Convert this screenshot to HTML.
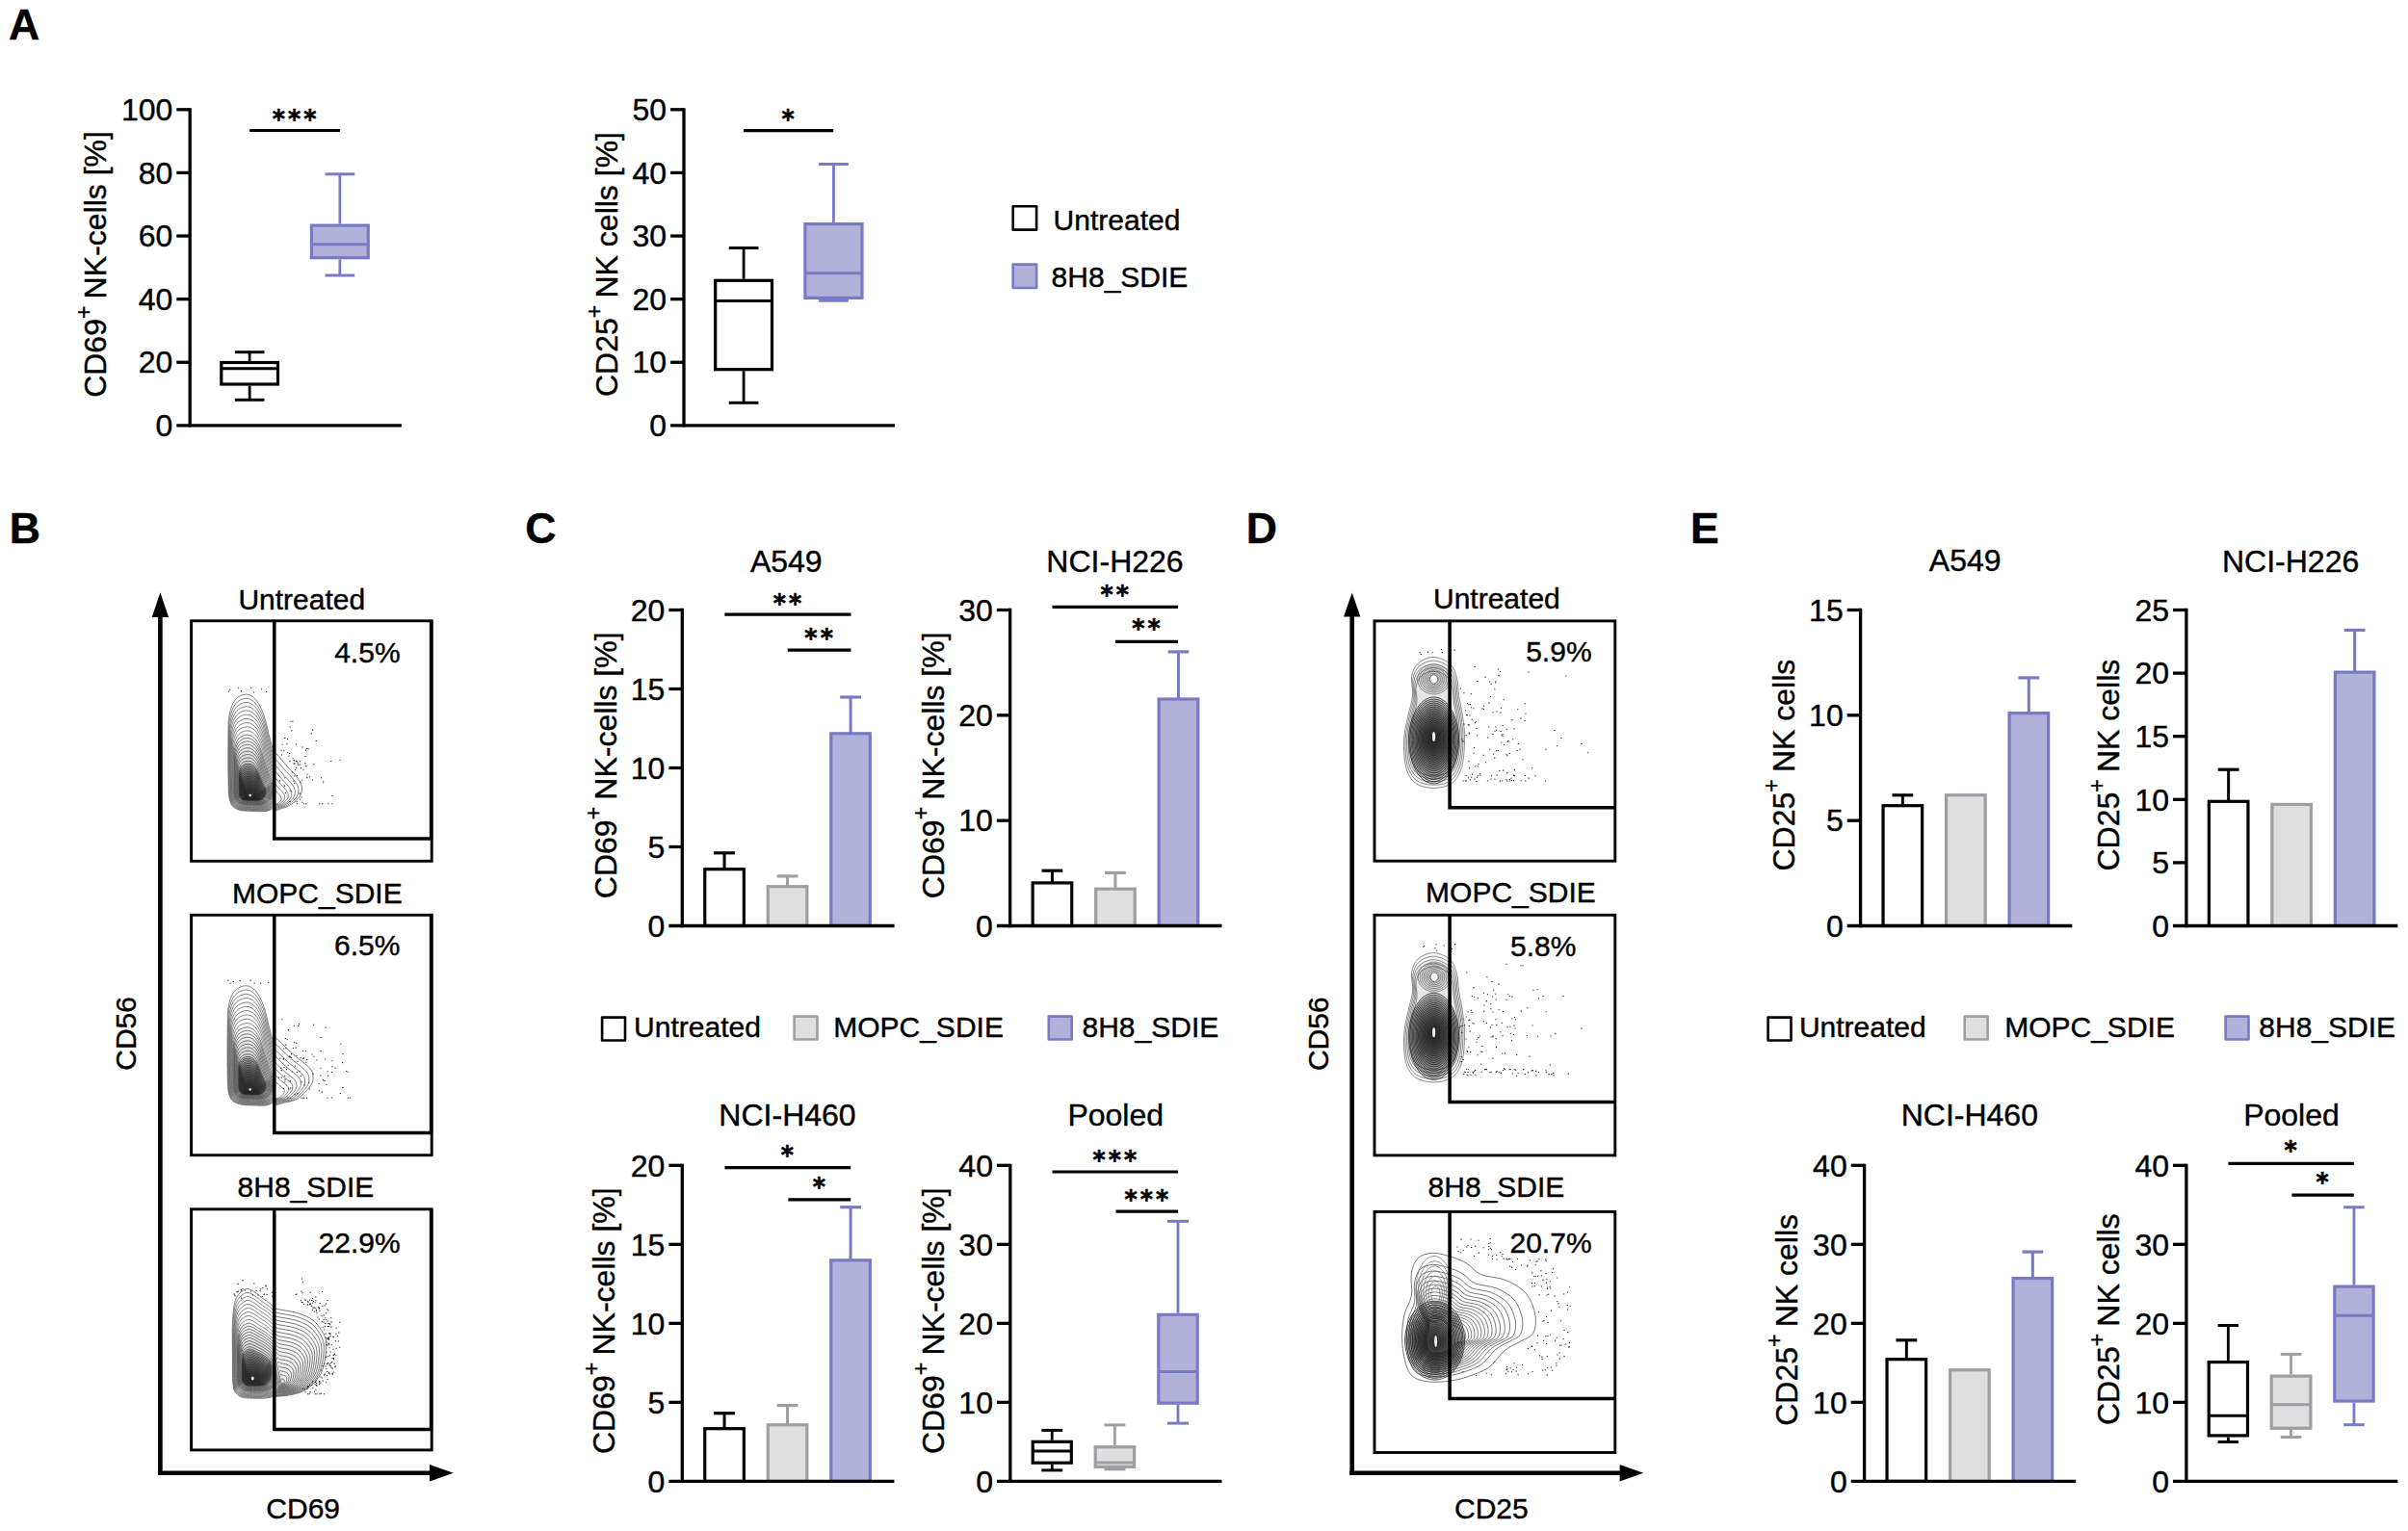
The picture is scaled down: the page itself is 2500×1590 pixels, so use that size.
<!DOCTYPE html>
<html lang="en"><head><meta charset="utf-8"><title>Figure</title>
<style>html,body{margin:0;padding:0;background:#fff}svg{display:block}text{stroke:#000;stroke-width:.4px}text.st{stroke-width:.65px}</style>
</head><body>
<svg width="2500" height="1590" viewBox="0 0 2500 1590" font-family='"Liberation Sans", Arial, Helvetica, sans-serif' font-size="30" fill="#000">
<text x="9" y="41.4" font-weight="bold" font-size="44.6">A</text>
<line x1="259.15" y1="365.7" x2="259.15" y2="374.9" stroke="#000" stroke-width="2.8"/>
<line x1="259.15" y1="400.6" x2="259.15" y2="415.3" stroke="#000" stroke-width="2.8"/>
<line x1="243.85" y1="365.7" x2="274.45" y2="365.7" stroke="#000" stroke-width="3"/>
<line x1="243.85" y1="415.3" x2="274.45" y2="415.3" stroke="#000" stroke-width="3"/>
<rect x="229.8" y="376.5" width="58.7" height="22.5" stroke="#000" fill="#fff" stroke-width="3.2"/>
<line x1="229.8" y1="382.8" x2="288.5" y2="382.8" stroke="#000" stroke-width="3"/>
<line x1="352.85" y1="180.8" x2="352.85" y2="232.5" stroke="#7a79c3" stroke-width="2.8"/>
<line x1="352.85" y1="269.3" x2="352.85" y2="286" stroke="#7a79c3" stroke-width="2.8"/>
<line x1="337.5" y1="180.8" x2="368.2" y2="180.8" stroke="#7a79c3" stroke-width="3"/>
<line x1="337.5" y1="286" x2="368.2" y2="286" stroke="#7a79c3" stroke-width="3"/>
<rect x="323.4" y="234.1" width="58.9" height="33.6" stroke="#7a79c3" fill="#b2b1d9" stroke-width="3.2"/>
<line x1="323.4" y1="253.7" x2="382.3" y2="253.7" stroke="#7a79c3" stroke-width="3"/>
<line x1="259.2" y1="135.5" x2="352.9" y2="135.5" stroke="#000" stroke-width="3.2"/>
<text transform="translate(305.55 132.67) scale(0.94 1)" x="1.65" text-anchor="middle" font-family='"DejaVu Sans", "Liberation Sans", sans-serif' font-weight="bold" font-size="26.8" letter-spacing="3.3" class="st">***</text>
<text transform="translate(110.4 274.5) rotate(-90)" text-anchor="middle" font-size="32">CD69<tspan dy="-15.5" font-size="23">+</tspan><tspan dy="15.5" font-size="26"> </tspan>NK-cells [%]</text>
<line x1="772.1" y1="257.5" x2="772.1" y2="289.7" stroke="#000" stroke-width="2.8"/>
<line x1="772.1" y1="385.3" x2="772.1" y2="418.3" stroke="#000" stroke-width="2.8"/>
<line x1="756.75" y1="257.5" x2="787.45" y2="257.5" stroke="#000" stroke-width="3"/>
<line x1="756.75" y1="418.3" x2="787.45" y2="418.3" stroke="#000" stroke-width="3"/>
<rect x="742.7" y="291.3" width="58.8" height="92.4" stroke="#000" fill="#fff" stroke-width="3.2"/>
<line x1="742.7" y1="312.6" x2="801.5" y2="312.6" stroke="#000" stroke-width="3"/>
<line x1="865.45" y1="170.5" x2="865.45" y2="231" stroke="#7a79c3" stroke-width="2.8"/>
<line x1="865.45" y1="311" x2="865.45" y2="312.2" stroke="#7a79c3" stroke-width="2.8"/>
<line x1="850.1" y1="170.5" x2="880.8" y2="170.5" stroke="#7a79c3" stroke-width="3"/>
<line x1="850.1" y1="312.2" x2="880.8" y2="312.2" stroke="#7a79c3" stroke-width="3"/>
<rect x="835.9" y="232.6" width="59.1" height="76.8" stroke="#7a79c3" fill="#b2b1d9" stroke-width="3.2"/>
<line x1="835.9" y1="283.7" x2="895" y2="283.7" stroke="#7a79c3" stroke-width="3"/>
<line x1="772" y1="135.7" x2="865.2" y2="135.7" stroke="#000" stroke-width="3.2"/>
<text transform="translate(818.1 133.37) scale(0.94 1)" x="1.65" text-anchor="middle" font-family='"DejaVu Sans", "Liberation Sans", sans-serif' font-weight="bold" font-size="26.8" letter-spacing="3.3" class="st">*</text>
<text transform="translate(640.6 274.5) rotate(-90)" text-anchor="middle" font-size="32">CD25<tspan dy="-15.5" font-size="23">+</tspan><tspan dy="15.5" font-size="26"> </tspan>NK cells [%]</text>
<rect x="1051.7" y="214.2" width="24.4" height="24.4" stroke="#000" fill="#fff" stroke-width="2.6" stroke-linejoin="round"/>
<text x="1093.6" y="238.8">Untreated</text>
<rect x="1051.7" y="274.6" width="24.4" height="24.4" stroke="#7a79c3" fill="#b2b1d9" stroke-width="2.6" stroke-linejoin="round"/>
<text x="1091.6" y="298">8H8_SDIE</text>
<text x="9.8" y="563.9" font-weight="bold" font-size="44.6">B</text>
<line x1="166.4" y1="1532" x2="166.4" y2="639.6" stroke="#000" stroke-width="4.6"/>
<polygon points="166.4,615.2 157.7,641 175.1,641" fill="#000"/>
<line x1="164.3" y1="1529.7" x2="447" y2="1529.7" stroke="#000" stroke-width="4.6"/>
<polygon points="470.7,1529.7 446,1521 446,1538.4" fill="#000"/>
<clipPath id="cl0"><rect x="190" y="644.8" width="94.7" height="260"/></clipPath>
<clipPath id="cr0"><rect x="284.7" y="644.8" width="200" height="260"/></clipPath>
<g fill="#000" fill-opacity="0.0" stroke="#5a5a5a" stroke-width="0.75" clip-path="url(#cl0)">
<path d="M255.5 721.1C259.2 721.1 262.9 723.4 266 727.1C269.1 730.8 271.7 736.6 274 743.1C276.3 749.6 277.8 758.1 280 766.1C282.2 774.1 285 784.6 287 791.1C289 797.5 291.5 798.3 292 804.8C292.5 811.2 292 823.7 290 829.8C288 835.9 284.7 839.3 280 841.4C275.3 843.5 267.7 842.6 262 842.4C256.3 842.2 249.9 842.3 246 840.4C242.1 838.5 240 836.7 238.5 830.8C237 824.9 237.2 815.8 237 804.8C236.8 793.8 236.8 775.1 237 764.8C237.2 754.5 236.8 749.4 238 743.1C239.2 736.8 241.1 730.8 244 727.1C246.9 723.4 251.8 721.1 255.5 721.1Z"/>
<path d="M255.6 725.3C259.2 725.3 262.8 727.5 265.8 731.1C268.9 734.6 271.4 740.2 273.7 746.4C275.9 752.7 277.4 760.8 279.5 768.5C281.6 776.2 284.4 786.3 286.3 792.5C288.3 798.7 290.7 799.5 291.2 805.6C291.7 811.8 291.2 823.8 289.3 829.6C287.3 835.5 284.1 838.8 279.5 840.8C275 842.8 267.5 841.9 261.9 841.7C256.4 841.6 250.2 841.7 246.3 839.8C242.5 838 240.5 836.3 239 830.6C237.5 824.9 237.8 816.2 237.5 805.6C237.3 795.1 237.4 777.1 237.5 767.2C237.7 757.4 237.4 752.4 238.5 746.4C239.7 740.4 241.5 734.6 244.4 731.1C247.2 727.5 252 725.3 255.6 725.3Z"/>
<path d="M255.7 729.5C259.2 729.5 262.8 731.6 265.7 735C268.6 738.4 271.1 743.8 273.3 749.7C275.5 755.7 276.9 763.5 279 770.9C281.1 778.3 283.8 788 285.7 793.9C287.6 799.8 289.9 800.6 290.4 806.5C290.9 812.4 290.4 823.9 288.5 829.5C286.6 835.1 283.4 838.2 279 840.2C274.6 842.1 267.3 841.2 261.9 841.1C256.5 840.9 250.4 841 246.7 839.2C242.9 837.5 241 835.9 239.5 830.4C238.1 825 238.3 816.6 238.1 806.5C237.9 796.4 237.9 779.2 238.1 769.7C238.3 760.2 237.9 755.5 239.1 749.7C240.2 744 242 738.4 244.8 735C247.5 731.6 252.2 729.5 255.7 729.5Z"/>
<path d="M255.8 733.7C259.2 733.7 262.7 735.7 265.5 739C268.4 742.2 270.8 747.3 272.9 753C275.1 758.8 276.5 766.2 278.5 773.3C280.5 780.3 283.1 789.6 285 795.3C286.8 801 289.2 801.7 289.6 807.3C290.1 813 289.6 824 287.8 829.3C285.9 834.7 282.8 837.7 278.5 839.6C274.2 841.4 267.1 840.6 261.8 840.4C256.6 840.3 250.6 840.4 247 838.7C243.4 837 241.5 835.4 240.1 830.2C238.7 825 238.9 817 238.7 807.3C238.4 797.7 238.5 781.2 238.7 772.1C238.8 763.1 238.5 758.6 239.6 753C240.7 747.5 242.5 742.2 245.2 739C247.9 735.7 252.4 733.7 255.8 733.7Z"/>
<path d="M255.9 737.9C259.2 737.9 262.6 739.8 265.4 742.9C268.2 746 270.5 750.9 272.6 756.4C274.7 761.8 276 769 278 775.7C279.9 782.4 282.5 791.3 284.3 796.7C286.1 802.1 288.3 802.8 288.8 808.2C289.2 813.6 288.8 824.1 287 829.2C285.2 834.3 282.2 837.2 278 838.9C273.8 840.7 266.9 839.9 261.8 839.8C256.7 839.6 250.9 839.7 247.4 838.1C243.8 836.5 242 835 240.6 830C239.3 825 239.5 817.4 239.3 808.2C239 799 239.1 783.2 239.3 774.6C239.4 766 239.1 761.6 240.2 756.4C241.2 751.1 242.9 746 245.6 742.9C248.2 739.8 252.6 737.9 255.9 737.9Z"/>
<path d="M256 742.1C259.2 742.1 262.5 743.9 265.2 746.9C267.9 749.8 270.2 754.5 272.2 759.7C274.2 764.9 275.6 771.7 277.5 778.1C279.4 784.5 281.8 792.9 283.6 798.1C285.3 803.2 287.5 803.9 288 809C288.4 814.2 288 824.2 286.2 829C284.5 833.9 281.5 836.6 277.5 838.3C273.4 840 266.7 839.3 261.7 839.1C256.8 839 251.1 839.1 247.7 837.5C244.3 836 242.5 834.6 241.2 829.8C239.8 825.1 240.1 817.8 239.8 809C239.6 800.2 239.7 785.3 239.8 777C240 768.8 239.7 764.7 240.7 759.7C241.7 754.7 243.4 749.8 246 746.9C248.5 743.9 252.8 742.1 256 742.1Z"/>
<path d="M256.1 746.3C259.2 746.3 262.4 748 265 750.8C267.7 753.6 269.8 758.1 271.8 763C273.8 767.9 275.1 774.4 276.9 780.5C278.8 786.6 281.2 794.6 282.9 799.5C284.6 804.4 286.7 805 287.1 809.9C287.5 814.8 287.1 824.3 285.4 828.9C283.7 833.5 280.9 836.1 276.9 837.7C273 839.3 266.5 838.6 261.7 838.5C256.8 838.3 251.4 838.4 248.1 836.9C244.8 835.5 243 834.2 241.7 829.6C240.4 825.1 240.7 818.2 240.4 809.9C240.2 801.5 240.3 787.3 240.4 779.5C240.6 771.7 240.3 767.8 241.3 763C242.3 758.2 243.9 753.6 246.4 750.8C248.9 748 253 746.3 256.1 746.3Z"/>
<path d="M256.3 750.5C259.3 750.5 262.3 752.2 264.9 754.8C267.4 757.4 269.5 761.6 271.4 766.3C273.4 771 274.6 777.1 276.4 782.9C278.1 788.6 280.5 796.2 282.1 800.9C283.8 805.5 285.8 806.1 286.2 810.7C286.6 815.4 286.2 824.3 284.6 828.7C282.9 833.1 280.2 835.6 276.4 837.1C272.5 838.6 266.2 837.9 261.6 837.8C256.9 837.7 251.7 837.8 248.5 836.4C245.2 835 243.5 833.7 242.3 829.5C241.1 825.2 241.3 818.7 241.1 810.7C240.9 802.8 240.9 789.3 241.1 781.9C241.2 774.5 240.9 770.8 241.9 766.3C242.8 761.8 244.4 757.4 246.8 754.8C249.2 752.2 253.2 750.5 256.3 750.5Z"/>
<path d="M256.4 754.7C259.3 754.7 262.3 756.3 264.7 758.7C267.1 761.2 269.2 765.2 271 769.6C272.9 774 274.1 779.8 275.8 785.3C277.5 790.7 279.8 797.9 281.4 802.3C282.9 806.7 284.9 807.2 285.3 811.6C285.7 816 285.3 824.4 283.7 828.6C282.2 832.7 279.5 835 275.8 836.5C272.1 837.9 266 837.3 261.5 837.2C257 837 251.9 837.1 248.8 835.8C245.7 834.5 244.1 833.3 242.9 829.3C241.7 825.2 241.9 819.1 241.7 811.6C241.5 804.1 241.6 791.4 241.7 784.4C241.8 777.4 241.6 773.9 242.5 769.6C243.4 765.4 244.9 761.2 247.2 758.7C249.6 756.3 253.5 754.7 256.4 754.7Z"/>
<path d="M256.5 758.9C259.3 758.9 262.2 760.4 264.5 762.7C266.9 765.1 268.9 768.8 270.6 772.9C272.4 777.1 273.6 782.5 275.2 787.7C276.9 792.8 279.1 799.5 280.6 803.7C282.1 807.8 284 808.3 284.4 812.4C284.8 816.6 284.4 824.5 282.9 828.4C281.4 832.3 278.8 834.5 275.2 835.9C271.7 837.2 265.8 836.6 261.5 836.5C257.1 836.4 252.2 836.5 249.2 835.2C246.2 834 244.6 832.9 243.5 829.1C242.3 825.3 242.5 819.5 242.3 812.4C242.1 805.4 242.2 793.4 242.3 786.8C242.5 780.3 242.2 777 243.1 772.9C244 768.9 245.5 765.1 247.7 762.7C249.9 760.4 253.7 758.9 256.5 758.9Z"/>
</g>
<g fill="#000" fill-opacity="0.018" stroke="#484848" stroke-width="0.75" clip-path="url(#cl0)">
<path d="M256.6 763.1C259.3 763.1 262.1 764.5 264.3 766.7C266.6 768.9 268.5 772.4 270.2 776.3C271.9 780.2 273 785.3 274.6 790.1C276.2 794.9 278.3 801.2 279.8 805.1C281.3 808.9 283.1 809.4 283.5 813.3C283.8 817.1 283.5 824.6 282 828.3C280.5 831.9 278.1 834 274.6 835.2C271.2 836.5 265.6 835.9 261.4 835.8C257.2 835.7 252.5 835.8 249.6 834.6C246.7 833.5 245.2 832.4 244.1 828.9C243 825.3 243.2 819.9 243 813.3C242.8 806.7 242.9 795.4 243 789.3C243.1 783.1 242.9 780 243.7 776.3C244.6 772.5 246 768.9 248.1 766.7C250.3 764.5 253.9 763.1 256.6 763.1Z"/>
<path d="M256.7 766.5C259.3 766.5 262 767.8 264.2 769.9C266.4 772 268.2 775.3 269.9 779C271.5 782.6 272.6 787.5 274.2 792C275.7 796.5 277.7 802.5 279.1 806.2C280.6 809.9 282.3 810.3 282.7 814C283 817.6 282.7 824.7 281.3 828.2C279.8 831.6 277.5 833.5 274.2 834.7C270.8 835.9 265.4 835.4 261.3 835.3C257.3 835.2 252.7 835.3 249.9 834.2C247.2 833.1 245.7 832.1 244.6 828.7C243.5 825.4 243.7 820.2 243.5 814C243.4 807.7 243.4 797.1 243.5 791.3C243.7 785.4 243.4 782.5 244.3 779C245.1 775.4 246.4 772 248.5 769.9C250.6 767.8 254.1 766.5 256.7 766.5Z"/>
<path d="M256.8 769.9C259.3 769.9 261.9 771.1 264 773.1C266.1 775.1 267.9 778.2 269.5 781.6C271.1 785.1 272.2 789.7 273.6 794C275.1 798.2 277.1 803.9 278.5 807.3C279.8 810.8 281.5 811.2 281.9 814.7C282.2 818.1 281.9 824.8 280.5 828C279.1 831.3 276.9 833.1 273.6 834.2C270.4 835.4 265.2 834.9 261.3 834.8C257.4 834.7 253 834.7 250.3 833.7C247.6 832.7 246.2 831.7 245.1 828.6C244.1 825.4 244.3 820.5 244.1 814.7C243.9 808.8 244 798.8 244.1 793.3C244.2 787.8 244 785 244.8 781.6C245.6 778.3 246.9 775.1 248.9 773.1C250.9 771.1 254.3 769.9 256.8 769.9Z"/>
<path d="M256.9 773.3C259.3 773.3 261.8 774.5 263.9 776.3C265.9 778.1 267.6 781.1 269.2 784.3C270.7 787.6 271.7 791.9 273.1 795.9C274.6 799.9 276.4 805.2 277.8 808.5C279.1 811.7 280.7 812.1 281.1 815.3C281.4 818.6 281.1 824.8 279.8 827.9C278.4 831 276.2 832.7 273.1 833.7C270 834.8 265 834.3 261.2 834.2C257.5 834.2 253.2 834.2 250.6 833.2C248 832.3 246.7 831.4 245.7 828.4C244.7 825.4 244.8 820.9 244.7 815.3C244.5 809.8 244.6 800.4 244.7 795.2C244.8 790.1 244.6 787.5 245.3 784.3C246.1 781.2 247.4 778.1 249.3 776.3C251.2 774.5 254.5 773.3 256.9 773.3Z"/>
<path d="M257 776.7C259.4 776.7 261.7 777.8 263.7 779.5C265.7 781.2 267.3 784 268.8 787C270.3 790.1 271.2 794.1 272.6 797.8C274 801.6 275.8 806.6 277.1 809.6C278.3 812.6 279.9 813 280.2 816C280.6 819.1 280.2 824.9 279 827.8C277.7 830.7 275.6 832.3 272.6 833.2C269.6 834.2 264.8 833.8 261.2 833.7C257.6 833.6 253.5 833.7 251 832.8C248.5 831.9 247.2 831 246.2 828.3C245.3 825.5 245.4 821.2 245.3 816C245.1 810.9 245.2 802.1 245.3 797.2C245.4 792.4 245.2 790 245.9 787C246.6 784.1 247.9 781.2 249.7 779.5C251.6 777.8 254.7 776.7 257 776.7Z"/>
<path d="M257.1 780.1C259.4 780.1 261.7 781.1 263.5 782.7C265.4 784.3 267 786.9 268.4 789.7C269.8 792.6 270.7 796.3 272.1 799.8C273.4 803.3 275.1 807.9 276.3 810.7C277.5 813.6 279.1 813.9 279.4 816.7C279.7 819.5 279.4 825 278.2 827.7C276.9 830.3 274.9 831.8 272.1 832.7C269.2 833.7 264.6 833.2 261.1 833.2C257.6 833.1 253.7 833.1 251.4 832.3C249 831.5 247.7 830.7 246.8 828.1C245.9 825.5 246 821.5 245.9 816.7C245.7 811.9 245.8 803.7 245.9 799.2C246 794.7 245.8 792.5 246.5 789.7C247.2 787 248.4 784.3 250.1 782.7C251.9 781.1 254.9 780.1 257.1 780.1Z"/>
<path d="M257.3 783.5C259.4 783.5 261.6 784.5 263.4 785.9C265.2 787.4 266.7 789.8 268 792.4C269.4 795.1 270.2 798.5 271.5 801.7C272.8 805 274.4 809.3 275.6 811.9C276.7 814.5 278.2 814.8 278.5 817.4C278.8 820 278.5 825.1 277.3 827.5C276.2 830 274.2 831.4 271.5 832.2C268.8 833.1 264.3 832.7 261 832.6C257.7 832.6 254 832.6 251.7 831.8C249.5 831 248.2 830.3 247.4 827.9C246.5 825.5 246.6 821.9 246.5 817.4C246.4 813 246.4 805.4 246.5 801.2C246.6 797 246.4 795 247.1 792.4C247.8 789.9 248.9 787.4 250.6 785.9C252.3 784.5 255.1 783.5 257.3 783.5Z"/>
<path d="M257.4 786.9C259.4 786.9 261.5 787.8 263.2 789.2C264.9 790.5 266.3 792.7 267.6 795.1C268.9 797.5 269.7 800.7 270.9 803.7C272.1 806.7 273.7 810.6 274.8 813C275.9 815.4 277.3 815.7 277.6 818.1C277.8 820.5 277.6 825.1 276.5 827.4C275.3 829.7 273.5 831 270.9 831.7C268.3 832.5 264.1 832.2 261 832.1C257.8 832 254.3 832.1 252.1 831.4C250 830.6 248.8 830 248 827.8C247.1 825.6 247.3 822.2 247.1 818.1C247 814 247.1 807 247.1 803.2C247.2 799.4 247.1 797.5 247.7 795.1C248.3 792.8 249.4 790.5 251 789.2C252.6 787.8 255.4 786.9 257.4 786.9Z"/>
<path d="M257.5 790.3C259.4 790.3 261.4 791.1 263 792.4C264.6 793.6 266 795.6 267.2 797.8C268.4 800 269.2 802.9 270.3 805.6C271.5 808.4 272.9 811.9 274 814.1C275 816.3 276.3 816.6 276.6 818.8C276.9 821 276.6 825.2 275.6 827.3C274.5 829.4 272.8 830.5 270.3 831.2C267.9 832 263.9 831.6 260.9 831.6C257.9 831.5 254.6 831.6 252.5 830.9C250.5 830.2 249.4 829.6 248.6 827.6C247.8 825.6 247.9 822.5 247.8 818.8C247.7 815.1 247.7 808.7 247.8 805.2C247.9 801.7 247.7 800 248.3 797.8C249 795.7 250 793.6 251.5 792.4C253 791.1 255.6 790.3 257.5 790.3Z"/>
</g>
<g fill="#000" fill-opacity="0.075" stroke="#262626" stroke-width="0.7" clip-path="url(#cl0)">
<path d="M257.6 793C259.4 793 261.3 793.7 262.9 794.8C264.4 796 265.7 797.8 266.9 799.9C268 801.9 268.8 804.6 269.9 807.1C270.9 809.7 272.4 813 273.4 815C274.4 817 275.6 817.3 275.9 819.3C276.1 821.4 275.9 825.3 274.9 827.2C273.9 829.1 272.2 830.2 269.9 830.9C267.5 831.5 263.7 831.2 260.9 831.2C258 831.1 254.8 831.1 252.8 830.5C250.9 829.9 249.8 829.4 249.1 827.5C248.3 825.6 248.5 822.8 248.3 819.3C248.2 815.9 248.3 810 248.3 806.7C248.4 803.5 248.3 801.9 248.8 799.9C249.4 797.9 250.4 796 251.8 794.8C253.3 793.7 255.8 793 257.6 793Z"/>
<path d="M257.7 794.7C259.4 794.7 261.3 795.4 262.8 796.4C264.2 797.5 265.5 799.3 266.6 801.2C267.8 803.2 268.5 805.7 269.5 808.1C270.6 810.5 272 813.6 272.9 815.6C273.9 817.5 275.1 817.7 275.3 819.7C275.6 821.6 275.3 825.3 274.4 827.1C273.4 829 271.8 830 269.5 830.6C267.3 831.2 263.6 831 260.8 830.9C258.1 830.9 255 830.9 253.1 830.3C251.2 829.7 250.2 829.2 249.4 827.4C248.7 825.7 248.8 823 248.7 819.7C248.6 816.4 248.6 810.8 248.7 807.7C248.8 804.6 248.6 803.1 249.2 801.2C249.8 799.3 250.7 797.5 252.1 796.4C253.5 795.4 255.9 794.7 257.7 794.7Z"/>
<path d="M257.7 796.4C259.5 796.4 261.2 797 262.7 798C264.1 799.1 265.3 800.7 266.4 802.6C267.5 804.4 268.2 806.8 269.2 809.1C270.2 811.3 271.6 814.3 272.5 816.1C273.4 818 274.6 818.2 274.8 820C275.1 821.8 274.8 825.3 273.9 827.1C273 828.8 271.4 829.8 269.2 830.4C267 830.9 263.4 830.7 260.8 830.6C258.1 830.6 255.1 830.6 253.3 830.1C251.4 829.5 250.5 829 249.8 827.4C249.1 825.7 249.2 823.1 249.1 820C248.9 816.9 249 811.6 249.1 808.7C249.1 805.8 249 804.3 249.5 802.6C250.1 800.8 251 799.1 252.3 798C253.7 797 256 796.4 257.7 796.4Z"/>
<path d="M257.8 798C259.5 798 261.2 798.7 262.5 799.6C263.9 800.6 265.1 802.2 266.2 803.9C267.2 805.6 267.9 807.9 268.9 810C269.9 812.2 271.1 815 272 816.7C273 818.4 274.1 818.6 274.3 820.4C274.5 822.1 274.3 825.4 273.4 827C272.5 828.6 271 829.5 268.9 830.1C266.8 830.7 263.3 830.4 260.7 830.4C258.2 830.3 255.3 830.4 253.5 829.8C251.7 829.3 250.8 828.9 250.1 827.3C249.4 825.7 249.5 823.3 249.4 820.4C249.3 817.4 249.4 812.4 249.4 809.7C249.5 807 249.4 805.6 249.9 803.9C250.4 802.2 251.3 800.6 252.6 799.6C253.9 798.7 256.1 798 257.8 798Z"/>
<path d="M257.9 799.7C259.5 799.7 261.1 800.3 262.4 801.2C263.8 802.2 264.9 803.6 265.9 805.3C266.9 806.9 267.6 809 268.5 811C269.5 813 270.7 815.7 271.6 817.3C272.5 818.9 273.6 819.1 273.8 820.7C274 822.3 273.8 825.4 272.9 827C272 828.5 270.6 829.3 268.5 829.9C266.5 830.4 263.2 830.1 260.7 830.1C258.2 830.1 255.4 830.1 253.7 829.6C252 829.1 251.1 828.7 250.5 827.2C249.8 825.7 249.9 823.4 249.8 820.7C249.7 817.9 249.7 813.3 249.8 810.7C249.9 808.1 249.7 806.8 250.2 805.3C250.8 803.7 251.6 802.2 252.9 801.2C254.1 800.3 256.3 799.7 257.9 799.7Z"/>
<path d="M257.9 801.4C259.5 801.4 261 802 262.3 802.8C263.6 803.7 264.7 805.1 265.7 806.6C266.7 808.1 267.3 810.1 268.2 812C269.1 813.8 270.3 816.3 271.1 817.8C272 819.3 273 819.5 273.2 821C273.4 822.5 273.2 825.5 272.4 826.9C271.5 828.3 270.1 829.1 268.2 829.6C266.2 830.1 263 829.9 260.7 829.8C258.3 829.8 255.6 829.8 254 829.4C252.3 828.9 251.5 828.5 250.8 827.1C250.2 825.7 250.3 823.6 250.2 821C250.1 818.5 250.1 814.1 250.2 811.7C250.3 809.3 250.1 808.1 250.6 806.6C251.1 805.1 251.9 803.7 253.1 802.8C254.4 802 256.4 801.4 257.9 801.4Z"/>
<path d="M258 803.1C259.5 803.1 261 803.6 262.2 804.4C263.5 805.2 264.5 806.5 265.4 807.9C266.4 809.3 267 811.2 267.8 812.9C268.7 814.7 269.8 817 270.6 818.4C271.4 819.8 272.4 820 272.6 821.4C272.8 822.8 272.6 825.5 271.8 826.8C271 828.2 269.7 828.9 267.8 829.4C266 829.8 262.9 829.6 260.6 829.6C258.4 829.5 255.8 829.6 254.2 829.1C252.6 828.7 251.8 828.3 251.2 827C250.6 825.8 250.7 823.8 250.6 821.4C250.5 819 250.5 814.9 250.6 812.7C250.7 810.4 250.5 809.3 251 807.9C251.5 806.6 252.2 805.2 253.4 804.4C254.6 803.6 256.5 803.1 258 803.1Z"/>
<path d="M258.1 804.8C259.5 804.8 260.9 805.3 262.1 806C263.3 806.8 264.3 808 265.2 809.3C266.1 810.6 266.6 812.3 267.5 813.9C268.3 815.5 269.4 817.7 270.1 819C270.9 820.3 271.9 820.4 272.1 821.7C272.3 823 272.1 825.5 271.3 826.8C270.5 828 269.3 828.7 267.5 829.1C265.7 829.5 262.7 829.3 260.6 829.3C258.4 829.3 256 829.3 254.5 828.9C253 828.5 252.2 828.2 251.6 827C251 825.8 251.1 823.9 251 821.7C250.9 819.5 250.9 815.7 251 813.7C251.1 811.6 250.9 810.5 251.4 809.3C251.8 808 252.6 806.8 253.7 806C254.8 805.3 256.7 804.8 258.1 804.8Z"/>
<path d="M258.2 806.5C259.5 806.5 260.9 807 262 807.6C263.1 808.3 264.1 809.4 264.9 810.6C265.8 811.8 266.3 813.4 267.1 814.9C267.9 816.4 268.9 818.3 269.6 819.5C270.4 820.7 271.3 820.9 271.5 822.1C271.6 823.3 271.5 825.6 270.7 826.7C270 827.8 268.8 828.5 267.1 828.9C265.4 829.2 262.6 829.1 260.5 829C258.5 829 256.1 829 254.7 828.7C253.3 828.3 252.5 828 252 826.9C251.4 825.8 251.5 824.1 251.4 822.1C251.3 820 251.4 816.6 251.4 814.6C251.5 812.7 251.4 811.8 251.8 810.6C252.2 809.4 252.9 808.3 254 807.6C255 807 256.8 806.5 258.2 806.5Z"/>
<path d="M258.3 808.2C259.5 808.2 260.8 808.6 261.9 809.2C262.9 809.9 263.8 810.9 264.6 812C265.4 813.1 265.9 814.5 266.7 815.9C267.4 817.2 268.4 819 269.1 820.1C269.8 821.2 270.7 821.3 270.8 822.4C271 823.5 270.8 825.6 270.1 826.6C269.5 827.7 268.3 828.3 266.7 828.6C265.1 829 262.4 828.8 260.5 828.8C258.5 828.8 256.3 828.8 255 828.4C253.6 828.1 252.9 827.8 252.4 826.8C251.9 825.8 252 824.3 251.9 822.4C251.8 820.5 251.8 817.4 251.9 815.6C251.9 813.9 251.8 813 252.2 812C252.6 810.9 253.3 809.9 254.3 809.2C255.3 808.6 257 808.2 258.3 808.2Z"/>
<path d="M258.3 809.9C259.5 809.9 260.7 810.3 261.7 810.8C262.7 811.4 263.6 812.3 264.3 813.3C265.1 814.3 265.6 815.6 266.3 816.8C267 818 267.9 819.7 268.6 820.7C269.2 821.6 270 821.8 270.2 822.8C270.3 823.7 270.2 825.6 269.5 826.6C268.9 827.5 267.8 828 266.3 828.4C264.8 828.7 262.3 828.5 260.4 828.5C258.6 828.5 256.5 828.5 255.3 828.2C254 827.9 253.3 827.6 252.8 826.7C252.3 825.8 252.4 824.4 252.3 822.8C252.3 821.1 252.3 818.2 252.3 816.6C252.4 815 252.3 814.3 252.7 813.3C253 812.3 253.7 811.4 254.6 810.8C255.6 810.3 257.1 809.9 258.3 809.9Z"/>
<path d="M258.4 811.6C259.5 811.6 260.7 811.9 261.6 812.4C262.5 812.9 263.3 813.7 264 814.6C264.7 815.5 265.2 816.7 265.9 817.8C266.5 818.9 267.4 820.3 268 821.2C268.6 822.1 269.4 822.2 269.5 823.1C269.7 824 269.5 825.7 268.9 826.5C268.3 827.4 267.3 827.8 265.9 828.1C264.4 828.4 262.1 828.3 260.4 828.2C258.7 828.2 256.7 828.2 255.5 828C254.4 827.7 253.7 827.5 253.3 826.7C252.8 825.8 252.9 824.6 252.8 823.1C252.7 821.6 252.8 819 252.8 817.6C252.9 816.2 252.8 815.5 253.1 814.6C253.5 813.8 254.1 812.9 254.9 812.4C255.8 811.9 257.3 811.6 258.4 811.6Z"/>
<path d="M258.5 813.3C259.5 813.3 260.6 813.6 261.5 814C262.3 814.5 263.1 815.2 263.7 816C264.4 816.8 264.8 817.8 265.4 818.8C266 819.7 266.8 821 267.4 821.8C267.9 822.6 268.7 822.7 268.8 823.4C268.9 824.2 268.8 825.7 268.2 826.5C267.7 827.2 266.7 827.6 265.4 827.9C264.1 828.1 261.9 828 260.3 828C258.8 828 256.9 828 255.8 827.7C254.7 827.5 254.2 827.3 253.7 826.6C253.3 825.9 253.4 824.8 253.3 823.4C253.2 822.1 253.3 819.8 253.3 818.6C253.4 817.4 253.3 816.7 253.6 816C253.9 815.2 254.5 814.5 255.3 814C256.1 813.6 257.5 813.3 258.5 813.3Z"/>
<path d="M258.6 815C259.6 815 260.5 815.3 261.3 815.6C262.1 816 262.8 816.6 263.4 817.3C264 818 264.4 818.9 264.9 819.7C265.5 820.6 266.2 821.7 266.7 822.3C267.3 823 267.9 823.1 268 823.8C268.2 824.5 268 825.8 267.5 826.4C267 827 266.1 827.4 264.9 827.6C263.7 827.8 261.8 827.7 260.3 827.7C258.8 827.7 257.2 827.7 256.2 827.5C255.2 827.3 254.6 827.1 254.2 826.5C253.8 825.9 253.9 824.9 253.8 823.8C253.8 822.6 253.8 820.7 253.8 819.6C253.9 818.5 253.8 818 254.1 817.3C254.4 816.7 254.9 816 255.6 815.6C256.4 815.3 257.7 815 258.6 815Z"/>
<path d="M258.7 816.7C259.6 816.7 260.5 816.9 261.2 817.2C261.9 817.6 262.5 818.1 263 818.7C263.6 819.2 263.9 820 264.4 820.7C264.9 821.4 265.6 822.3 266.1 822.9C266.5 823.5 267.1 823.6 267.2 824.1C267.4 824.7 267.2 825.8 266.8 826.3C266.3 826.9 265.5 827.2 264.4 827.4C263.4 827.5 261.6 827.5 260.2 827.5C258.9 827.4 257.4 827.4 256.5 827.3C255.6 827.1 255.1 827 254.8 826.4C254.4 825.9 254.5 825.1 254.4 824.1C254.3 823.1 254.4 821.5 254.4 820.6C254.4 819.7 254.4 819.2 254.6 818.7C254.9 818.1 255.4 817.6 256 817.2C256.7 816.9 257.9 816.7 258.7 816.7Z"/>
<path d="M258.8 818.4C259.6 818.4 260.4 818.6 261 818.8C261.6 819.1 262.2 819.5 262.7 820C263.1 820.5 263.5 821.1 263.9 821.7C264.3 822.2 264.9 823 265.3 823.5C265.8 823.9 266.3 824 266.4 824.5C266.5 824.9 266.4 825.8 266 826.3C265.6 826.7 264.9 827 263.9 827.1C262.9 827.3 261.3 827.2 260.2 827.2C259 827.2 257.7 827.2 256.9 827C256.1 826.9 255.6 826.8 255.3 826.3C255 825.9 255.1 825.3 255 824.5C255 823.7 255 822.3 255 821.6C255 820.8 255 820.5 255.2 820C255.5 819.5 255.8 819.1 256.5 818.8C257.1 818.6 258.1 818.4 258.8 818.4Z"/>
<path d="M259 820.1C259.6 820.1 260.3 820.2 260.8 820.4C261.4 820.7 261.8 821 262.2 821.3C262.7 821.7 262.9 822.2 263.3 822.6C263.7 823.1 264.2 823.7 264.6 824C264.9 824.4 265.4 824.4 265.4 824.8C265.5 825.2 265.4 825.9 265.1 826.2C264.7 826.6 264.1 826.7 263.3 826.9C262.5 827 261.1 826.9 260.1 826.9C259.1 826.9 258 826.9 257.3 826.8C256.6 826.7 256.2 826.6 255.9 826.3C255.7 825.9 255.7 825.4 255.7 824.8C255.6 824.2 255.6 823.1 255.7 822.6C255.7 822 255.6 821.7 255.8 821.3C256.1 821 256.4 820.7 256.9 820.4C257.4 820.2 258.3 820.1 259 820.1Z"/>
<path d="M259.1 821.8C259.6 821.8 260.2 821.9 260.6 822C261.1 822.2 261.4 822.4 261.8 822.7C262.1 822.9 262.3 823.3 262.6 823.6C263 823.9 263.4 824.3 263.7 824.6C263.9 824.9 264.3 824.9 264.4 825.2C264.5 825.4 264.4 825.9 264.1 826.2C263.8 826.4 263.3 826.5 262.6 826.6C262 826.7 260.9 826.7 260 826.7C259.2 826.6 258.3 826.7 257.7 826.6C257.1 826.5 256.8 826.4 256.6 826.2C256.4 826 256.4 825.6 256.4 825.2C256.4 824.7 256.4 824 256.4 823.6C256.4 823.1 256.4 822.9 256.6 822.7C256.7 822.4 257 822.2 257.4 822C257.8 821.9 258.6 821.8 259.1 821.8Z"/>
</g>
<circle cx="259.7" cy="826" r="1.3" fill="#fff"/>
<g fill="#000" fill-opacity="0.0" stroke="#5a5a5a" stroke-width="0.8" clip-path="url(#cr0)">
<path d="M279.7 777.8C284.4 777.7 294.1 791.8 299.1 797C304.2 802.3 307.6 805.8 310 809.3C312.4 812.8 313.3 815.3 313.5 818.3C313.7 821.3 312.8 824.5 311 827.3C309.2 830.1 305.5 833.1 302.6 835.1C299.6 837.1 297.1 838.4 293.3 839.4C289.5 840.4 283.8 844 279.7 841.2C275.6 838.4 270.2 829.8 268.7 822.6C267.2 815.4 268.9 805.3 270.7 797.8C272.5 790.3 275 777.9 279.7 777.8Z"/>
<path d="M280.2 784.5C284.3 784.4 292.8 796.8 297.3 801.4C301.7 806.1 304.7 809.1 306.8 812.2C309 815.3 309.8 817.5 309.9 820.1C310.1 822.8 309.3 825.6 307.7 828.1C306.1 830.5 302.9 833.1 300.3 834.9C297.7 836.7 295.5 837.8 292.2 838.7C288.8 839.6 283.8 842.8 280.2 840.3C276.6 837.8 271.8 830.3 270.5 823.9C269.2 817.6 270.6 808.7 272.3 802.1C273.9 795.5 276 784.6 280.2 784.5Z"/>
<path d="M280.7 791.2C284.3 791.1 291.6 801.8 295.4 805.8C299.2 809.8 301.9 812.4 303.7 815.1C305.5 817.8 306.2 819.7 306.3 822C306.5 824.3 305.8 826.7 304.4 828.8C303.1 830.9 300.3 833.2 298 834.7C295.8 836.3 293.9 837.2 291 838C288.1 838.8 283.8 841.5 280.7 839.4C277.5 837.2 273.4 830.7 272.3 825.2C271.2 819.7 272.4 812.1 273.8 806.4C275.2 800.7 277.1 791.3 280.7 791.2Z"/>
<path d="M281.1 797.9C284.2 797.8 290.3 806.8 293.6 810.2C296.8 813.6 299 815.8 300.5 818C302.1 820.3 302.7 821.9 302.8 823.8C302.9 825.7 302.3 827.8 301.2 829.6C300 831.4 297.7 833.3 295.8 834.6C293.9 835.9 292.3 836.7 289.9 837.3C287.4 838 283.8 840.3 281.1 838.5C278.5 836.7 275.1 831.2 274.1 826.6C273.1 821.9 274.2 815.5 275.4 810.7C276.6 805.9 278.1 798 281.1 797.9Z"/>
<path d="M281.6 804.6C284.1 804.5 289.1 811.9 291.7 814.6C294.3 817.3 296.1 819.1 297.4 821C298.6 822.8 299.1 824.1 299.2 825.6C299.3 827.2 298.8 828.9 297.9 830.3C296.9 831.8 295 833.3 293.5 834.4C292 835.4 290.7 836.1 288.7 836.6C286.7 837.1 283.8 839 281.6 837.6C279.5 836.1 276.7 831.6 275.9 827.9C275.1 824.1 276 818.9 276.9 815C277.9 811.1 279.2 804.6 281.6 804.6Z"/>
<path d="M282.1 811.3C284 811.2 287.8 816.9 289.9 819C291.9 821.1 293.3 822.5 294.2 823.9C295.2 825.3 295.6 826.3 295.6 827.5C295.7 828.7 295.3 830 294.6 831.1C293.9 832.2 292.4 833.4 291.2 834.2C290.1 835 289.1 835.5 287.6 835.9C286 836.3 283.7 837.8 282.1 836.6C280.5 835.5 278.3 832.1 277.7 829.2C277.1 826.3 277.8 822.3 278.5 819.3C279.2 816.3 280.2 811.3 282.1 811.3Z"/>
<path d="M282.6 818C283.9 817.9 286.6 821.9 288 823.4C289.4 824.8 290.4 825.8 291.1 826.8C291.7 827.8 292 828.5 292 829.3C292.1 830.2 291.9 831.1 291.3 831.8C290.8 832.6 289.8 833.5 289 834C288.2 834.6 287.5 834.9 286.4 835.2C285.3 835.5 283.7 836.5 282.6 835.7C281.4 834.9 279.9 832.5 279.5 830.5C279.1 828.5 279.5 825.7 280.1 823.6C280.6 821.5 281.3 818 282.6 818Z"/>
</g>
<path d="M311 824.1h.1M302.9 758.8h.1M298.5 767.7h.1M303.4 801.7h.1M311.7 793.9h.1M292 779.2h.1M302 821.4h.1M312.4 797.6h.1M343.8 790.5h.1M308.2 832.5h.1M319 804.3h.1M309.8 794.2h.1M307.4 790.6h.1M323.3 761.7h.1M353.1 789.2h.1M301.2 755h.1M300.9 832.5h.1M317.7 834.8h.1M335.6 812.1h.1M317.6 779.1h.1M324.6 758.1h.1M295.7 766.5h.1M305.9 792.8h.1M304 787.7h.1M292.4 784h.1M305.1 789.6h.1M319.9 777.6h.1M308.5 791h.1M304.7 811h.1M294.9 779.8h.1M316.8 792.6h.1M318.4 777.4h.1M325.8 793.8h.1M303.8 749.2h.1M295.3 816.1h.1M311.6 830.2h.1M344.8 834.8h.1M317.8 795.6h.1M308.5 805.6h.1M290.5 810.8h.1M340.8 834.8h.1M314.9 799.2h.1M300.5 782.4h.1M305.6 813.2h.1M315.6 834.8h.1M305.1 793.1h.1M311.5 812h.1M328.2 769.4h.1M313.8 833.2h.1M298.6 781.8h.1M324.5 809.9h.1M300 784.9h.1M333.4 807.8h.1M306.6 799.5h.1M305.7 806h.1M307.5 773h.1M313.8 776h.1M317 785.4h.1M308.4 834.8h.1M296.4 823.4h.1M301.8 749.2h.1M313.7 810.2h.1M295.8 807.7h.1M300.8 790.6h.1M307.7 797.5h.1M309 792.8h.1M297.8 772.8h.1M331.5 834.8h.1M334.8 834.8h.1M311.4 790.7h.1M293.1 773.3h.1M321.5 806.8h.1M313.1 827.9h.1M318.7 807.6h.1M345.1 826.4h.1" stroke="#222" stroke-width="1.05" stroke-linecap="square" fill="none"/>
<path d="M263.5 719h.1M260.6 714.3h.1M271.5 715.7h.1M238.8 716.2h.1M247.5 714.2h.1M237.5 718h.1M276.6 718.5h.1M250.5 717.6h.1" stroke="#222" stroke-width="1.05" stroke-linecap="square" fill="none"/>
<clipPath id="cl1"><rect x="190" y="950.3" width="94.7" height="260"/></clipPath>
<clipPath id="cr1"><rect x="284.7" y="950.3" width="200" height="260"/></clipPath>
<g fill="#000" fill-opacity="0.0" stroke="#5a5a5a" stroke-width="0.75" clip-path="url(#cl1)">
<path d="M255.5 1023.7C259.3 1023.7 262.9 1026 266 1029.7C269.1 1033.4 271.7 1039.2 274 1045.7C276.3 1052.2 277.8 1060.7 280 1068.7C282.2 1076.7 285 1086.8 287 1093.7C289 1100.6 291.5 1103.4 292 1110.3C292.5 1117.2 292 1129.2 290 1135.3C288 1141.4 284.7 1144.8 280 1146.9C275.3 1149 267.7 1148.1 262 1147.9C256.3 1147.7 250.1 1147.8 246 1145.9C241.9 1144 239.3 1142.2 237.7 1136.3C236.1 1130.4 236.4 1121.3 236.2 1110.3C235.9 1099.3 236 1081.1 236.2 1070.3C236.4 1059.5 236 1052.5 237.2 1045.7C238.4 1038.9 240.1 1033.4 243.2 1029.7C246.2 1026 251.7 1023.7 255.5 1023.7Z"/>
<path d="M255.6 1028C259.3 1028 262.8 1030.3 265.8 1033.8C268.9 1037.3 271.4 1042.9 273.7 1049.1C275.9 1055.4 277.4 1063.5 279.5 1071.2C281.6 1078.9 284.4 1088.6 286.3 1095.2C288.3 1101.9 290.7 1104.5 291.2 1111.1C291.7 1117.8 291.2 1129.3 289.3 1135.1C287.3 1141 284.1 1144.3 279.5 1146.3C275 1148.3 267.5 1147.4 261.9 1147.2C256.4 1147.1 250.3 1147.2 246.3 1145.3C242.4 1143.5 239.8 1141.8 238.2 1136.1C236.6 1130.4 237 1121.7 236.8 1111.1C236.5 1100.6 236.6 1083.1 236.8 1072.7C236.9 1062.4 236.6 1055.6 237.7 1049.1C238.9 1042.6 240.6 1037.3 243.6 1033.8C246.6 1030.3 251.9 1028 255.6 1028Z"/>
<path d="M255.7 1032.3C259.3 1032.3 262.8 1034.5 265.7 1037.8C268.6 1041.2 271.1 1046.6 273.3 1052.6C275.5 1058.5 276.9 1066.4 279 1073.7C281.1 1081.1 283.8 1090.3 285.7 1096.7C287.6 1103.1 289.9 1105.6 290.4 1112C290.9 1118.4 290.4 1129.4 288.5 1135C286.6 1140.6 283.4 1143.7 279 1145.7C274.6 1147.6 267.3 1146.7 261.9 1146.6C256.5 1146.4 250.5 1146.5 246.7 1144.7C242.8 1143 240.3 1141.4 238.8 1135.9C237.2 1130.5 237.6 1122.1 237.3 1112C237.1 1101.9 237.2 1085.1 237.3 1075.2C237.5 1065.3 237.2 1058.8 238.3 1052.6C239.4 1046.3 241.1 1041.2 244 1037.8C246.9 1034.5 252.1 1032.3 255.7 1032.3Z"/>
<path d="M255.8 1036.6C259.3 1036.6 262.7 1038.7 265.5 1041.9C268.4 1045.1 270.8 1050.3 272.9 1056C275.1 1061.7 276.5 1069.2 278.5 1076.2C280.5 1083.3 283.1 1092.1 285 1098.2C286.8 1104.3 289.2 1106.7 289.6 1112.8C290.1 1118.9 289.6 1129.5 287.8 1134.8C285.9 1140.2 282.8 1143.2 278.5 1145.1C274.2 1146.9 267.1 1146.1 261.8 1145.9C256.6 1145.8 250.8 1145.9 247 1144.2C243.3 1142.5 240.8 1140.9 239.3 1135.7C237.8 1130.5 238.2 1122.5 237.9 1112.8C237.7 1103.2 237.8 1087.1 237.9 1077.6C238.1 1068.2 237.8 1062 238.9 1056C239.9 1050 241.6 1045.1 244.4 1041.9C247.2 1038.7 252.3 1036.6 255.8 1036.6Z"/>
<path d="M255.9 1040.9C259.3 1040.9 262.6 1042.9 265.4 1046C268.2 1049.1 270.5 1054 272.6 1059.4C274.7 1064.9 276 1072 278 1078.7C279.9 1085.5 282.5 1093.9 284.3 1099.7C286.1 1105.6 288.3 1107.9 288.8 1113.7C289.2 1119.5 288.8 1129.6 287 1134.7C285.2 1139.8 282.2 1142.7 278 1144.4C273.8 1146.2 266.9 1145.4 261.8 1145.3C256.7 1145.1 251 1145.2 247.4 1143.6C243.7 1142 241.4 1140.5 239.9 1135.5C238.4 1130.5 238.8 1122.9 238.5 1113.7C238.3 1104.5 238.4 1089.1 238.5 1080.1C238.7 1071 238.4 1065.1 239.4 1059.4C240.5 1053.7 242.1 1049.1 244.8 1046C247.6 1042.9 252.5 1040.9 255.9 1040.9Z"/>
<path d="M256 1045.3C259.4 1045.3 262.5 1047.1 265.2 1050.1C267.9 1053 270.2 1057.7 272.2 1062.9C274.2 1068.1 275.6 1074.9 277.5 1081.3C279.4 1087.7 281.8 1095.7 283.6 1101.3C285.3 1106.8 287.5 1109 288 1114.5C288.4 1120.1 288 1129.7 286.2 1134.5C284.5 1139.4 281.5 1142.1 277.5 1143.8C273.4 1145.5 266.7 1144.8 261.7 1144.6C256.8 1144.5 251.3 1144.6 247.7 1143C244.2 1141.5 241.9 1140.1 240.5 1135.3C239 1130.6 239.4 1123.3 239.1 1114.5C238.9 1105.7 239 1091.2 239.1 1082.5C239.3 1073.9 239 1068.3 240 1062.9C241 1057.4 242.6 1053 245.3 1050.1C247.9 1047.1 252.7 1045.3 256 1045.3Z"/>
<path d="M256.1 1049.6C259.4 1049.6 262.4 1051.3 265 1054.1C267.7 1056.9 269.8 1061.4 271.8 1066.3C273.8 1071.2 275.1 1077.7 276.9 1083.8C278.8 1089.9 281.2 1097.5 282.9 1102.8C284.6 1108 286.7 1110.1 287.1 1115.4C287.5 1120.7 287.1 1129.8 285.4 1134.4C283.7 1139 280.9 1141.6 276.9 1143.2C273 1144.8 266.5 1144.1 261.7 1144C256.8 1143.8 251.5 1143.9 248.1 1142.4C244.6 1141 242.4 1139.7 241 1135.1C239.7 1130.6 240 1123.7 239.8 1115.4C239.6 1107 239.6 1093.2 239.8 1085C239.9 1076.8 239.6 1071.4 240.6 1066.3C241.6 1061.1 243.1 1056.9 245.7 1054.1C248.3 1051.3 252.9 1049.6 256.1 1049.6Z"/>
<path d="M256.3 1053.9C259.4 1053.9 262.3 1055.6 264.9 1058.2C267.4 1060.8 269.5 1065 271.4 1069.7C273.4 1074.4 274.6 1080.5 276.4 1086.3C278.1 1092 280.5 1099.3 282.1 1104.3C283.8 1109.3 285.8 1111.2 286.2 1116.2C286.6 1121.2 286.2 1129.8 284.6 1134.2C282.9 1138.6 280.2 1141.1 276.4 1142.6C272.5 1144.1 266.2 1143.4 261.6 1143.3C256.9 1143.2 251.8 1143.3 248.5 1141.9C245.1 1140.5 243 1139.2 241.6 1135C240.3 1130.7 240.6 1124.2 240.4 1116.2C240.2 1108.3 240.3 1095.2 240.4 1087.4C240.5 1079.7 240.3 1074.6 241.2 1069.7C242.2 1064.9 243.6 1060.8 246.2 1058.2C248.7 1055.6 253.1 1053.9 256.3 1053.9Z"/>
<path d="M256.4 1058.2C259.4 1058.2 262.3 1059.8 264.7 1062.3C267.1 1064.8 269.2 1068.7 271 1073.2C272.9 1077.6 274.1 1083.4 275.8 1088.8C277.5 1094.2 279.8 1101.1 281.4 1105.8C282.9 1110.5 284.9 1112.4 285.3 1117.1C285.7 1121.8 285.3 1129.9 283.7 1134.1C282.2 1138.2 279.5 1140.5 275.8 1142C272.1 1143.4 266 1142.8 261.5 1142.7C257 1142.5 252 1142.6 248.8 1141.3C245.6 1140 243.5 1138.8 242.2 1134.8C240.9 1130.7 241.3 1124.6 241.1 1117.1C240.9 1109.6 240.9 1097.2 241.1 1089.9C241.2 1082.6 240.9 1077.8 241.8 1073.2C242.8 1068.6 244.2 1064.8 246.6 1062.3C249 1059.8 253.4 1058.2 256.4 1058.2Z"/>
<path d="M256.5 1062.5C259.4 1062.5 262.2 1064 264.5 1066.3C266.9 1068.7 268.9 1072.4 270.6 1076.6C272.4 1080.7 273.6 1086.2 275.2 1091.3C276.9 1096.4 279.1 1102.9 280.6 1107.3C282.1 1111.7 284 1113.5 284.4 1117.9C284.8 1122.4 284.4 1130 282.9 1133.9C281.4 1137.8 278.8 1140 275.2 1141.4C271.7 1142.7 265.8 1142.1 261.5 1142C257.1 1141.9 252.3 1142 249.2 1140.7C246.1 1139.5 244.1 1138.4 242.9 1134.6C241.6 1130.8 241.9 1125 241.7 1117.9C241.5 1110.9 241.6 1099.2 241.7 1092.3C241.8 1085.4 241.6 1080.9 242.5 1076.6C243.4 1072.3 244.7 1068.7 247.1 1066.3C249.4 1064 253.6 1062.5 256.5 1062.5Z"/>
</g>
<g fill="#000" fill-opacity="0.018" stroke="#484848" stroke-width="0.75" clip-path="url(#cl1)">
<path d="M256.6 1066.8C259.4 1066.8 262.1 1068.2 264.3 1070.4C266.6 1072.6 268.5 1076.1 270.2 1080C271.9 1083.9 273 1089 274.6 1093.8C276.2 1098.6 278.3 1104.7 279.8 1108.8C281.3 1113 283.1 1114.6 283.5 1118.8C283.8 1122.9 283.5 1130.1 282 1133.8C280.5 1137.4 278.1 1139.5 274.6 1140.7C271.2 1142 265.6 1141.4 261.4 1141.3C257.2 1141.2 252.6 1141.3 249.6 1140.1C246.6 1139 244.7 1137.9 243.5 1134.4C242.3 1130.8 242.6 1125.4 242.4 1118.8C242.2 1112.2 242.3 1101.2 242.4 1094.8C242.5 1088.3 242.3 1084.1 243.1 1080C244 1076 245.3 1072.6 247.6 1070.4C249.8 1068.2 253.8 1066.8 256.6 1066.8Z"/>
<path d="M256.7 1070.3C259.4 1070.3 262 1071.6 264.2 1073.7C266.4 1075.8 268.2 1079.1 269.9 1082.8C271.5 1086.5 272.6 1091.3 274.2 1095.9C275.7 1100.4 277.7 1106.1 279.1 1110C280.6 1114 282.3 1115.5 282.7 1119.5C283 1123.4 282.7 1130.2 281.3 1133.7C279.8 1137.1 277.5 1139 274.2 1140.2C270.8 1141.4 265.4 1140.9 261.3 1140.8C257.3 1140.7 252.8 1140.8 249.9 1139.7C247.1 1138.6 245.2 1137.6 244 1134.2C242.9 1130.9 243.1 1125.7 243 1119.5C242.8 1113.2 242.9 1102.9 243 1096.8C243.1 1090.7 242.9 1086.6 243.7 1082.8C244.5 1079 245.8 1075.8 248 1073.7C250.1 1071.6 254 1070.3 256.7 1070.3Z"/>
<path d="M256.8 1073.8C259.4 1073.8 261.9 1075.1 264 1077C266.1 1079 267.9 1082.1 269.5 1085.6C271.1 1089.1 272.2 1093.6 273.6 1097.9C275.1 1102.2 277.1 1107.6 278.5 1111.3C279.8 1115 281.5 1116.4 281.9 1120.2C282.2 1123.9 281.9 1130.3 280.5 1133.5C279.1 1136.8 276.9 1138.6 273.6 1139.7C270.4 1140.9 265.2 1140.4 261.3 1140.3C257.4 1140.2 253.1 1140.2 250.3 1139.2C247.5 1138.2 245.7 1137.2 244.6 1134.1C243.5 1130.9 243.7 1126 243.6 1120.2C243.4 1114.3 243.4 1104.5 243.6 1098.8C243.7 1093 243.4 1089.2 244.2 1085.6C245 1082 246.3 1079 248.4 1077C250.5 1075.1 254.2 1073.8 256.8 1073.8Z"/>
<path d="M256.9 1077.3C259.4 1077.3 261.8 1078.5 263.9 1080.3C265.9 1082.2 267.6 1085.1 269.2 1088.4C270.7 1091.7 271.7 1095.9 273.1 1099.9C274.6 1104 276.4 1109 277.8 1112.5C279.1 1116 280.7 1117.4 281.1 1120.8C281.4 1124.3 281.1 1130.3 279.8 1133.4C278.4 1136.5 276.2 1138.2 273.1 1139.2C270 1140.3 265 1139.8 261.2 1139.7C257.5 1139.7 253.3 1139.7 250.6 1138.7C248 1137.8 246.2 1136.9 245.1 1133.9C244.1 1130.9 244.3 1126.4 244.1 1120.8C244 1115.3 244 1106.2 244.1 1100.7C244.3 1095.3 244 1091.8 244.8 1088.4C245.6 1085 246.8 1082.2 248.8 1080.3C250.8 1078.5 254.4 1077.3 256.9 1077.3Z"/>
<path d="M257 1080.8C259.4 1080.8 261.7 1081.9 263.7 1083.7C265.7 1085.4 267.3 1088.1 268.8 1091.2C270.3 1094.2 271.2 1098.2 272.6 1102C274 1105.7 275.8 1110.5 277.1 1113.7C278.3 1117 279.9 1118.3 280.2 1121.5C280.6 1124.8 280.2 1130.4 279 1133.3C277.7 1136.2 275.6 1137.8 272.6 1138.7C269.6 1139.7 264.8 1139.3 261.2 1139.2C257.6 1139.1 253.6 1139.2 251 1138.3C248.4 1137.4 246.8 1136.5 245.7 1133.8C244.7 1131 244.9 1126.7 244.8 1121.5C244.6 1116.4 244.7 1107.8 244.8 1102.7C244.9 1097.7 244.7 1094.4 245.4 1091.2C246.1 1088 247.3 1085.4 249.2 1083.7C251.1 1081.9 254.6 1080.8 257 1080.8Z"/>
<path d="M257.1 1084.3C259.5 1084.3 261.7 1085.4 263.5 1087C265.4 1088.6 267 1091.1 268.4 1094C269.8 1096.8 270.7 1100.5 272.1 1104C273.4 1107.5 275.1 1111.9 276.3 1115C277.5 1118 279.1 1119.2 279.4 1122.2C279.7 1125.3 279.4 1130.5 278.2 1133.2C276.9 1135.8 274.9 1137.3 272.1 1138.2C269.2 1139.2 264.6 1138.7 261.1 1138.7C257.6 1138.6 253.8 1138.6 251.4 1137.8C248.9 1137 247.3 1136.2 246.3 1133.6C245.3 1131 245.5 1127 245.4 1122.2C245.2 1117.4 245.3 1109.4 245.4 1104.7C245.5 1100 245.3 1096.9 246 1094C246.7 1091 247.8 1088.6 249.7 1087C251.5 1085.4 254.8 1084.3 257.1 1084.3Z"/>
<path d="M257.3 1087.8C259.5 1087.8 261.6 1088.8 263.4 1090.3C265.2 1091.8 266.7 1094.1 268 1096.8C269.4 1099.4 270.2 1102.8 271.5 1106.1C272.8 1109.3 274.4 1113.4 275.6 1116.2C276.7 1119 278.2 1120.1 278.5 1122.9C278.8 1125.7 278.5 1130.6 277.3 1133C276.2 1135.5 274.2 1136.9 271.5 1137.7C268.8 1138.6 264.3 1138.2 261 1138.1C257.7 1138.1 254.1 1138.1 251.7 1137.3C249.4 1136.5 247.9 1135.8 246.9 1133.4C246 1131 246.2 1127.4 246 1122.9C245.9 1118.5 245.9 1111.1 246 1106.7C246.1 1102.4 245.9 1099.5 246.6 1096.8C247.3 1094 248.3 1091.8 250.1 1090.3C251.9 1088.8 255 1087.8 257.3 1087.8Z"/>
<path d="M257.4 1091.3C259.5 1091.3 261.5 1092.2 263.2 1093.6C264.9 1094.9 266.3 1097.1 267.6 1099.5C268.9 1102 269.7 1105.1 270.9 1108.1C272.1 1111.1 273.7 1114.8 274.8 1117.4C275.9 1120 277.3 1121 277.6 1123.6C277.8 1126.2 277.6 1130.6 276.5 1132.9C275.3 1135.2 273.5 1136.5 270.9 1137.2C268.3 1138 264.1 1137.7 261 1137.6C257.8 1137.5 254.4 1137.6 252.1 1136.9C249.9 1136.1 248.4 1135.5 247.5 1133.3C246.6 1131.1 246.8 1127.7 246.7 1123.6C246.6 1119.5 246.6 1112.7 246.7 1108.7C246.8 1104.7 246.6 1102.1 247.3 1099.5C247.9 1097 248.9 1094.9 250.6 1093.6C252.3 1092.2 255.3 1091.3 257.4 1091.3Z"/>
<path d="M257.5 1094.8C259.5 1094.8 261.4 1095.6 263 1096.9C264.6 1098.1 266 1100.1 267.2 1102.3C268.4 1104.5 269.2 1107.4 270.3 1110.1C271.5 1112.9 272.9 1116.3 274 1118.6C275 1121 276.3 1121.9 276.6 1124.3C276.9 1126.6 276.6 1130.7 275.6 1132.8C274.5 1134.9 272.8 1136 270.3 1136.7C267.9 1137.4 263.9 1137.1 260.9 1137.1C257.9 1137 254.6 1137.1 252.5 1136.4C250.4 1135.7 249 1135.1 248.2 1133.1C247.3 1131.1 247.5 1128 247.4 1124.3C247.3 1120.6 247.3 1114.4 247.4 1110.7C247.5 1107 247.3 1104.6 247.9 1102.3C248.5 1100 249.5 1098.1 251.1 1096.9C252.7 1095.6 255.5 1094.8 257.5 1094.8Z"/>
</g>
<g fill="#000" fill-opacity="0.075" stroke="#262626" stroke-width="0.7" clip-path="url(#cl1)">
<path d="M257.6 1097.5C259.5 1097.5 261.3 1098.3 262.9 1099.4C264.4 1100.6 265.7 1102.4 266.9 1104.5C268 1106.5 268.8 1109.2 269.9 1111.7C270.9 1114.2 272.4 1117.4 273.4 1119.6C274.4 1121.8 275.6 1122.6 275.9 1124.8C276.1 1127 275.9 1130.8 274.9 1132.7C273.9 1134.6 272.2 1135.7 269.9 1136.4C267.5 1137 263.7 1136.7 260.9 1136.7C258 1136.6 254.9 1136.6 252.8 1136C250.8 1135.4 249.5 1134.9 248.7 1133C247.9 1131.1 248.1 1128.3 247.9 1124.8C247.8 1121.4 247.9 1115.6 247.9 1112.2C248 1108.8 247.9 1106.6 248.4 1104.5C249 1102.3 249.9 1100.6 251.4 1099.4C253 1098.3 255.7 1097.5 257.6 1097.5Z"/>
<path d="M257.7 1099.3C259.5 1099.3 261.3 1100 262.8 1101.1C264.2 1102.2 265.5 1103.9 266.6 1105.9C267.8 1107.8 268.5 1110.3 269.5 1112.7C270.6 1115.1 272 1118.1 272.9 1120.2C273.9 1122.3 275.1 1123.1 275.3 1125.2C275.6 1127.2 275.3 1130.8 274.4 1132.6C273.4 1134.5 271.8 1135.5 269.5 1136.1C267.3 1136.7 263.6 1136.5 260.8 1136.4C258.1 1136.4 255 1136.4 253.1 1135.8C251.1 1135.2 249.8 1134.7 249 1132.9C248.3 1131.2 248.4 1128.5 248.3 1125.2C248.2 1121.9 248.2 1116.4 248.3 1113.2C248.4 1110 248.2 1107.9 248.8 1105.9C249.4 1103.8 250.2 1102.2 251.7 1101.1C253.2 1100 255.8 1099.3 257.7 1099.3Z"/>
<path d="M257.7 1101C259.5 1101 261.2 1101.7 262.7 1102.7C264.1 1103.8 265.3 1105.4 266.4 1107.2C267.5 1109.1 268.2 1111.5 269.2 1113.7C270.2 1116 271.6 1118.9 272.5 1120.8C273.4 1122.8 274.6 1123.5 274.8 1125.5C275.1 1127.5 274.8 1130.8 273.9 1132.6C273 1134.3 271.4 1135.3 269.2 1135.9C267 1136.4 263.4 1136.2 260.8 1136.1C258.1 1136.1 255.2 1136.1 253.3 1135.6C251.4 1135 250.2 1134.5 249.4 1132.9C248.6 1131.2 248.8 1128.6 248.7 1125.5C248.6 1122.4 248.6 1117.2 248.7 1114.2C248.8 1111.2 248.6 1109.2 249.2 1107.2C249.7 1105.3 250.5 1103.8 252 1102.7C253.4 1101.7 256 1101 257.7 1101Z"/>
<path d="M257.8 1102.8C259.5 1102.8 261.2 1103.4 262.5 1104.4C263.9 1105.4 265.1 1106.9 266.2 1108.6C267.2 1110.4 267.9 1112.6 268.9 1114.8C269.9 1116.9 271.1 1119.6 272 1121.4C273 1123.3 274.1 1124 274.3 1125.9C274.5 1127.7 274.3 1130.9 273.4 1132.5C272.5 1134.1 271 1135 268.9 1135.6C266.8 1136.2 263.3 1135.9 260.7 1135.9C258.2 1135.8 255.3 1135.9 253.5 1135.3C251.7 1134.8 250.5 1134.4 249.8 1132.8C249 1131.2 249.2 1128.8 249.1 1125.9C249 1122.9 249 1118.1 249.1 1115.2C249.1 1112.3 249 1110.4 249.5 1108.6C250.1 1106.8 250.9 1105.4 252.2 1104.4C253.6 1103.4 256.1 1102.8 257.8 1102.8Z"/>
<path d="M257.9 1104.5C259.5 1104.5 261.1 1105.1 262.4 1106C263.8 1106.9 264.9 1108.4 265.9 1110C266.9 1111.7 267.6 1113.8 268.5 1115.8C269.5 1117.8 270.7 1120.3 271.6 1122C272.5 1123.8 273.6 1124.5 273.8 1126.2C274 1127.9 273.8 1130.9 272.9 1132.5C272 1134 270.6 1134.8 268.5 1135.4C266.5 1135.9 263.2 1135.6 260.7 1135.6C258.2 1135.6 255.5 1135.6 253.7 1135.1C252 1134.6 250.8 1134.2 250.1 1132.7C249.4 1131.2 249.6 1128.9 249.5 1126.2C249.4 1123.4 249.4 1118.9 249.5 1116.2C249.5 1113.5 249.4 1111.7 249.9 1110C250.4 1108.3 251.2 1106.9 252.5 1106C253.8 1105.1 256.2 1104.5 257.9 1104.5Z"/>
<path d="M257.9 1106.3C259.5 1106.3 261 1106.8 262.3 1107.7C263.6 1108.5 264.7 1109.9 265.7 1111.4C266.7 1112.9 267.3 1114.9 268.2 1116.8C269.1 1118.7 270.3 1121 271.1 1122.7C272 1124.3 273 1124.9 273.2 1126.5C273.4 1128.2 273.2 1131 272.4 1132.4C271.5 1133.8 270.1 1134.6 268.2 1135.1C266.2 1135.6 263 1135.4 260.7 1135.3C258.3 1135.3 255.7 1135.3 254 1134.9C252.3 1134.4 251.2 1134 250.5 1132.6C249.8 1131.2 250 1129.1 249.9 1126.5C249.8 1124 249.8 1119.7 249.9 1117.2C249.9 1114.7 249.8 1113 250.3 1111.4C250.8 1109.8 251.5 1108.5 252.8 1107.7C254.1 1106.8 256.4 1106.3 257.9 1106.3Z"/>
<path d="M258 1108C259.5 1108 261 1108.5 262.2 1109.3C263.5 1110.1 264.5 1111.4 265.4 1112.8C266.4 1114.2 267 1116.1 267.8 1117.8C268.7 1119.6 269.8 1121.8 270.6 1123.3C271.4 1124.8 272.4 1125.4 272.6 1126.9C272.8 1128.4 272.6 1131 271.8 1132.3C271 1133.7 269.7 1134.4 267.8 1134.9C266 1135.3 262.9 1135.1 260.6 1135.1C258.4 1135 255.8 1135.1 254.2 1134.6C252.6 1134.2 251.5 1133.8 250.9 1132.5C250.2 1131.3 250.4 1129.3 250.3 1126.9C250.2 1124.5 250.2 1120.5 250.3 1118.2C250.3 1115.8 250.2 1114.3 250.7 1112.8C251.1 1111.3 251.9 1110.1 253.1 1109.3C254.3 1108.5 256.5 1108 258 1108Z"/>
<path d="M258.1 1109.7C259.5 1109.7 260.9 1110.2 262.1 1111C263.3 1111.7 264.3 1112.9 265.2 1114.2C266.1 1115.5 266.6 1117.2 267.5 1118.8C268.3 1120.4 269.4 1122.5 270.1 1123.9C270.9 1125.3 271.9 1125.8 272.1 1127.2C272.3 1128.6 272.1 1131 271.3 1132.3C270.5 1133.5 269.3 1134.2 267.5 1134.6C265.7 1135 262.7 1134.8 260.6 1134.8C258.4 1134.8 256 1134.8 254.5 1134.4C252.9 1134 251.9 1133.7 251.3 1132.5C250.7 1131.3 250.8 1129.4 250.7 1127.2C250.6 1125 250.6 1121.3 250.7 1119.2C250.8 1117 250.6 1115.6 251.1 1114.2C251.5 1112.8 252.2 1111.7 253.4 1111C254.6 1110.2 256.6 1109.7 258.1 1109.7Z"/>
<path d="M258.2 1111.5C259.6 1111.5 260.9 1111.9 262 1112.6C263.1 1113.3 264.1 1114.4 264.9 1115.6C265.8 1116.8 266.3 1118.4 267.1 1119.8C267.9 1121.3 268.9 1123.2 269.6 1124.5C270.4 1125.8 271.3 1126.3 271.5 1127.6C271.6 1128.9 271.5 1131.1 270.7 1132.2C270 1133.3 268.8 1134 267.1 1134.4C265.4 1134.7 262.6 1134.6 260.5 1134.5C258.5 1134.5 256.2 1134.5 254.7 1134.2C253.2 1133.8 252.3 1133.5 251.7 1132.4C251.1 1131.3 251.2 1129.6 251.1 1127.6C251.1 1125.5 251.1 1122.1 251.1 1120.1C251.2 1118.1 251.1 1116.8 251.5 1115.6C251.9 1114.3 252.6 1113.3 253.7 1112.6C254.8 1111.9 256.8 1111.5 258.2 1111.5Z"/>
<path d="M258.3 1113.2C259.6 1113.2 260.8 1113.6 261.9 1114.3C262.9 1114.9 263.8 1115.9 264.6 1117C265.4 1118.1 265.9 1119.5 266.7 1120.9C267.4 1122.2 268.4 1123.9 269.1 1125.1C269.8 1126.3 270.7 1126.7 270.8 1127.9C271 1129.1 270.8 1131.1 270.1 1132.1C269.5 1133.2 268.3 1133.8 266.7 1134.1C265.1 1134.5 262.4 1134.3 260.5 1134.3C258.5 1134.3 256.4 1134.3 255 1133.9C253.6 1133.6 252.7 1133.3 252.1 1132.3C251.6 1131.3 251.7 1129.8 251.6 1127.9C251.5 1126 251.5 1123 251.6 1121.1C251.7 1119.3 251.5 1118.1 251.9 1117C252.3 1115.8 253 1114.9 254 1114.3C255.1 1113.6 256.9 1113.2 258.3 1113.2Z"/>
<path d="M258.3 1115C259.6 1115 260.7 1115.3 261.7 1115.9C262.7 1116.5 263.6 1117.4 264.3 1118.4C265.1 1119.3 265.6 1120.7 266.3 1121.9C267 1123.1 267.9 1124.6 268.6 1125.7C269.2 1126.8 270 1127.2 270.2 1128.3C270.3 1129.3 270.2 1131.1 269.5 1132.1C268.9 1133 267.8 1133.5 266.3 1133.9C264.8 1134.2 262.3 1134 260.4 1134C258.6 1134 256.6 1134 255.3 1133.7C253.9 1133.4 253.1 1133.1 252.6 1132.2C252 1131.3 252.2 1129.9 252.1 1128.3C252 1126.6 252 1123.8 252.1 1122.1C252.1 1120.5 252 1119.4 252.4 1118.4C252.8 1117.3 253.4 1116.5 254.3 1115.9C255.3 1115.3 257.1 1115 258.3 1115Z"/>
<path d="M258.4 1116.7C259.6 1116.7 260.7 1117 261.6 1117.5C262.5 1118 263.3 1118.8 264 1119.7C264.7 1120.6 265.2 1121.8 265.9 1122.9C266.5 1124 267.4 1125.4 268 1126.3C268.6 1127.3 269.4 1127.6 269.5 1128.6C269.7 1129.5 269.5 1131.2 268.9 1132C268.3 1132.9 267.3 1133.3 265.9 1133.6C264.4 1133.9 262.1 1133.8 260.4 1133.7C258.7 1133.7 256.8 1133.7 255.5 1133.5C254.3 1133.2 253.5 1133 253 1132.2C252.5 1131.3 252.6 1130.1 252.6 1128.6C252.5 1127.1 252.5 1124.6 252.6 1123.1C252.6 1121.6 252.5 1120.7 252.9 1119.7C253.2 1118.8 253.8 1118 254.7 1117.5C255.6 1117 257.3 1116.7 258.4 1116.7Z"/>
<path d="M258.5 1118.5C259.6 1118.5 260.6 1118.8 261.5 1119.2C262.3 1119.6 263.1 1120.3 263.7 1121.1C264.4 1121.9 264.8 1122.9 265.4 1123.9C266 1124.9 266.8 1126.1 267.4 1126.9C267.9 1127.8 268.7 1128.1 268.8 1128.9C268.9 1129.8 268.8 1131.2 268.2 1132C267.7 1132.7 266.7 1133.1 265.4 1133.4C264.1 1133.6 261.9 1133.5 260.3 1133.5C258.8 1133.5 257 1133.5 255.8 1133.2C254.7 1133 254 1132.8 253.5 1132.1C253 1131.4 253.2 1130.3 253.1 1128.9C253 1127.6 253 1125.4 253.1 1124.1C253.1 1122.8 253 1121.9 253.4 1121.1C253.7 1120.3 254.2 1119.6 255.1 1119.2C255.9 1118.8 257.4 1118.5 258.5 1118.5Z"/>
<path d="M258.6 1120.2C259.6 1120.2 260.5 1120.5 261.3 1120.8C262.1 1121.2 262.8 1121.8 263.4 1122.5C264 1123.2 264.4 1124.1 264.9 1124.9C265.5 1125.8 266.2 1126.8 266.7 1127.5C267.3 1128.3 267.9 1128.6 268 1129.3C268.2 1130 268 1131.3 267.5 1131.9C267 1132.5 266.1 1132.9 264.9 1133.1C263.7 1133.3 261.8 1133.2 260.3 1133.2C258.8 1133.2 257.2 1133.2 256.2 1133C255.1 1132.8 254.4 1132.6 254 1132C253.6 1131.4 253.7 1130.4 253.6 1129.3C253.6 1128.1 253.6 1126.2 253.6 1125.1C253.7 1124 253.6 1123.2 253.9 1122.5C254.2 1121.8 254.7 1121.2 255.4 1120.8C256.2 1120.5 257.6 1120.2 258.6 1120.2Z"/>
<path d="M258.7 1122C259.6 1122 260.5 1122.2 261.2 1122.5C261.9 1122.8 262.5 1123.3 263 1123.9C263.6 1124.5 263.9 1125.2 264.4 1125.9C264.9 1126.6 265.6 1127.5 266.1 1128.2C266.5 1128.8 267.1 1129 267.2 1129.6C267.4 1130.2 267.2 1131.3 266.8 1131.8C266.3 1132.4 265.5 1132.7 264.4 1132.9C263.4 1133 261.6 1133 260.2 1133C258.9 1132.9 257.4 1132.9 256.5 1132.8C255.6 1132.6 254.9 1132.5 254.6 1131.9C254.2 1131.4 254.3 1130.6 254.2 1129.6C254.2 1128.6 254.2 1127 254.2 1126.1C254.3 1125.1 254.2 1124.5 254.4 1123.9C254.7 1123.3 255.1 1122.8 255.8 1122.5C256.6 1122.2 257.8 1122 258.7 1122Z"/>
<path d="M258.8 1123.7C259.6 1123.7 260.4 1123.9 261 1124.1C261.6 1124.4 262.2 1124.8 262.7 1125.3C263.1 1125.8 263.5 1126.4 263.9 1127C264.3 1127.5 264.9 1128.3 265.3 1128.8C265.8 1129.3 266.3 1129.5 266.4 1130C266.5 1130.5 266.4 1131.3 266 1131.8C265.6 1132.2 264.9 1132.5 263.9 1132.6C262.9 1132.8 261.3 1132.7 260.2 1132.7C259 1132.7 257.7 1132.7 256.9 1132.5C256 1132.4 255.5 1132.3 255.1 1131.8C254.8 1131.4 254.9 1130.8 254.8 1130C254.8 1129.2 254.8 1127.9 254.8 1127.1C254.9 1126.3 254.8 1125.8 255 1125.3C255.3 1124.8 255.7 1124.4 256.3 1124.1C256.9 1123.9 258 1123.7 258.8 1123.7Z"/>
<path d="M259 1125.4C259.6 1125.4 260.3 1125.6 260.8 1125.8C261.4 1126 261.8 1126.3 262.2 1126.7C262.7 1127 262.9 1127.5 263.3 1128C263.7 1128.4 264.2 1129 264.6 1129.4C264.9 1129.8 265.4 1129.9 265.4 1130.3C265.5 1130.7 265.4 1131.4 265.1 1131.7C264.7 1132.1 264.1 1132.2 263.3 1132.4C262.5 1132.5 261.1 1132.4 260.1 1132.4C259.1 1132.4 258 1132.4 257.3 1132.3C256.5 1132.2 256.1 1132.1 255.8 1131.8C255.5 1131.4 255.6 1130.9 255.5 1130.3C255.5 1129.7 255.5 1128.7 255.5 1128.1C255.6 1127.5 255.5 1127.1 255.7 1126.7C255.9 1126.3 256.2 1126 256.8 1125.8C257.3 1125.6 258.3 1125.4 259 1125.4Z"/>
<path d="M259.1 1127.2C259.6 1127.2 260.2 1127.3 260.6 1127.4C261.1 1127.6 261.4 1127.8 261.8 1128.1C262.1 1128.3 262.3 1128.7 262.6 1129C263 1129.3 263.4 1129.7 263.7 1130C263.9 1130.3 264.3 1130.4 264.4 1130.7C264.5 1130.9 264.4 1131.4 264.1 1131.7C263.8 1131.9 263.3 1132 262.6 1132.1C262 1132.2 260.9 1132.2 260 1132.2C259.2 1132.1 258.3 1132.2 257.7 1132.1C257.1 1132 256.7 1131.9 256.5 1131.7C256.3 1131.5 256.3 1131.1 256.3 1130.7C256.3 1130.2 256.3 1129.5 256.3 1129.1C256.3 1128.6 256.3 1128.3 256.4 1128.1C256.6 1127.8 256.9 1127.6 257.3 1127.4C257.8 1127.3 258.5 1127.2 259.1 1127.2Z"/>
</g>
<circle cx="259.7" cy="1131.5" r="1.3" fill="#fff"/>
<g fill="#000" fill-opacity="0.0" stroke="#5a5a5a" stroke-width="0.8" clip-path="url(#cr1)">
<path d="M279.7 1074.6C285.4 1074.7 297.9 1089.7 304.9 1095.4C311.8 1101.2 318.1 1105.5 321.5 1109.3C324.9 1113.1 324.8 1115.3 325 1118.3C325.2 1121.3 325.1 1123.6 322.5 1127.3C319.9 1131 314 1137.6 309.7 1140.5C305.4 1143.4 301.8 1143.8 296.8 1144.8C291.8 1145.8 284.4 1149.4 279.7 1146.6C275 1143.8 270.2 1136.7 268.7 1128C267.2 1119.3 268.9 1103.5 270.7 1094.6C272.5 1085.7 274 1074.5 279.7 1074.6Z"/>
<path d="M280.1 1081.2C285.2 1081.4 296.4 1094.7 302.7 1099.9C308.9 1105.1 314.6 1108.9 317.6 1112.4C320.6 1115.8 320.6 1117.7 320.8 1120.4C320.9 1123.1 320.8 1125.2 318.5 1128.5C316.2 1131.8 310.9 1137.7 307 1140.3C303.2 1143 299.9 1143.3 295.4 1144.2C291 1145.1 284.3 1148.3 280.1 1145.8C275.9 1143.3 271.6 1136.9 270.2 1129.1C268.9 1121.4 270.4 1107.2 272 1099.2C273.7 1091.2 275 1081.1 280.1 1081.2Z"/>
<path d="M280.5 1087.8C285 1088 295 1099.8 300.5 1104.4C306 1109 311.1 1112.4 313.7 1115.4C316.4 1118.4 316.4 1120.2 316.5 1122.6C316.6 1124.9 316.5 1126.8 314.5 1129.7C312.5 1132.6 307.7 1137.9 304.3 1140.2C300.9 1142.5 298.1 1142.8 294.1 1143.6C290.1 1144.4 284.2 1147.3 280.5 1145C276.8 1142.8 273 1137.1 271.8 1130.3C270.6 1123.4 271.9 1110.8 273.4 1103.7C274.8 1096.7 276 1087.7 280.5 1087.8Z"/>
<path d="M280.9 1094.5C284.9 1094.6 293.5 1104.9 298.3 1108.9C303.1 1112.9 307.5 1115.8 309.8 1118.5C312.2 1121.1 312.1 1122.6 312.3 1124.7C312.4 1126.8 312.3 1128.4 310.5 1130.9C308.8 1133.5 304.6 1138 301.7 1140C298.7 1142.1 296.2 1142.3 292.8 1143C289.3 1143.7 284.2 1146.2 280.9 1144.3C277.7 1142.3 274.4 1137.4 273.3 1131.4C272.3 1125.4 273.4 1114.5 274.7 1108.3C276 1102.1 277 1094.4 280.9 1094.5Z"/>
<path d="M281.3 1101.1C284.7 1101.2 292 1110 296.1 1113.4C300.2 1116.8 304 1119.3 305.9 1121.5C307.9 1123.8 307.9 1125.1 308 1126.8C308.1 1128.6 308 1129.9 306.5 1132.1C305 1134.3 301.5 1138.2 299 1139.9C296.5 1141.6 294.3 1141.8 291.4 1142.4C288.5 1143 284.1 1145.1 281.3 1143.5C278.6 1141.8 275.8 1137.6 274.9 1132.5C274 1127.4 275 1118.1 276 1112.9C277.1 1107.6 278 1101 281.3 1101.1Z"/>
<path d="M281.8 1107.7C284.5 1107.8 290.6 1115 294 1117.8C297.4 1120.7 300.4 1122.7 302.1 1124.6C303.7 1126.4 303.7 1127.5 303.8 1128.9C303.8 1130.4 303.8 1131.5 302.5 1133.3C301.3 1135.1 298.4 1138.3 296.3 1139.7C294.2 1141.1 292.5 1141.3 290.1 1141.8C287.6 1142.3 284 1144.1 281.8 1142.7C279.5 1141.3 277.1 1137.9 276.4 1133.7C275.7 1129.4 276.5 1121.8 277.4 1117.4C278.3 1113.1 279 1107.7 281.8 1107.7Z"/>
<path d="M282.2 1114.3C284.3 1114.4 289.1 1120.1 291.8 1122.3C294.5 1124.5 296.9 1126.2 298.2 1127.6C299.5 1129.1 299.4 1129.9 299.5 1131.1C299.6 1132.2 299.5 1133.1 298.6 1134.5C297.6 1135.9 295.3 1138.5 293.6 1139.6C292 1140.7 290.6 1140.8 288.7 1141.2C286.8 1141.6 284 1143 282.2 1141.9C280.4 1140.8 278.5 1138.1 278 1134.8C277.4 1131.5 278 1125.4 278.7 1122C279.4 1118.6 280 1114.3 282.2 1114.3Z"/>
<path d="M282.6 1121C284.2 1121 287.7 1125.2 289.6 1126.8C291.6 1128.4 293.3 1129.6 294.3 1130.7C295.2 1131.8 295.2 1132.4 295.3 1133.2C295.3 1134 295.3 1134.7 294.6 1135.7C293.8 1136.8 292.2 1138.6 291 1139.4C289.8 1140.2 288.8 1140.3 287.4 1140.6C286 1140.9 283.9 1141.9 282.6 1141.1C281.3 1140.3 279.9 1138.3 279.5 1135.9C279.1 1133.5 279.5 1129.1 280.1 1126.6C280.6 1124.1 281 1120.9 282.6 1121Z"/>
</g>
<path d="M314.8 1099.5h.1M325.9 1097.2h.1M296 1121.1h.1M304.3 1088.4h.1M308.4 1113.5h.1M296.3 1078.5h.1M312.9 1140.2h.1M299.9 1130.7h.1M339.9 1140.3h.1M325.6 1064.3h.1M316.3 1127h.1M294.2 1100.1h.1M317.6 1103.3h.1M294.5 1099.3h.1M295 1108.5h.1M310.9 1112.8h.1M298.1 1079.2h.1M332.8 1117.1h.1M318.5 1140.3h.1M290.8 1099.2h.1M325.2 1115.2h.1M333.1 1077.4h.1M310.3 1063.6h.1M294.7 1089h.1M309.7 1065.5h.1M353.2 1135.4h.1M355.5 1103.6h.1M331 1125.4h.1M297.4 1110.7h.1M302.5 1094.6h.1M289.6 1119.1h.1M359.6 1112.4h.1M334.2 1134.1h.1M340.7 1117.1h.1M335.3 1121.6h.1M295.8 1123.8h.1M328.9 1100.9h.1M318.5 1100.5h.1M314.6 1091.5h.1M292.1 1111.6h.1M313 1123.7h.1M338.9 1126.3h.1M305.7 1082.7h.1M309 1102.2h.1M314.6 1140.3h.1M294.3 1130.4h.1M291.8 1109.2h.1M344.7 1113.4h.1M307 1088.1h.1M344.9 1101.7h.1M361.1 1113.3h.1M320.7 1124.3h.1M307.9 1096.4h.1M301.4 1097.2h.1M298.8 1140.3h.1M348 1109.3h.1M296.7 1088.8h.1M312.4 1117.4h.1M301.3 1140.3h.1M292.3 1119.1h.1M299.4 1069.6h.1M317.3 1091.8h.1M308.8 1135.4h.1M323.9 1094.9h.1M353.8 1084.2h.1M356.2 1094.5h.1M306.3 1107.3h.1M337 1122.5h.1M340.1 1112.7h.1M303.2 1112.9h.1M306 1136.7h.1M301.3 1122.7h.1M321.2 1130.9h.1M338.1 1067.2h.1M315.4 1098.8h.1M315.6 1140.3h.1M295.6 1117.2h.1M363.5 1140.3h.1M292.8 1058.7h.1M296.8 1085.1h.1M355.8 1129.5h.1M333.2 1091.4h.1M307.7 1083.3h.1M337.6 1099.9h.1M300.4 1097.1h.1M331.2 1132.7h.1M302.2 1098.4h.1M299.2 1106.3h.1M361.4 1140.3h.1M312 1098.8h.1M305.3 1065.2h.1M345 1107.7h.1M301.7 1130.1h.1M332.9 1109.3h.1M344.7 1139.9h.1" stroke="#222" stroke-width="1.05" stroke-linecap="square" fill="none"/>
<path d="M260.1 1018.1h.1M236.7 1018.2h.1M249.1 1018.6h.1M264.2 1021h.1M278.7 1020.5h.1M242.3 1019.5h.1M239.1 1021.2h.1M270.5 1021.2h.1" stroke="#222" stroke-width="1.05" stroke-linecap="square" fill="none"/>
<clipPath id="cl2"><rect x="190" y="1255.8" width="94.7" height="260"/></clipPath>
<clipPath id="cr2"><rect x="284.7" y="1255.8" width="200" height="260"/></clipPath>
<g fill="#000" fill-opacity="0.0" stroke="#5a5a5a" stroke-width="0.75" clip-path="url(#cl2)">
<path d="M254.5 1339C257.3 1337.6 259.1 1338.8 262 1340.3C264.9 1341.8 268.5 1345.1 272 1347.8C275.5 1350.5 279 1352 283 1356.3C287 1360.6 293.2 1365.5 296 1373.8C298.8 1382 300 1395.5 300 1405.8C300 1416.1 298.7 1428.4 296 1435.8C293.3 1443.2 290.6 1447.6 284 1450.3C277.4 1453 262.9 1452.3 256.6 1451.9C250.3 1451.5 248.4 1450.1 246 1447.8C243.6 1445.5 242.8 1444.8 242 1437.8C241.2 1430.8 241.5 1417 241.4 1405.8C241.3 1394.6 241 1380.3 241.6 1370.8C242.2 1361.3 242.8 1354.1 245 1348.8C247.2 1343.5 251.7 1340.4 254.5 1339Z"/>
<path d="M254.7 1343C257.5 1341.6 259.2 1342.8 262 1344.2C264.8 1345.6 268.3 1348.9 271.8 1351.4C275.2 1354 278.6 1355.4 282.5 1359.5C286.4 1363.7 292.4 1368.4 295.1 1376.3C297.9 1384.2 299 1397 299 1406.9C299 1416.8 297.7 1428.6 295.1 1435.7C292.5 1442.8 289.8 1447 283.4 1449.5C277 1452.1 262.9 1451.5 256.7 1451.1C250.6 1450.7 248.8 1449.4 246.4 1447.2C244 1444.9 243.3 1444.3 242.5 1437.6C241.8 1430.9 242 1417.6 241.9 1406.9C241.9 1396.2 241.5 1382.5 242.1 1373.4C242.7 1364.3 243.4 1357.4 245.4 1352.4C247.5 1347.3 251.9 1344.3 254.7 1343Z"/>
<path d="M254.9 1347C257.6 1345.7 259.3 1346.8 262 1348.1C264.8 1349.5 268.2 1352.6 271.5 1355C274.8 1357.4 278.1 1358.8 281.9 1362.8C285.7 1366.8 291.6 1371.2 294.3 1378.8C296.9 1386.3 298 1398.6 298 1408.1C298 1417.5 296.8 1428.7 294.3 1435.5C291.7 1442.3 289.1 1446.3 282.9 1448.8C276.6 1451.3 262.9 1450.6 256.9 1450.3C250.9 1449.9 249.2 1448.7 246.8 1446.5C244.5 1444.4 243.8 1443.8 243.1 1437.4C242.3 1431 242.5 1418.3 242.5 1408.1C242.4 1397.9 242.1 1384.7 242.7 1376.1C243.2 1367.4 243.9 1360.8 245.9 1355.9C247.9 1351.1 252.2 1348.3 254.9 1347Z"/>
<path d="M255.1 1350.9C257.7 1349.7 259.3 1350.8 262 1352.1C264.7 1353.3 268 1356.3 271.2 1358.6C274.5 1360.9 277.7 1362.2 281.4 1366C285.1 1369.8 290.7 1374.1 293.4 1381.3C296 1388.5 297 1400.2 297 1409.2C297 1418.2 295.8 1428.9 293.4 1435.4C290.9 1441.9 288.3 1445.7 282.3 1448C276.2 1450.4 262.9 1449.8 257 1449.4C251.2 1449.1 249.5 1447.9 247.3 1445.9C245 1443.8 244.3 1443.2 243.6 1437.1C242.9 1431 243.1 1419 243 1409.2C243 1399.5 242.7 1387 243.2 1378.7C243.8 1370.4 244.4 1364.1 246.4 1359.5C248.3 1354.9 252.5 1352.2 255.1 1350.9Z"/>
<path d="M255.3 1354.9C257.9 1353.7 259.4 1354.8 262 1356C264.6 1357.2 267.8 1360 271 1362.2C274.1 1364.4 277.2 1365.7 280.8 1369.3C284.4 1372.9 289.9 1376.9 292.4 1383.8C295 1390.6 296 1401.8 296 1410.4C296 1418.9 294.8 1429.1 292.4 1435.3C290.1 1441.4 287.6 1445.1 281.7 1447.3C275.8 1449.5 262.9 1449 257.2 1448.6C251.5 1448.3 249.9 1447.2 247.7 1445.2C245.5 1443.3 244.8 1442.7 244.1 1436.9C243.5 1431.1 243.7 1419.6 243.6 1410.4C243.6 1401.1 243.3 1389.2 243.8 1381.3C244.3 1373.4 244.9 1367.4 246.8 1363C248.8 1358.6 252.8 1356.1 255.3 1354.9Z"/>
<path d="M255.5 1358.9C258 1357.8 259.5 1358.8 262 1359.9C264.6 1361.1 267.7 1363.7 270.7 1365.8C273.7 1367.9 276.8 1369.1 280.2 1372.5C283.7 1375.9 289 1379.8 291.5 1386.3C294 1392.8 295 1403.4 295 1411.5C295 1419.6 293.8 1429.3 291.5 1435.1C289.2 1441 286.8 1444.4 281.1 1446.5C275.4 1448.7 262.8 1448.1 257.4 1447.8C251.9 1447.5 250.3 1446.4 248.2 1444.6C246.1 1442.7 245.4 1442.2 244.7 1436.7C244 1431.2 244.2 1420.3 244.2 1411.5C244.1 1402.7 243.8 1391.4 244.4 1383.9C244.9 1376.5 245.4 1370.8 247.3 1366.6C249.2 1362.4 253.1 1360 255.5 1358.9Z"/>
<path d="M255.8 1362.9C258.1 1361.8 259.6 1362.7 262 1363.8C264.5 1364.9 267.5 1367.4 270.4 1369.4C273.4 1371.4 276.3 1372.5 279.6 1375.8C283 1379 288.2 1382.6 290.5 1388.8C292.9 1394.9 293.9 1404.9 293.9 1412.6C293.9 1420.3 292.8 1429.5 290.5 1435C288.3 1440.5 286 1443.8 280.5 1445.8C275 1447.8 262.8 1447.3 257.5 1447C252.2 1446.7 250.7 1445.7 248.6 1443.9C246.6 1442.2 245.9 1441.7 245.3 1436.5C244.6 1431.3 244.8 1421 244.8 1412.6C244.7 1404.3 244.4 1393.6 245 1386.6C245.5 1379.5 246 1374.1 247.8 1370.2C249.6 1366.2 253.4 1363.9 255.8 1362.9Z"/>
<path d="M256 1366.8C258.3 1365.9 259.7 1366.7 262.1 1367.8C264.4 1368.8 267.3 1371.2 270.1 1373C273 1374.9 275.8 1376 279 1379C282.3 1382 287.3 1385.5 289.6 1391.3C291.9 1397.1 292.8 1406.5 292.8 1413.8C292.8 1421 291.7 1429.6 289.6 1434.8C287.4 1440.1 285.2 1443.1 279.9 1445C274.5 1446.9 262.8 1446.5 257.7 1446.2C252.6 1445.9 251.1 1444.9 249.1 1443.3C247.1 1441.6 246.5 1441.2 245.9 1436.3C245.3 1431.3 245.4 1421.6 245.4 1413.8C245.3 1405.9 245.1 1395.9 245.6 1389.2C246 1382.5 246.6 1377.5 248.3 1373.7C250 1370 253.7 1367.8 256 1366.8Z"/>
<path d="M256.2 1370.8C258.4 1369.9 259.8 1370.7 262.1 1371.7C264.3 1372.7 267.1 1374.9 269.9 1376.6C272.6 1378.4 275.3 1379.4 278.4 1382.2C281.5 1385.1 286.4 1388.3 288.6 1393.8C290.8 1399.2 291.7 1408.1 291.7 1414.9C291.7 1421.7 290.6 1429.8 288.6 1434.7C286.5 1439.6 284.3 1442.5 279.2 1444.3C274.1 1446.1 262.8 1445.6 257.9 1445.3C252.9 1445.1 251.5 1444.2 249.6 1442.6C247.7 1441.1 247.1 1440.7 246.5 1436C245.9 1431.4 246.1 1422.3 246 1414.9C246 1407.5 245.7 1398.1 246.2 1391.8C246.6 1385.5 247.1 1380.8 248.8 1377.3C250.5 1373.8 254 1371.8 256.2 1370.8Z"/>
</g>
<g fill="#000" fill-opacity="0.02" stroke="#484848" stroke-width="0.75" clip-path="url(#cl2)">
<path d="M256.4 1374.6C258.6 1373.7 259.9 1374.5 262.1 1375.4C264.3 1376.3 267 1378.4 269.6 1380C272.2 1381.7 274.8 1382.6 277.8 1385.3C280.8 1388 285.5 1391 287.6 1396.1C289.7 1401.3 290.6 1409.6 290.6 1416C290.6 1422.4 289.6 1430 287.6 1434.6C285.6 1439.2 283.5 1441.9 278.6 1443.6C273.7 1445.2 262.8 1444.8 258 1444.6C253.3 1444.3 251.9 1443.5 250.1 1442C248.2 1440.6 247.6 1440.2 247.1 1435.8C246.5 1431.5 246.7 1422.9 246.6 1416C246.6 1409.1 246.3 1400.2 246.8 1394.3C247.2 1388.4 247.7 1383.9 249.3 1380.6C250.9 1377.4 254.3 1375.4 256.4 1374.6Z"/>
<path d="M256.6 1377.6C258.7 1376.8 260 1377.5 262.1 1378.4C264.2 1379.2 266.8 1381.2 269.3 1382.8C271.9 1384.3 274.4 1385.2 277.3 1387.8C280.3 1390.3 284.7 1393.2 286.8 1398.1C288.9 1402.9 289.7 1410.8 289.7 1416.9C289.7 1422.9 288.7 1430.1 286.8 1434.5C284.9 1438.8 282.8 1441.4 278.1 1443C273.3 1444.6 262.8 1444.2 258.2 1443.9C253.6 1443.7 252.2 1442.9 250.5 1441.5C248.7 1440.1 248.1 1439.8 247.5 1435.7C247 1431.5 247.2 1423.4 247.1 1416.9C247.1 1410.3 246.8 1401.9 247.3 1396.3C247.7 1390.7 248.2 1386.5 249.7 1383.4C251.3 1380.3 254.6 1378.4 256.6 1377.6Z"/>
<path d="M256.8 1380.7C258.8 1379.9 260 1380.6 262.1 1381.4C264.1 1382.2 266.7 1384.1 269.1 1385.5C271.6 1387 274 1387.8 276.8 1390.3C279.6 1392.7 284 1395.4 286 1400C288 1404.5 288.8 1412 288.8 1417.7C288.8 1423.5 287.8 1430.3 286 1434.4C284.1 1438.5 282.2 1440.9 277.5 1442.4C272.9 1443.9 262.7 1443.5 258.3 1443.3C253.8 1443.1 252.6 1442.3 250.9 1441C249.1 1439.7 248.6 1439.4 248 1435.5C247.5 1431.6 247.7 1423.9 247.6 1417.7C247.6 1411.5 247.3 1403.6 247.8 1398.3C248.2 1393 248.6 1389 250.1 1386.1C251.7 1383.1 254.8 1381.4 256.8 1380.7Z"/>
<path d="M257 1383.7C258.9 1383 260.1 1383.6 262.1 1384.4C264.1 1385.1 266.5 1386.9 268.9 1388.3C271.2 1389.7 273.6 1390.5 276.3 1392.7C279 1395 283.2 1397.6 285.1 1401.9C287 1406.2 287.8 1413.2 287.8 1418.6C287.8 1424 286.9 1430.4 285.1 1434.3C283.3 1438.1 281.4 1440.4 277 1441.8C272.6 1443.3 262.7 1442.9 258.4 1442.7C254.1 1442.5 252.9 1441.8 251.3 1440.5C249.6 1439.3 249.1 1439 248.5 1435.3C248 1431.7 248.2 1424.4 248.1 1418.6C248.1 1412.8 247.9 1405.3 248.3 1400.3C248.7 1395.3 249.1 1391.6 250.6 1388.8C252 1386 255.1 1384.4 257 1383.7Z"/>
<path d="M257.2 1386.7C259.1 1386 260.2 1386.7 262.1 1387.4C264 1388.1 266.3 1389.7 268.6 1391C270.9 1392.4 273.2 1393.1 275.8 1395.2C278.4 1397.3 282.4 1399.7 284.3 1403.8C286.1 1407.8 286.9 1414.4 286.9 1419.5C286.9 1424.5 286 1430.5 284.3 1434.2C282.5 1437.8 280.7 1440 276.4 1441.3C272.2 1442.6 262.7 1442.3 258.6 1442.1C254.5 1441.9 253.3 1441.2 251.7 1440C250.1 1438.9 249.6 1438.6 249.1 1435.1C248.6 1431.7 248.7 1424.9 248.7 1419.5C248.6 1414 248.4 1407 248.8 1402.3C249.2 1397.7 249.6 1394.1 251 1391.5C252.4 1388.9 255.4 1387.4 257.2 1386.7Z"/>
<path d="M257.4 1389.8C259.2 1389.1 260.3 1389.7 262.1 1390.4C263.9 1391 266.2 1392.6 268.4 1393.8C270.6 1395 272.7 1395.7 275.2 1397.7C277.8 1399.7 281.6 1401.9 283.4 1405.7C285.2 1409.5 285.9 1415.6 285.9 1420.3C285.9 1425.1 285 1430.7 283.4 1434.1C281.7 1437.5 280 1439.5 275.9 1440.7C271.8 1441.9 262.7 1441.6 258.7 1441.4C254.8 1441.2 253.6 1440.6 252.1 1439.6C250.6 1438.5 250.1 1438.2 249.6 1435C249.1 1431.8 249.3 1425.4 249.2 1420.3C249.2 1415.2 249 1408.7 249.4 1404.3C249.7 1400 250.1 1396.7 251.5 1394.3C252.8 1391.8 255.6 1390.4 257.4 1389.8Z"/>
<path d="M257.6 1392.8C259.3 1392.2 260.4 1392.7 262.1 1393.4C263.9 1394 266 1395.4 268.1 1396.6C270.2 1397.7 272.3 1398.3 274.7 1400.2C277.1 1402 280.8 1404.1 282.5 1407.6C284.2 1411.1 284.9 1416.8 284.9 1421.2C284.9 1425.6 284.1 1430.8 282.5 1434C280.9 1437.1 279.2 1439 275.3 1440.1C271.4 1441.3 262.7 1441 258.9 1440.8C255.1 1440.6 254 1440.1 252.5 1439.1C251.1 1438.1 250.6 1437.8 250.2 1434.8C249.7 1431.8 249.8 1426 249.8 1421.2C249.8 1416.5 249.6 1410.4 249.9 1406.3C250.3 1402.3 250.7 1399.2 251.9 1397C253.2 1394.7 255.9 1393.4 257.6 1392.8Z"/>
<path d="M257.8 1395.9C259.5 1395.3 260.5 1395.8 262.1 1396.4C263.8 1396.9 265.8 1398.3 267.8 1399.3C269.8 1400.4 271.8 1401 274.1 1402.7C276.4 1404.4 279.9 1406.3 281.5 1409.5C283.1 1412.8 283.8 1418 283.8 1422.1C283.8 1426.1 283 1430.9 281.5 1433.9C280 1436.8 278.4 1438.5 274.7 1439.5C270.9 1440.6 262.7 1440.3 259 1440.2C255.4 1440 254.4 1439.5 253 1438.6C251.6 1437.6 251.2 1437.4 250.7 1434.6C250.3 1431.9 250.4 1426.5 250.4 1422.1C250.3 1417.7 250.1 1412.1 250.5 1408.3C250.8 1404.6 251.2 1401.8 252.4 1399.7C253.7 1397.6 256.2 1396.4 257.8 1395.9Z"/>
<path d="M258.1 1398.9C259.6 1398.4 260.6 1398.8 262.1 1399.4C263.7 1399.9 265.7 1401.1 267.6 1402.1C269.5 1403 271.3 1403.6 273.5 1405.1C275.7 1406.7 279 1408.5 280.6 1411.4C282.1 1414.4 282.7 1419.2 282.7 1423C282.7 1426.7 282 1431.1 280.6 1433.8C279.1 1436.4 277.6 1438 274.1 1439C270.5 1439.9 262.6 1439.7 259.2 1439.5C255.8 1439.4 254.8 1438.9 253.5 1438.1C252.2 1437.2 251.7 1437 251.3 1434.5C250.9 1432 251 1427 251 1423C250.9 1418.9 250.8 1413.8 251.1 1410.4C251.4 1406.9 251.8 1404.3 252.9 1402.4C254.1 1400.5 256.5 1399.4 258.1 1398.9Z"/>
</g>
<g fill="#000" fill-opacity="0.075" stroke="#262626" stroke-width="0.7" clip-path="url(#cl2)">
<path d="M258.3 1401.2C259.7 1400.8 260.6 1401.2 262.1 1401.7C263.7 1402.2 265.5 1403.3 267.3 1404.2C269.1 1405.1 271 1405.6 273 1407C275.1 1408.5 278.3 1410.1 279.8 1412.9C281.3 1415.7 281.9 1420.2 281.9 1423.6C281.9 1427.1 281.2 1431.2 279.8 1433.7C278.4 1436.2 277 1437.6 273.6 1438.5C270.2 1439.4 262.6 1439.2 259.3 1439.1C256.1 1438.9 255.1 1438.5 253.8 1437.7C252.6 1436.9 252.2 1436.7 251.8 1434.3C251.4 1432 251.5 1427.4 251.5 1423.6C251.4 1419.9 251.2 1415.1 251.6 1411.9C251.9 1408.7 252.2 1406.3 253.3 1404.5C254.4 1402.8 256.8 1401.7 258.3 1401.2Z"/>
<path d="M258.4 1402.9C259.8 1402.4 260.7 1402.8 262.1 1403.3C263.6 1403.7 265.4 1404.8 267.2 1405.7C268.9 1406.5 270.7 1407 272.7 1408.4C274.7 1409.7 277.8 1411.3 279.2 1413.9C280.7 1416.5 281.2 1420.8 281.2 1424.1C281.2 1427.4 280.6 1431.3 279.2 1433.6C277.9 1436 276.5 1437.4 273.2 1438.2C269.9 1439.1 262.6 1438.9 259.4 1438.7C256.3 1438.6 255.3 1438.2 254.1 1437.4C252.9 1436.7 252.5 1436.5 252.1 1434.3C251.7 1432 251.8 1427.6 251.8 1424.1C251.8 1420.5 251.6 1416 251.9 1413C252.2 1410 252.5 1407.7 253.6 1406C254.7 1404.3 257 1403.3 258.4 1402.9Z"/>
<path d="M258.5 1404.5C259.9 1404.1 260.7 1404.4 262.2 1404.9C263.6 1405.3 265.3 1406.3 267 1407.1C268.7 1407.9 270.4 1408.4 272.4 1409.7C274.3 1411 277.3 1412.5 278.7 1414.9C280.1 1417.4 280.6 1421.4 280.6 1424.6C280.6 1427.7 280 1431.3 278.7 1433.6C277.4 1435.8 276 1437.1 272.8 1437.9C269.7 1438.7 262.6 1438.5 259.5 1438.4C256.5 1438.3 255.6 1437.9 254.4 1437.2C253.2 1436.5 252.8 1436.3 252.4 1434.2C252.1 1432.1 252.2 1427.9 252.1 1424.6C252.1 1421.2 252 1416.9 252.2 1414C252.5 1411.2 252.8 1409 253.9 1407.4C254.9 1405.8 257.1 1404.9 258.5 1404.5Z"/>
<path d="M258.6 1406.1C260 1405.7 260.8 1406.1 262.2 1406.5C263.5 1406.9 265.2 1407.9 266.8 1408.6C268.5 1409.4 270.1 1409.8 272 1411C273.9 1412.2 276.8 1413.6 278.1 1416C279.4 1418.3 280 1422.1 280 1425C280 1427.9 279.3 1431.4 278.1 1433.5C276.8 1435.6 275.6 1436.8 272.5 1437.6C269.4 1438.4 262.6 1438.2 259.6 1438.1C256.7 1437.9 255.8 1437.6 254.7 1436.9C253.5 1436.2 253.1 1436.1 252.8 1434.1C252.4 1432.1 252.5 1428.2 252.5 1425C252.5 1421.9 252.3 1417.8 252.6 1415.1C252.9 1412.4 253.2 1410.4 254.2 1408.9C255.2 1407.4 257.3 1406.5 258.6 1406.1Z"/>
<path d="M258.8 1407.7C260.1 1407.4 260.8 1407.7 262.2 1408.1C263.5 1408.5 265.1 1409.4 266.7 1410.1C268.3 1410.8 269.8 1411.2 271.6 1412.3C273.4 1413.5 276.2 1414.8 277.5 1417C278.8 1419.2 279.3 1422.7 279.3 1425.5C279.3 1428.2 278.7 1431.5 277.5 1433.4C276.3 1435.4 275.1 1436.6 272.1 1437.3C269.1 1438 262.6 1437.8 259.7 1437.7C256.9 1437.6 256 1437.3 254.9 1436.6C253.8 1436 253.5 1435.8 253.1 1434C252.8 1432.1 252.9 1428.4 252.9 1425.5C252.8 1422.5 252.7 1418.7 253 1416.2C253.2 1413.7 253.5 1411.8 254.5 1410.3C255.5 1408.9 257.5 1408.1 258.8 1407.7Z"/>
<path d="M258.9 1409.4C260.1 1409 260.9 1409.3 262.2 1409.7C263.4 1410.1 265 1410.9 266.5 1411.5C268 1412.2 269.5 1412.6 271.3 1413.7C273 1414.7 275.7 1416 276.9 1418C278.1 1420.1 278.6 1423.4 278.6 1425.9C278.6 1428.5 278.1 1431.6 276.9 1433.4C275.8 1435.2 274.6 1436.3 271.7 1437C268.9 1437.7 262.6 1437.5 259.8 1437.4C257.1 1437.3 256.3 1437 255.2 1436.4C254.2 1435.8 253.8 1435.6 253.5 1433.9C253.2 1432.2 253.3 1428.7 253.2 1425.9C253.2 1423.2 253.1 1419.6 253.3 1417.3C253.6 1414.9 253.9 1413.1 254.8 1411.8C255.7 1410.5 257.7 1409.7 258.9 1409.4Z"/>
<path d="M259.1 1411C260.2 1410.7 261 1411 262.2 1411.3C263.4 1411.6 264.9 1412.4 266.3 1413C267.8 1413.6 269.2 1414 270.9 1415C272.6 1416 275.1 1417.1 276.3 1419C277.5 1420.9 277.9 1424 277.9 1426.4C277.9 1428.8 277.4 1431.6 276.3 1433.3C275.2 1435.1 274 1436.1 271.3 1436.7C268.6 1437.3 262.6 1437.2 259.9 1437.1C257.3 1437 256.5 1436.7 255.5 1436.1C254.5 1435.6 254.2 1435.4 253.9 1433.8C253.6 1432.2 253.7 1429 253.6 1426.4C253.6 1423.8 253.5 1420.5 253.7 1418.3C254 1416.1 254.2 1414.5 255.1 1413.3C256 1412 257.9 1411.3 259.1 1411Z"/>
<path d="M259.2 1412.6C260.3 1412.3 261 1412.6 262.2 1412.9C263.3 1413.2 264.8 1413.9 266.1 1414.5C267.5 1415.1 268.9 1415.4 270.5 1416.3C272.1 1417.2 274.5 1418.3 275.6 1420C276.8 1421.8 277.2 1424.7 277.2 1426.9C277.2 1429.1 276.7 1431.7 275.6 1433.3C274.6 1434.9 273.5 1435.8 270.9 1436.4C268.3 1437 262.6 1436.8 260 1436.7C257.5 1436.6 256.8 1436.3 255.8 1435.8C254.9 1435.3 254.6 1435.2 254.3 1433.7C254 1432.2 254.1 1429.3 254 1426.9C254 1424.5 253.9 1421.4 254.1 1419.4C254.3 1417.4 254.6 1415.8 255.4 1414.7C256.3 1413.6 258.1 1412.9 259.2 1412.6Z"/>
<path d="M259.4 1414.2C260.4 1414 261.1 1414.2 262.2 1414.5C263.3 1414.8 264.6 1415.4 266 1416C267.3 1416.5 268.6 1416.8 270.1 1417.6C271.6 1418.5 273.9 1419.4 275 1421.1C276 1422.7 276.5 1425.3 276.5 1427.3C276.5 1429.4 276 1431.8 275 1433.2C274 1434.7 272.9 1435.5 270.5 1436.1C268 1436.6 262.5 1436.5 260.2 1436.4C257.8 1436.3 257.1 1436 256.2 1435.6C255.2 1435.1 254.9 1435 254.7 1433.6C254.4 1432.2 254.5 1429.5 254.4 1427.3C254.4 1425.2 254.3 1422.3 254.5 1420.5C254.7 1418.6 255 1417.2 255.8 1416.2C256.6 1415.1 258.3 1414.5 259.4 1414.2Z"/>
<path d="M259.5 1415.9C260.5 1415.6 261.2 1415.8 262.2 1416.1C263.2 1416.4 264.5 1417 265.8 1417.4C267 1417.9 268.2 1418.2 269.7 1419C271.1 1419.7 273.3 1420.6 274.3 1422.1C275.3 1423.6 275.7 1426 275.7 1427.8C275.7 1429.7 275.2 1431.8 274.3 1433.2C273.3 1434.5 272.4 1435.3 270 1435.8C267.7 1436.2 262.5 1436.1 260.3 1436.1C258 1436 257.4 1435.7 256.5 1435.3C255.6 1434.9 255.3 1434.8 255.1 1433.5C254.8 1432.3 254.9 1429.8 254.9 1427.8C254.8 1425.8 254.7 1423.2 254.9 1421.5C255.1 1419.8 255.4 1418.6 256.1 1417.6C256.9 1416.7 258.5 1416.1 259.5 1415.9Z"/>
<path d="M259.7 1417.5C260.6 1417.3 261.2 1417.5 262.2 1417.7C263.2 1417.9 264.4 1418.5 265.5 1418.9C266.7 1419.3 267.9 1419.6 269.2 1420.3C270.6 1421 272.6 1421.8 273.6 1423.1C274.5 1424.4 274.9 1426.6 274.9 1428.3C274.9 1429.9 274.5 1431.9 273.6 1433.1C272.7 1434.3 271.8 1435 269.6 1435.5C267.4 1435.9 262.5 1435.8 260.4 1435.7C258.3 1435.6 257.7 1435.4 256.8 1435.1C256 1434.7 255.8 1434.6 255.5 1433.4C255.2 1432.3 255.3 1430.1 255.3 1428.3C255.3 1426.5 255.2 1424.2 255.4 1422.6C255.6 1421.1 255.8 1419.9 256.5 1419.1C257.2 1418.2 258.7 1417.7 259.7 1417.5Z"/>
<path d="M259.9 1419.1C260.7 1418.9 261.3 1419.1 262.2 1419.3C263.1 1419.5 264.2 1420 265.3 1420.4C266.4 1420.8 267.5 1421 268.8 1421.6C270 1422.2 272 1422.9 272.8 1424.1C273.7 1425.3 274.1 1427.2 274.1 1428.7C274.1 1430.2 273.7 1432 272.8 1433.1C272 1434.1 271.1 1434.8 269.1 1435.2C267 1435.5 262.5 1435.4 260.5 1435.4C258.5 1435.3 258 1435.1 257.2 1434.8C256.4 1434.5 256.2 1434.4 256 1433.3C255.7 1432.3 255.8 1430.3 255.8 1428.7C255.7 1427.1 255.6 1425.1 255.8 1423.7C256 1422.3 256.2 1421.3 256.9 1420.5C257.6 1419.8 259 1419.3 259.9 1419.1Z"/>
<path d="M260 1420.7C260.9 1420.6 261.4 1420.7 262.2 1420.9C263.1 1421.1 264.1 1421.5 265.1 1421.9C266.1 1422.2 267.1 1422.4 268.3 1422.9C269.5 1423.5 271.2 1424.1 272.1 1425.1C272.9 1426.2 273.2 1427.9 273.2 1429.2C273.2 1430.5 272.8 1432.1 272.1 1433C271.3 1433.9 270.5 1434.5 268.6 1434.8C266.7 1435.2 262.5 1435.1 260.6 1435C258.8 1435 258.3 1434.8 257.6 1434.5C256.9 1434.2 256.6 1434.1 256.4 1433.3C256.2 1432.4 256.3 1430.6 256.2 1429.2C256.2 1427.8 256.1 1426 256.3 1424.8C256.5 1423.6 256.7 1422.6 257.3 1422C257.9 1421.3 259.2 1420.9 260 1420.7Z"/>
<path d="M260.2 1422.4C261 1422.2 261.4 1422.3 262.2 1422.5C263 1422.7 263.9 1423 264.9 1423.3C265.8 1423.6 266.7 1423.8 267.8 1424.3C268.8 1424.7 270.5 1425.3 271.2 1426.2C272 1427.1 272.3 1428.5 272.3 1429.7C272.3 1430.8 271.9 1432.1 271.2 1433C270.5 1433.8 269.8 1434.2 268.1 1434.5C266.3 1434.8 262.5 1434.8 260.8 1434.7C259.1 1434.7 258.6 1434.5 258 1434.3C257.3 1434 257.1 1433.9 256.9 1433.2C256.7 1432.4 256.8 1430.9 256.8 1429.7C256.7 1428.4 256.7 1426.9 256.8 1425.8C257 1424.8 257.1 1424 257.7 1423.4C258.3 1422.9 259.5 1422.5 260.2 1422.4Z"/>
<path d="M260.4 1424C261.1 1423.9 261.5 1424 262.2 1424.1C262.9 1424.2 263.8 1424.5 264.6 1424.8C265.5 1425 266.3 1425.2 267.2 1425.6C268.2 1426 269.7 1426.4 270.4 1427.2C271 1427.9 271.3 1429.2 271.3 1430.1C271.3 1431.1 271 1432.2 270.4 1432.9C269.7 1433.6 269.1 1434 267.5 1434.2C265.9 1434.5 262.5 1434.4 260.9 1434.4C259.4 1434.3 259 1434.2 258.4 1434C257.8 1433.8 257.6 1433.7 257.4 1433.1C257.3 1432.4 257.3 1431.2 257.3 1430.1C257.3 1429.1 257.2 1427.8 257.4 1426.9C257.5 1426 257.7 1425.4 258.2 1424.9C258.7 1424.4 259.8 1424.1 260.4 1424Z"/>
<path d="M260.7 1425.6C261.3 1425.5 261.6 1425.6 262.2 1425.7C262.9 1425.8 263.6 1426.1 264.3 1426.3C265.1 1426.5 265.8 1426.6 266.7 1426.9C267.5 1427.2 268.8 1427.6 269.4 1428.2C270 1428.8 270.2 1429.8 270.2 1430.6C270.2 1431.4 270 1432.3 269.4 1432.8C268.8 1433.4 268.3 1433.7 266.9 1433.9C265.5 1434.1 262.4 1434.1 261.1 1434C259.8 1434 259.4 1433.9 258.9 1433.7C258.3 1433.6 258.2 1433.5 258 1433C257.9 1432.5 257.9 1431.4 257.9 1430.6C257.9 1429.8 257.8 1428.7 257.9 1428C258.1 1427.3 258.2 1426.7 258.7 1426.3C259.1 1425.9 260.1 1425.7 260.7 1425.6Z"/>
<path d="M260.9 1427.2C261.4 1427.2 261.7 1427.2 262.2 1427.3C262.8 1427.4 263.4 1427.6 264 1427.7C264.7 1427.9 265.3 1428 266 1428.2C266.7 1428.5 267.9 1428.8 268.4 1429.2C268.9 1429.7 269.1 1430.5 269.1 1431.1C269.1 1431.7 268.8 1432.4 268.4 1432.8C267.9 1433.2 267.4 1433.5 266.2 1433.6C265 1433.8 262.4 1433.7 261.3 1433.7C260.1 1433.7 259.8 1433.6 259.4 1433.5C258.9 1433.3 258.8 1433.3 258.6 1432.9C258.5 1432.5 258.6 1431.7 258.5 1431.1C258.5 1430.4 258.5 1429.6 258.6 1429.1C258.7 1428.5 258.8 1428.1 259.2 1427.8C259.6 1427.5 260.4 1427.3 260.9 1427.2Z"/>
<path d="M261.2 1428.9C261.6 1428.8 261.8 1428.8 262.3 1428.9C262.7 1429 263.2 1429.1 263.7 1429.2C264.2 1429.3 264.7 1429.4 265.3 1429.5C265.9 1429.7 266.8 1429.9 267.2 1430.2C267.6 1430.6 267.8 1431.1 267.8 1431.5C267.8 1431.9 267.6 1432.4 267.2 1432.7C266.8 1433 266.4 1433.2 265.4 1433.3C264.5 1433.4 262.4 1433.4 261.5 1433.4C260.6 1433.4 260.3 1433.3 259.9 1433.2C259.6 1433.1 259.5 1433.1 259.4 1432.8C259.2 1432.5 259.3 1432 259.3 1431.5C259.3 1431.1 259.2 1430.5 259.3 1430.1C259.4 1429.7 259.5 1429.5 259.8 1429.2C260.1 1429 260.8 1428.9 261.2 1428.9Z"/>
</g>
<ellipse cx="262.3" cy="1431.6" rx="1.3" ry="2" fill="#fff"/>
<g fill="#000" fill-opacity="0.004" stroke="#555" stroke-width="0.8" clip-path="url(#cr2)">
<path d="M274.7 1355.8C278.1 1348 281.2 1358 286.9 1359.3C292.6 1360.6 302.5 1361.7 308.8 1363.6C315.1 1365.5 320.3 1367.9 324.5 1370.9C328.7 1373.9 331.6 1378 334 1381.8C336.4 1385.6 338.1 1388.6 338.6 1393.9C339.1 1399.2 338.3 1407.7 337 1413.8C335.7 1419.9 334.6 1425.3 330.8 1430.5C327 1435.7 321.3 1441.8 314 1445.1C306.7 1448.4 293.4 1450.2 286.9 1450.3C280.3 1450.4 278.1 1453.2 274.7 1445.8C271.3 1438.4 266.7 1420.8 266.7 1405.8C266.7 1390.8 271.3 1363.5 274.7 1355.8Z"/>
<path d="M275.7 1360C278.9 1352.7 281.8 1362.1 287.2 1363.3C292.6 1364.6 302 1365.6 308 1367.4C313.9 1369.2 318.9 1371.5 322.8 1374.3C326.8 1377.2 329.6 1381 331.8 1384.6C334.1 1388.3 335.7 1391.1 336.2 1396.1C336.7 1401.2 335.9 1409.2 334.7 1415C333.4 1420.7 332.4 1425.8 328.8 1430.8C325.2 1435.7 319.8 1441.5 312.9 1444.6C306 1447.7 293.4 1449.4 287.2 1449.5C281 1449.6 278.9 1452.3 275.7 1445.3C272.5 1438.2 268.1 1421.6 268.1 1407.4C268.1 1393.2 272.5 1367.4 275.7 1360Z"/>
<path d="M276.6 1364.2C279.6 1357.3 282.5 1366.2 287.5 1367.4C292.6 1368.5 301.5 1369.5 307.1 1371.2C312.7 1373 317.4 1375 321.2 1377.8C324.9 1380.5 327.6 1384.1 329.7 1387.5C331.8 1390.9 333.3 1393.6 333.8 1398.3C334.2 1403.1 333.5 1410.7 332.4 1416.1C331.2 1421.6 330.2 1426.4 326.8 1431.1C323.4 1435.7 318.3 1441.2 311.8 1444.1C305.2 1447.1 293.4 1448.7 287.5 1448.8C281.7 1448.9 279.6 1451.4 276.6 1444.7C273.6 1438.1 269.5 1422.4 269.5 1409C269.5 1395.5 273.6 1371.2 276.6 1364.2Z"/>
<path d="M277.6 1368.5C280.4 1361.9 283.1 1370.3 287.9 1371.4C292.6 1372.5 301 1373.4 306.3 1375C311.6 1376.7 316 1378.6 319.5 1381.2C323 1383.7 325.5 1387.1 327.5 1390.3C329.5 1393.6 331 1396 331.4 1400.5C331.8 1405 331.1 1412.1 330 1417.3C328.9 1422.4 328 1426.9 324.8 1431.3C321.6 1435.7 316.8 1440.8 310.7 1443.6C304.5 1446.4 293.4 1447.9 287.9 1448C282.4 1448.1 280.4 1450.5 277.6 1444.2C274.8 1438 270.9 1423.2 270.9 1410.5C270.9 1397.9 274.8 1375 277.6 1368.5Z"/>
<path d="M278.6 1372.7C281.2 1366.6 283.7 1374.4 288.2 1375.5C292.7 1376.5 300.5 1377.3 305.5 1378.8C310.4 1380.4 314.5 1382.2 317.9 1384.6C321.2 1387 323.5 1390.2 325.3 1393.2C327.2 1396.2 328.6 1398.5 329 1402.7C329.4 1407 328.7 1413.6 327.7 1418.4C326.7 1423.3 325.8 1427.5 322.8 1431.6C319.8 1435.7 315.3 1440.5 309.6 1443.1C303.8 1445.7 293.4 1447.1 288.2 1447.2C283 1447.3 281.2 1449.5 278.6 1443.7C275.9 1437.8 272.3 1424 272.3 1412.1C272.3 1400.3 275.9 1378.8 278.6 1372.7Z"/>
<path d="M279.5 1376.9C282 1371.2 284.3 1378.5 288.5 1379.5C292.7 1380.4 300 1381.2 304.6 1382.7C309.2 1384.1 313.1 1385.8 316.2 1388C319.3 1390.3 321.5 1393.2 323.2 1396C324.9 1398.9 326.2 1401 326.6 1405C326.9 1408.9 326.3 1415.1 325.4 1419.6C324.4 1424.1 323.6 1428.1 320.8 1431.9C318 1435.7 313.8 1440.2 308.5 1442.6C303.1 1445.1 293.3 1446.4 288.5 1446.5C283.7 1446.6 282 1448.6 279.5 1443.2C277.1 1437.7 273.6 1424.8 273.6 1413.7C273.6 1402.7 277.1 1382.6 279.5 1376.9Z"/>
<path d="M280.5 1381.1C282.8 1375.8 284.9 1382.6 288.8 1383.5C292.7 1384.4 299.5 1385.1 303.8 1386.5C308.1 1387.8 311.7 1389.4 314.5 1391.5C317.4 1393.5 319.4 1396.3 321 1398.9C322.6 1401.5 323.8 1403.5 324.2 1407.2C324.5 1410.8 324 1416.6 323.1 1420.8C322.2 1424.9 321.4 1428.6 318.8 1432.2C316.2 1435.7 312.3 1439.9 307.4 1442.2C302.4 1444.4 293.3 1445.6 288.8 1445.7C284.4 1445.8 282.8 1447.7 280.5 1442.6C278.2 1437.6 275 1425.5 275 1415.3C275 1405 278.2 1386.4 280.5 1381.1Z"/>
<path d="M281.5 1385.4C283.6 1380.5 285.6 1386.7 289.2 1387.6C292.7 1388.4 299 1389.1 303 1390.3C306.9 1391.5 310.2 1393 312.9 1394.9C315.5 1396.8 317.4 1399.3 318.9 1401.8C320.3 1404.2 321.4 1406 321.8 1409.4C322.1 1412.7 321.6 1418.1 320.7 1421.9C319.9 1425.8 319.3 1429.2 316.8 1432.5C314.4 1435.7 310.9 1439.6 306.2 1441.7C301.6 1443.7 293.3 1444.9 289.2 1444.9C285 1445 283.6 1446.8 281.5 1442.1C279.3 1437.4 276.4 1426.3 276.4 1416.9C276.4 1407.4 279.3 1390.2 281.5 1385.4Z"/>
<path d="M282.4 1389.6C284.4 1385.1 286.2 1390.8 289.5 1391.6C292.8 1392.4 298.5 1393 302.1 1394.1C305.7 1395.2 308.8 1396.5 311.2 1398.3C313.6 1400.1 315.3 1402.4 316.7 1404.6C318 1406.8 319.1 1408.5 319.3 1411.6C319.6 1414.7 319.2 1419.6 318.4 1423.1C317.7 1426.6 317.1 1429.7 314.8 1432.7C312.6 1435.8 309.4 1439.3 305.1 1441.2C300.9 1443.1 293.3 1444.1 289.5 1444.2C285.7 1444.2 284.4 1445.9 282.4 1441.6C280.5 1437.3 277.8 1427.1 277.8 1418.5C277.8 1409.8 280.5 1394.1 282.4 1389.6Z"/>
<path d="M283.4 1393.8C285.2 1389.7 286.8 1395 289.8 1395.6C292.8 1396.3 298 1396.9 301.3 1397.9C304.6 1398.9 307.3 1400.1 309.5 1401.7C311.7 1403.3 313.3 1405.4 314.5 1407.5C315.8 1409.5 316.7 1411 316.9 1413.8C317.2 1416.6 316.8 1421 316.1 1424.2C315.4 1427.5 314.9 1430.3 312.8 1433C310.8 1435.8 307.9 1438.9 304 1440.7C300.2 1442.4 293.2 1443.4 289.8 1443.4C286.4 1443.5 285.2 1444.9 283.4 1441C281.6 1437.2 279.2 1427.9 279.2 1420C279.2 1412.2 281.6 1397.9 283.4 1393.8Z"/>
<path d="M284.4 1398C285.9 1394.4 287.4 1399.1 290.1 1399.7C292.8 1400.3 297.5 1400.8 300.5 1401.7C303.4 1402.6 305.9 1403.7 307.9 1405.2C309.9 1406.6 311.3 1408.5 312.4 1410.3C313.5 1412.1 314.3 1413.5 314.5 1416C314.8 1418.5 314.4 1422.5 313.8 1425.4C313.2 1428.3 312.7 1430.8 310.9 1433.3C309 1435.8 306.4 1438.6 302.9 1440.2C299.5 1441.8 293.2 1442.6 290.1 1442.6C287 1442.7 285.9 1444 284.4 1440.5C282.8 1437 280.6 1428.7 280.6 1421.6C280.6 1414.5 282.8 1401.7 284.4 1398Z"/>
<path d="M285.3 1402.2C286.7 1399 288.1 1403.2 290.4 1403.7C292.8 1404.3 297 1404.7 299.6 1405.5C302.3 1406.3 304.5 1407.3 306.2 1408.6C308 1409.9 309.2 1411.5 310.2 1413.1C311.2 1414.8 311.9 1416 312.1 1418.2C312.3 1420.5 312 1424 311.5 1426.6C310.9 1429.1 310.5 1431.4 308.9 1433.6C307.2 1435.8 304.9 1438.3 301.8 1439.7C298.7 1441.1 293.2 1441.8 290.4 1441.9C287.7 1441.9 286.7 1443.1 285.3 1440C283.9 1436.9 282 1429.5 282 1423.2C282 1416.9 283.9 1405.5 285.3 1402.2Z"/>
<path d="M286.3 1406.5C287.5 1403.6 288.7 1407.3 290.8 1407.8C292.8 1408.2 296.5 1408.6 298.8 1409.3C301.1 1410 303 1410.9 304.6 1412C306.1 1413.1 307.2 1414.6 308 1416C308.9 1417.4 309.5 1418.5 309.7 1420.4C309.9 1422.4 309.6 1425.5 309.1 1427.7C308.7 1430 308.3 1431.9 306.9 1433.9C305.5 1435.8 303.4 1438 300.7 1439.2C298 1440.4 293.2 1441.1 290.8 1441.1C288.4 1441.2 287.5 1442.2 286.3 1439.5C285.1 1436.7 283.4 1430.3 283.4 1424.8C283.4 1419.3 285.1 1409.3 286.3 1406.5Z"/>
<path d="M287.3 1410.7C288.3 1408.3 289.3 1411.4 291.1 1411.8C292.9 1412.2 296 1412.5 298 1413.1C299.9 1413.7 301.6 1414.5 302.9 1415.4C304.2 1416.4 305.1 1417.6 305.9 1418.8C306.6 1420.1 307.2 1421 307.3 1422.6C307.5 1424.3 307.2 1427 306.8 1428.9C306.4 1430.8 306.1 1432.5 304.9 1434.1C303.7 1435.8 301.9 1437.7 299.6 1438.7C297.3 1439.8 293.1 1440.3 291.1 1440.4C289 1440.4 288.3 1441.3 287.3 1438.9C286.2 1436.6 284.7 1431.1 284.7 1426.4C284.7 1421.7 286.2 1413.1 287.3 1410.7Z"/>
<path d="M288.2 1414.9C289.1 1412.9 289.9 1415.5 291.4 1415.8C292.9 1416.2 295.5 1416.4 297.1 1416.9C298.8 1417.5 300.1 1418.1 301.2 1418.9C302.3 1419.6 303.1 1420.7 303.7 1421.7C304.3 1422.7 304.8 1423.5 304.9 1424.9C305 1426.3 304.8 1428.5 304.5 1430.1C304.1 1431.6 303.9 1433.1 302.9 1434.4C301.9 1435.8 300.4 1437.4 298.5 1438.2C296.6 1439.1 293.1 1439.6 291.4 1439.6C289.7 1439.6 289.1 1440.3 288.2 1438.4C287.3 1436.5 286.1 1431.9 286.1 1428C286.1 1424 287.3 1416.9 288.2 1414.9Z"/>
<path d="M289.2 1419.1C289.9 1417.5 290.5 1419.6 291.7 1419.9C292.9 1420.1 295 1420.4 296.3 1420.8C297.6 1421.2 298.7 1421.6 299.6 1422.3C300.4 1422.9 301.1 1423.8 301.5 1424.5C302 1425.3 302.4 1426 302.5 1427.1C302.6 1428.2 302.4 1429.9 302.2 1431.2C301.9 1432.5 301.7 1433.6 300.9 1434.7C300.1 1435.8 298.9 1437 297.4 1437.7C295.9 1438.4 293.1 1438.8 291.7 1438.8C290.4 1438.8 289.9 1439.4 289.2 1437.9C288.5 1436.3 287.5 1432.7 287.5 1429.5C287.5 1426.4 288.5 1420.7 289.2 1419.1Z"/>
<path d="M290.2 1423.4C290.7 1422.2 291.2 1423.7 292.1 1423.9C292.9 1424.1 294.5 1424.3 295.5 1424.6C296.4 1424.9 297.2 1425.2 297.9 1425.7C298.6 1426.2 299 1426.8 299.4 1427.4C299.7 1428 300 1428.5 300.1 1429.3C300.2 1430.1 300 1431.4 299.8 1432.4C299.6 1433.3 299.5 1434.2 298.9 1435C298.3 1435.8 297.4 1436.7 296.3 1437.2C295.1 1437.8 293.1 1438 292.1 1438.1C291 1438.1 290.7 1438.5 290.2 1437.4C289.6 1436.2 288.9 1433.5 288.9 1431.1C288.9 1428.8 289.6 1424.6 290.2 1423.4Z"/>
<path d="M291.1 1427.6C291.5 1426.8 291.8 1427.8 292.4 1427.9C293 1428.1 294 1428.2 294.6 1428.4C295.3 1428.6 295.8 1428.8 296.2 1429.1C296.7 1429.4 297 1429.9 297.2 1430.2C297.5 1430.6 297.6 1430.9 297.7 1431.5C297.7 1432 297.7 1432.9 297.5 1433.5C297.4 1434.2 297.3 1434.7 296.9 1435.3C296.5 1435.8 295.9 1436.4 295.2 1436.8C294.4 1437.1 293 1437.3 292.4 1437.3C291.7 1437.3 291.5 1437.6 291.1 1436.8C290.8 1436.1 290.3 1434.3 290.3 1432.7C290.3 1431.2 290.8 1428.4 291.1 1427.6Z"/>
<path d="M292.1 1431.8C292.3 1431.4 292.4 1431.9 292.7 1432C293 1432 293.5 1432.1 293.8 1432.2C294.1 1432.3 294.4 1432.4 294.6 1432.6C294.8 1432.7 294.9 1432.9 295.1 1433.1C295.2 1433.3 295.3 1433.4 295.3 1433.7C295.3 1434 295.3 1434.4 295.2 1434.7C295.1 1435 295.1 1435.3 294.9 1435.5C294.7 1435.8 294.4 1436.1 294.1 1436.3C293.7 1436.4 293 1436.5 292.7 1436.5C292.4 1436.5 292.3 1436.7 292.1 1436.3C291.9 1435.9 291.7 1435 291.7 1434.3C291.7 1433.5 291.9 1432.2 292.1 1431.8Z"/>
</g>
<path d="M321.6 1354.3h.1M337.9 1419h.1M346.1 1407h.1M345.8 1401.2h.1M313 1341.1h.1M340.9 1395h.1M324.8 1434.6h.1M331.5 1358.2h.1M320 1352.1h.1M348.9 1407.7h.1M342.8 1384.6h.1M339 1396.4h.1M323.8 1350.4h.1M343.7 1415.4h.1M332 1361.3h.1M339.6 1416.3h.1M339 1394h.1M343.8 1378.1h.1M323.6 1438.4h.1M343.1 1404h.1M346.5 1410.5h.1M341.4 1384.8h.1M347.1 1416.2h.1M346.5 1411.6h.1M345.9 1387.9h.1M340.6 1408.4h.1M327.4 1435.4h.1M339.7 1424.4h.1M347.5 1406.2h.1M344.3 1396.7h.1M319.7 1447.7h.1M320.1 1439.6h.1M319.5 1440.1h.1M328 1434.1h.1M327.1 1437.7h.1M339.9 1416h.1M320.2 1440.3h.1M344.7 1414.5h.1M328.3 1360.3h.1M340.6 1390.1h.1M331.2 1359.1h.1M321.9 1354.3h.1M319.2 1351.2h.1M337.8 1368.8h.1M338.7 1421.7h.1M325 1358h.1M331.3 1370h.1M343.2 1387.7h.1M333 1430h.1M332.8 1436h.1M338.1 1409.9h.1M323.6 1356.2h.1M340 1432.5h.1M321.3 1447.8h.1M321.5 1437.9h.1M329.9 1368h.1M330.5 1357.7h.1M326.5 1445.3h.1M345 1421.1h.1M341.1 1389.4h.1M329.2 1431.7h.1M346 1425.3h.1M328.6 1436.4h.1M319.2 1440.9h.1M324.6 1348.4h.1M341.6 1390.2h.1M329 1439.1h.1M319.3 1354.7h.1M324.8 1441.3h.1M319.6 1355.2h.1M307.1 1344.5h.1M342 1399.7h.1M331.8 1447.8h.1M312.4 1350.6h.1M333.3 1422.9h.1M314.3 1331.7h.1M348.3 1392.8h.1M341.8 1388.7h.1M339.7 1359.7h.1M343.8 1420h.1M318.9 1442.5h.1M336.8 1416.1h.1M315.5 1354.4h.1M332.2 1353.5h.1M322.5 1353.9h.1M316.5 1442.9h.1M328.5 1361.4h.1M335.9 1373h.1M350.4 1387.4h.1M338.5 1354.1h.1M339.5 1390.7h.1M339.3 1416.6h.1M343.7 1368.7h.1M314.3 1352.7h.1M314 1342.8h.1M313.4 1327.9h.1M351.8 1383.9h.1M314.6 1442.2h.1M341.5 1396.2h.1M338.8 1389.4h.1M331.5 1435.8h.1M342.9 1385.6h.1M342.7 1375.7h.1M340.2 1350.4h.1M336.2 1370.5h.1M338.6 1435.8h.1M348.2 1418.7h.1M345.1 1410.5h.1M340.7 1360.9h.1M331.6 1437.8h.1M324.2 1435.9h.1M327.3 1447.8h.1M327.8 1358.3h.1M326.1 1362.3h.1M342.1 1416.2h.1M347.8 1419.7h.1M319.4 1447.8h.1M321.6 1438.5h.1M335.1 1418.6h.1M327.8 1350.7h.1M336.7 1381h.1M340 1397.2h.1M338 1385.1h.1M341.6 1395.5h.1M338.7 1370.7h.1M340.6 1415.5h.1M313.2 1352.4h.1M341.3 1388.8h.1M344 1373.1h.1M345 1426.4h.1M336.2 1366.1h.1M351.4 1393h.1M338.6 1409.1h.1M340.2 1377.5h.1M321.7 1446h.1M327.8 1346.9h.1M307.9 1343.9h.1M338.7 1404.3h.1M339.4 1428.6h.1M337.2 1377.3h.1M327.8 1443.3h.1M345.2 1427.2h.1M340.1 1372h.1M340.8 1374.8h.1M338.5 1363.7h.1M337 1355.8h.1M337.9 1374.4h.1M341.5 1377.5h.1M316.4 1349.9h.1M334.2 1431h.1M329 1363.5h.1M334.5 1341.5h.1M342 1374.6h.1M334.2 1372.6h.1M321.9 1354.9h.1M328.4 1438.6h.1M349 1400.2h.1M336.5 1447.8h.1M342.2 1426.8h.1M322.6 1445.8h.1M324.3 1360.5h.1M349.1 1379.2h.1M317 1445.8h.1M325.4 1351.5h.1M346.2 1407.6h.1M336.6 1428.1h.1M346.2 1388.8h.1M324.5 1352.9h.1M335.1 1434.1h.1M328.9 1447.8h.1M326.1 1358.1h.1M349 1385.3h.1M335.3 1378.3h.1M321.7 1350.1h.1M352.7 1399.3h.1M322.2 1342.3h.1M341.4 1425.8h.1M352.7 1373.2h.1M317.4 1350.3h.1M327.1 1352.8h.1M337.2 1427.1h.1M334.7 1356.2h.1M341.4 1391.4h.1M334.2 1366.7h.1M331.6 1434.4h.1M342.4 1407.7h.1M342 1417.8h.1M331.7 1437.2h.1M333.3 1447.1h.1M342.9 1418.6h.1" stroke="#222" stroke-width="1.05" stroke-linecap="square" fill="none"/>
<path d="M272.2 1346.5h.1M260.4 1341h.1M266.1 1340.5h.1M275.9 1336h.1M284.1 1340.2h.1M267.8 1345h.1M284.6 1344.8h.1M282.4 1346.3h.1M262.4 1344.9h.1M254.4 1339.9h.1M247.3 1341.1h.1M246 1341.6h.1M274.3 1344h.1M277.1 1344.4h.1M247 1333.5h.1M276 1335.1h.1M263.7 1333h.1M250.6 1348.1h.1M251.9 1329.6h.1M270.7 1338.8h.1M244 1345.6h.1M272.8 1337.4h.1M250.4 1340.1h.1M270.1 1340.4h.1M277.4 1338.7h.1M243.2 1344.1h.1M251.9 1338.8h.1M282.4 1342.3h.1M250.2 1339.6h.1M274.1 1344.4h.1" stroke="#222" stroke-width="1.05" stroke-linecap="square" fill="none"/>
<rect x="198.6" y="644.8" width="249.6" height="249.5" stroke="#000" fill="none" stroke-width="2.9"/>
<path d="M284.8 644.8V871H447.6V644.8" fill="none" stroke="#000" stroke-width="3.5"/>
<rect x="198.6" y="950.3" width="249.6" height="249.4" stroke="#000" fill="none" stroke-width="2.9"/>
<path d="M284.8 950.3V1176.5H447.6V950.3" fill="none" stroke="#000" stroke-width="3.5"/>
<rect x="198.6" y="1255.8" width="249.6" height="250.1" stroke="#000" fill="none" stroke-width="2.9"/>
<path d="M284.8 1255.8V1484.5H447.6V1255.8" fill="none" stroke="#000" stroke-width="3.5"/>
<text x="247.4" y="632.9">Untreated</text>
<text x="241" y="937.6">MOPC_SDIE</text>
<text x="246.6" y="1243.3">8H8_SDIE</text>
<text x="347.2" y="687.9">4.5%</text>
<text x="347.1" y="992">6.5%</text>
<text x="330.6" y="1301.2">22.9%</text>
<text transform="translate(141.4 1073.4) rotate(-90)" text-anchor="middle">CD56</text>
<text x="276.3" y="1577">CD69</text>
<text x="545.2" y="563.9" font-weight="bold" font-size="44.6">C</text>
<line x1="752.05" y1="885.8" x2="752.05" y2="902.7" stroke="#000" stroke-width="3"/>
<line x1="741.15" y1="885.8" x2="762.95" y2="885.8" stroke="#000" stroke-width="3.2"/>
<rect x="731.75" y="902.7" width="40.6" height="58.8" stroke="#000" fill="#fff" stroke-width="3.2"/>
<line x1="817.55" y1="909.9" x2="817.55" y2="920.7" stroke="#9f9fa3" stroke-width="3"/>
<line x1="806.65" y1="909.9" x2="828.45" y2="909.9" stroke="#9f9fa3" stroke-width="3.2"/>
<rect x="797.25" y="920.7" width="40.6" height="40.8" stroke="#9f9fa3" fill="#dfdfe0" stroke-width="3.2"/>
<line x1="883.05" y1="724" x2="883.05" y2="761.8" stroke="#7a79c3" stroke-width="3"/>
<line x1="872.15" y1="724" x2="893.95" y2="724" stroke="#7a79c3" stroke-width="3.2"/>
<rect x="862.75" y="761.8" width="40.6" height="199.7" stroke="#7a79c3" fill="#b2b1d9" stroke-width="3.2"/>
<line x1="752.35" y1="638.2" x2="883.45" y2="638.2" stroke="#000" stroke-width="3.2"/>
<text transform="translate(817.4 635.77) scale(0.94 1)" x="1.65" text-anchor="middle" font-family='"DejaVu Sans", "Liberation Sans", sans-serif' font-weight="bold" font-size="26.8" letter-spacing="3.3" class="st">**</text>
<line x1="817.75" y1="675.2" x2="883.45" y2="675.2" stroke="#000" stroke-width="3.2"/>
<text transform="translate(850.1 671.77) scale(0.94 1)" x="1.65" text-anchor="middle" font-family='"DejaVu Sans", "Liberation Sans", sans-serif' font-weight="bold" font-size="26.8" letter-spacing="3.3" class="st">**</text>
<text x="816.3" y="593.7" text-anchor="middle" font-size="32">A549</text>
<text transform="translate(639.9 794.8) rotate(-90)" text-anchor="middle" font-size="32">CD69<tspan dy="-15.5" font-size="23">+</tspan><tspan dy="15.5" font-size="26"> </tspan>NK-cells [%]</text>
<line x1="1092.45" y1="904.2" x2="1092.45" y2="916.9" stroke="#000" stroke-width="3"/>
<line x1="1081.55" y1="904.2" x2="1103.35" y2="904.2" stroke="#000" stroke-width="3.2"/>
<rect x="1072.15" y="916.9" width="40.6" height="44.6" stroke="#000" fill="#fff" stroke-width="3.2"/>
<line x1="1157.95" y1="906.4" x2="1157.95" y2="923.2" stroke="#9f9fa3" stroke-width="3"/>
<line x1="1147.05" y1="906.4" x2="1168.85" y2="906.4" stroke="#9f9fa3" stroke-width="3.2"/>
<rect x="1137.65" y="923.2" width="40.6" height="38.3" stroke="#9f9fa3" fill="#dfdfe0" stroke-width="3.2"/>
<line x1="1223.45" y1="676.9" x2="1223.45" y2="726" stroke="#7a79c3" stroke-width="3"/>
<line x1="1212.55" y1="676.9" x2="1234.35" y2="676.9" stroke="#7a79c3" stroke-width="3.2"/>
<rect x="1203.15" y="726" width="40.6" height="235.5" stroke="#7a79c3" fill="#b2b1d9" stroke-width="3.2"/>
<line x1="1092.45" y1="630.3" x2="1223.05" y2="630.3" stroke="#000" stroke-width="3.2"/>
<text transform="translate(1157.25 627.27) scale(0.94 1)" x="1.65" text-anchor="middle" font-family='"DejaVu Sans", "Liberation Sans", sans-serif' font-weight="bold" font-size="26.8" letter-spacing="3.3" class="st">**</text>
<line x1="1157.95" y1="666.4" x2="1223.05" y2="666.4" stroke="#000" stroke-width="3.2"/>
<text transform="translate(1190 662.37) scale(0.94 1)" x="1.65" text-anchor="middle" font-family='"DejaVu Sans", "Liberation Sans", sans-serif' font-weight="bold" font-size="26.8" letter-spacing="3.3" class="st">**</text>
<text x="1157.5" y="593.7" text-anchor="middle" font-size="32">NCI-H226</text>
<text transform="translate(979.6 794.8) rotate(-90)" text-anchor="middle" font-size="32">CD69<tspan dy="-15.5" font-size="23">+</tspan><tspan dy="15.5" font-size="26"> </tspan>NK-cells [%]</text>
<rect x="625.1" y="1056.6" width="23.9" height="23.9" stroke="#000" fill="#fff" stroke-width="2.6" stroke-linejoin="round"/>
<text x="658.1" y="1076.7">Untreated</text>
<rect x="824.6" y="1055.6" width="23.9" height="23.9" stroke="#9f9fa3" fill="#dfdfe0" stroke-width="2.6" stroke-linejoin="round"/>
<text x="865.2" y="1076.7">MOPC_SDIE</text>
<rect x="1088.8" y="1055.6" width="23.9" height="23.9" stroke="#7a79c3" fill="#b2b1d9" stroke-width="2.6" stroke-linejoin="round"/>
<text x="1123.5" y="1076.7">8H8_SDIE</text>
<line x1="752.05" y1="1467.7" x2="752.05" y2="1483.7" stroke="#000" stroke-width="3"/>
<line x1="741.15" y1="1467.7" x2="762.95" y2="1467.7" stroke="#000" stroke-width="3.2"/>
<rect x="731.75" y="1483.7" width="40.6" height="54.7" stroke="#000" fill="#fff" stroke-width="3.2"/>
<line x1="817.55" y1="1459.6" x2="817.55" y2="1479.8" stroke="#9f9fa3" stroke-width="3"/>
<line x1="806.65" y1="1459.6" x2="828.45" y2="1459.6" stroke="#9f9fa3" stroke-width="3.2"/>
<rect x="797.25" y="1479.8" width="40.6" height="58.6" stroke="#9f9fa3" fill="#dfdfe0" stroke-width="3.2"/>
<line x1="883.05" y1="1253.7" x2="883.05" y2="1308.8" stroke="#7a79c3" stroke-width="3"/>
<line x1="872.15" y1="1253.7" x2="893.95" y2="1253.7" stroke="#7a79c3" stroke-width="3.2"/>
<rect x="862.75" y="1308.8" width="40.6" height="229.6" stroke="#7a79c3" fill="#b2b1d9" stroke-width="3.2"/>
<line x1="752.45" y1="1212.7" x2="883.25" y2="1212.7" stroke="#000" stroke-width="3.2"/>
<text transform="translate(817.35 1208.87) scale(0.94 1)" x="1.65" text-anchor="middle" font-family='"DejaVu Sans", "Liberation Sans", sans-serif' font-weight="bold" font-size="26.8" letter-spacing="3.3" class="st">*</text>
<line x1="818.35" y1="1245.8" x2="883.25" y2="1245.8" stroke="#000" stroke-width="3.2"/>
<text transform="translate(850.3 1242.07) scale(0.94 1)" x="1.65" text-anchor="middle" font-family='"DejaVu Sans", "Liberation Sans", sans-serif' font-weight="bold" font-size="26.8" letter-spacing="3.3" class="st">*</text>
<text x="817.5" y="1169.1" text-anchor="middle" font-size="32">NCI-H460</text>
<text transform="translate(637.9 1371.7) rotate(-90)" text-anchor="middle" font-size="32">CD69<tspan dy="-15.5" font-size="23">+</tspan><tspan dy="15.5" font-size="26"> </tspan>NK-cells [%]</text>
<line x1="1092.25" y1="1485.4" x2="1092.25" y2="1495.7" stroke="#000" stroke-width="2.8"/>
<line x1="1092.25" y1="1520.8" x2="1092.25" y2="1526.9" stroke="#000" stroke-width="2.8"/>
<line x1="1081.3" y1="1485.4" x2="1103.2" y2="1485.4" stroke="#000" stroke-width="3"/>
<line x1="1081.3" y1="1526.9" x2="1103.2" y2="1526.9" stroke="#000" stroke-width="3"/>
<rect x="1072.2" y="1497.3" width="40.1" height="21.9" stroke="#000" fill="#fff" stroke-width="3.2"/>
<line x1="1072.2" y1="1506.9" x2="1112.3" y2="1506.9" stroke="#000" stroke-width="3"/>
<line x1="1157.4" y1="1479.9" x2="1157.4" y2="1501.1" stroke="#9f9fa3" stroke-width="2.8"/>
<line x1="1157.4" y1="1525" x2="1157.4" y2="1525.8" stroke="#9f9fa3" stroke-width="2.8"/>
<line x1="1146.45" y1="1479.9" x2="1168.35" y2="1479.9" stroke="#9f9fa3" stroke-width="3"/>
<line x1="1146.45" y1="1525.8" x2="1168.35" y2="1525.8" stroke="#9f9fa3" stroke-width="3"/>
<rect x="1137.2" y="1502.7" width="40.4" height="20.7" stroke="#9f9fa3" fill="#dfdfe0" stroke-width="3.2"/>
<line x1="1137.2" y1="1519" x2="1177.6" y2="1519" stroke="#9f9fa3" stroke-width="3"/>
<line x1="1223" y1="1268.3" x2="1223" y2="1363.7" stroke="#7a79c3" stroke-width="2.8"/>
<line x1="1223" y1="1458.8" x2="1223" y2="1478.1" stroke="#7a79c3" stroke-width="2.8"/>
<line x1="1212.05" y1="1268.3" x2="1233.95" y2="1268.3" stroke="#7a79c3" stroke-width="3"/>
<line x1="1212.05" y1="1478.1" x2="1233.95" y2="1478.1" stroke="#7a79c3" stroke-width="3"/>
<rect x="1202.8" y="1365.3" width="40.4" height="91.9" stroke="#7a79c3" fill="#b2b1d9" stroke-width="3.2"/>
<line x1="1202.8" y1="1424.4" x2="1243.2" y2="1424.4" stroke="#7a79c3" stroke-width="3"/>
<line x1="1092.5" y1="1217" x2="1223.1" y2="1217" stroke="#000" stroke-width="3.2"/>
<text transform="translate(1157.3 1214.17) scale(0.94 1)" x="1.65" text-anchor="middle" font-family='"DejaVu Sans", "Liberation Sans", sans-serif' font-weight="bold" font-size="26.8" letter-spacing="3.3" class="st">***</text>
<line x1="1158.5" y1="1258.1" x2="1223.1" y2="1258.1" stroke="#000" stroke-width="3.2"/>
<text transform="translate(1190.3 1254.67) scale(0.94 1)" x="1.65" text-anchor="middle" font-family='"DejaVu Sans", "Liberation Sans", sans-serif' font-weight="bold" font-size="26.8" letter-spacing="3.3" class="st">***</text>
<text x="1158.2" y="1169.1" text-anchor="middle" font-size="32">Pooled</text>
<text transform="translate(979.6 1371.7) rotate(-90)" text-anchor="middle" font-size="32">CD69<tspan dy="-15.5" font-size="23">+</tspan><tspan dy="15.5" font-size="26"> </tspan>NK-cells [%]</text>
<text x="1293.8" y="563.9" font-weight="bold" font-size="44.6">D</text>
<line x1="1403.7" y1="1532.1" x2="1403.7" y2="639.2" stroke="#000" stroke-width="4.6"/>
<polygon points="1403.7,615.4 1395,640.6 1412.4,640.6" fill="#000"/>
<line x1="1401.3" y1="1529.8" x2="1682.6" y2="1529.8" stroke="#000" stroke-width="4.6"/>
<polygon points="1706.3,1529.8 1681.6,1521.1 1681.6,1538.5" fill="#000"/>
<g fill="#000" fill-opacity="0.02" stroke="#666" stroke-width="0.75">
<path d="M1488.6 682.5C1494.1 682.7 1501.6 685.8 1505.6 689.5C1509.6 693.2 1511.1 699 1512.6 704.5C1514.1 710 1513.6 715.8 1514.6 722.5C1515.6 729.2 1517.6 736.8 1518.6 744.5C1519.6 752.2 1520.8 759.8 1520.6 768.5C1520.4 777.2 1519.8 789 1517.6 796.5C1515.4 804 1512.4 809.8 1507.6 813.4C1502.8 817 1494.9 818.4 1488.6 818.4C1482.3 818.4 1474.4 817 1469.6 813.4C1464.8 809.8 1461.6 804 1459.6 796.5C1457.6 789 1457.3 777.2 1457.6 768.5C1457.9 759.8 1460.1 752.2 1461.6 744.5C1463.1 736.8 1465.9 729.5 1466.6 722.5C1467.3 715.5 1464.6 708.2 1465.6 702.5C1466.6 696.8 1468.8 691.8 1472.6 688.5C1476.4 685.2 1483.1 682.3 1488.6 682.5Z"/>
<path d="M1488.6 686.1C1493.8 686.3 1501 689.3 1504.8 692.8C1508.5 696.3 1510 701.8 1511.4 707C1512.8 712.2 1512.3 717.8 1513.3 724.1C1514.2 730.5 1516.1 737.7 1517.1 745C1518 752.3 1519.2 759.6 1519 767.8C1518.8 776.1 1518.2 787.3 1516.1 794.4C1514.1 801.5 1511.2 807 1506.6 810.5C1502.1 813.9 1494.6 815.2 1488.6 815.2C1482.6 815.2 1475.1 813.9 1470.5 810.5C1466 807 1463 801.5 1461 794.4C1459.1 787.3 1458.8 776.1 1459.1 767.8C1459.5 759.6 1461.5 752.3 1462.9 745C1464.4 737.7 1467.1 730.8 1467.7 724.1C1468.3 717.5 1465.8 710.5 1466.8 705.1C1467.7 699.7 1469.8 695 1473.4 691.8C1477 688.7 1483.4 686 1488.6 686.1Z"/>
<path d="M1488.6 689.7C1493.5 689.9 1500.3 692.7 1503.9 696C1507.5 699.3 1508.8 704.6 1510.2 709.5C1511.5 714.5 1511.1 719.7 1512 725.7C1512.9 731.7 1514.7 738.6 1515.6 745.5C1516.5 752.4 1517.5 759.3 1517.4 767.1C1517.2 774.9 1516.6 785.6 1514.7 792.3C1512.7 799.1 1510 804.3 1505.7 807.5C1501.3 810.8 1494.3 812 1488.6 812C1482.9 812 1475.8 810.8 1471.5 807.5C1467.2 804.3 1464.3 799.1 1462.5 792.3C1460.7 785.6 1460.4 774.9 1460.7 767.1C1461 759.3 1462.9 752.4 1464.3 745.5C1465.7 738.6 1468.2 732 1468.8 725.7C1469.4 719.4 1467 712.8 1467.9 707.7C1468.8 702.6 1470.7 698.1 1474.2 695.1C1477.6 692.1 1483.6 689.6 1488.6 689.7Z"/>
<path d="M1488.6 693.4C1493.3 693.5 1499.6 696.2 1503 699.3C1506.5 702.4 1507.7 707.4 1509 712.1C1510.3 716.7 1509.8 721.7 1510.7 727.4C1511.5 733 1513.2 739.5 1514.1 746.1C1514.9 752.6 1515.9 759.1 1515.8 766.5C1515.7 773.8 1515.1 783.9 1513.2 790.3C1511.4 796.6 1508.9 801.5 1504.8 804.6C1500.6 807.7 1494 808.9 1488.6 808.9C1483.2 808.9 1476.6 807.7 1472.4 804.6C1468.3 801.5 1465.6 796.6 1463.9 790.3C1462.2 783.9 1462 773.8 1462.2 766.5C1462.5 759.1 1464.4 752.6 1465.6 746.1C1466.9 739.5 1469.3 733.3 1469.9 727.4C1470.5 721.4 1468.2 715.2 1469 710.4C1469.9 705.5 1471.7 701.3 1475 698.5C1478.3 695.6 1483.9 693.2 1488.6 693.4Z"/>
<path d="M1488.6 697C1493 697.1 1499 699.6 1502.2 702.6C1505.4 705.5 1506.6 710.2 1507.8 714.6C1509 719 1508.6 723.6 1509.4 729C1510.2 734.3 1511.8 740.4 1512.6 746.6C1513.4 752.7 1514.3 758.8 1514.2 765.8C1514.1 772.7 1513.5 782.2 1511.8 788.2C1510.1 794.2 1507.7 798.8 1503.8 801.7C1499.9 804.6 1493.7 805.7 1488.6 805.7C1483.5 805.7 1477.3 804.6 1473.4 801.7C1469.5 798.8 1467 794.2 1465.4 788.2C1463.8 782.2 1463.5 772.7 1463.8 765.8C1464.1 758.8 1465.8 752.7 1467 746.6C1468.2 740.4 1470.5 734.6 1471 729C1471.5 723.4 1469.4 717.5 1470.2 713C1471 708.4 1472.7 704.4 1475.8 701.8C1478.9 699.1 1484.2 696.8 1488.6 697Z"/>
</g>
<g fill="#000" fill-opacity="0.025" stroke="#666" stroke-width="0.7">
<path d="M1505.6 705.5C1505.6 708.1 1504.7 711 1503.3 713.2C1501.9 715.5 1499.6 717.6 1497.1 718.9C1494.6 720.2 1491.4 721 1488.6 721C1485.8 721 1482.6 720.2 1480.1 718.9C1477.6 717.6 1475.3 715.5 1473.9 713.2C1472.5 711 1471.6 708.1 1471.6 705.5C1471.6 702.9 1472.5 700 1473.9 697.8C1475.3 695.5 1477.6 693.4 1480.1 692.1C1482.6 690.8 1485.8 690 1488.6 690C1491.4 690 1494.6 690.8 1497.1 692.1C1499.6 693.4 1501.9 695.5 1503.3 697.8C1504.7 700 1505.6 702.9 1505.6 705.5Z"/>
<path d="M1503.6 705.5C1503.6 707.8 1502.8 710.4 1501.6 712.3C1500.3 714.3 1498.2 716.2 1496.1 717.3C1493.9 718.4 1491.1 719.1 1488.6 719.1C1486.1 719.1 1483.3 718.4 1481.1 717.3C1479 716.2 1476.9 714.3 1475.6 712.3C1474.4 710.4 1473.6 707.8 1473.6 705.5C1473.6 703.2 1474.4 700.6 1475.6 698.7C1476.9 696.7 1479 694.8 1481.1 693.7C1483.3 692.6 1486.1 691.9 1488.6 691.9C1491.1 691.9 1493.9 692.6 1496.1 693.7C1498.2 694.8 1500.3 696.7 1501.6 698.7C1502.8 700.6 1503.6 703.2 1503.6 705.5Z"/>
<path d="M1501.5 705.5C1501.5 707.5 1500.9 709.7 1499.8 711.4C1498.7 713.1 1496.9 714.7 1495.1 715.7C1493.2 716.7 1490.8 717.3 1488.6 717.3C1486.4 717.3 1484 716.7 1482.1 715.7C1480.3 714.7 1478.5 713.1 1477.4 711.4C1476.3 709.7 1475.7 707.5 1475.7 705.5C1475.7 703.5 1476.3 701.3 1477.4 699.6C1478.5 697.9 1480.3 696.3 1482.1 695.3C1484 694.3 1486.4 693.7 1488.6 693.7C1490.8 693.7 1493.2 694.3 1495.1 695.3C1496.9 696.3 1498.7 697.9 1499.8 699.6C1500.9 701.3 1501.5 703.5 1501.5 705.5Z"/>
<path d="M1499.5 705.5C1499.5 707.2 1498.9 709 1498 710.5C1497.1 711.9 1495.6 713.3 1494 714.1C1492.5 714.9 1490.4 715.4 1488.6 715.4C1486.8 715.4 1484.7 714.9 1483.2 714.1C1481.6 713.3 1480.1 711.9 1479.2 710.5C1478.3 709 1477.7 707.2 1477.7 705.5C1477.7 703.8 1478.3 702 1479.2 700.5C1480.1 699.1 1481.6 697.7 1483.2 696.9C1484.7 696.1 1486.8 695.6 1488.6 695.6C1490.4 695.6 1492.5 696.1 1494 696.9C1495.6 697.7 1497.1 699.1 1498 700.5C1498.9 702 1499.5 703.8 1499.5 705.5Z"/>
<path d="M1497.4 705.5C1497.4 706.8 1497 708.4 1496.3 709.5C1495.5 710.7 1494.3 711.8 1493 712.5C1491.7 713.2 1490.1 713.6 1488.6 713.6C1487.1 713.6 1485.5 713.2 1484.2 712.5C1482.9 711.8 1481.7 710.7 1480.9 709.5C1480.2 708.4 1479.8 706.8 1479.8 705.5C1479.8 704.2 1480.2 702.6 1480.9 701.5C1481.7 700.3 1482.9 699.2 1484.2 698.5C1485.5 697.8 1487.1 697.4 1488.6 697.4C1490.1 697.4 1491.7 697.8 1493 698.5C1494.3 699.2 1495.5 700.3 1496.3 701.5C1497 702.6 1497.4 704.2 1497.4 705.5Z"/>
<path d="M1495.4 705.5C1495.4 706.5 1495.1 707.7 1494.5 708.6C1493.9 709.5 1493 710.4 1492 710.9C1491 711.4 1489.7 711.7 1488.6 711.7C1487.5 711.7 1486.2 711.4 1485.2 710.9C1484.2 710.4 1483.3 709.5 1482.7 708.6C1482.1 707.7 1481.8 706.5 1481.8 705.5C1481.8 704.5 1482.1 703.3 1482.7 702.4C1483.3 701.5 1484.2 700.6 1485.2 700.1C1486.2 699.6 1487.5 699.3 1488.6 699.3C1489.7 699.3 1491 699.6 1492 700.1C1493 700.6 1493.9 701.5 1494.5 702.4C1495.1 703.3 1495.4 704.5 1495.4 705.5Z"/>
<path d="M1493.4 705.5C1493.4 706.2 1493.1 707 1492.7 707.7C1492.3 708.3 1491.7 708.9 1491 709.3C1490.3 709.6 1489.4 709.8 1488.6 709.8C1487.8 709.8 1486.9 709.6 1486.2 709.3C1485.5 708.9 1484.9 708.3 1484.5 707.7C1484.1 707 1483.8 706.2 1483.8 705.5C1483.8 704.8 1484.1 704 1484.5 703.3C1484.9 702.7 1485.5 702.1 1486.2 701.7C1486.9 701.4 1487.8 701.2 1488.6 701.2C1489.4 701.2 1490.3 701.4 1491 701.7C1491.7 702.1 1492.3 702.7 1492.7 703.3C1493.1 704 1493.4 704.8 1493.4 705.5Z"/>
</g>
<ellipse cx="1488.6" cy="705.5" rx="4" ry="4.6" fill="#fff" stroke="#555" stroke-width="0.7"/>
<g fill="#000" fill-opacity="0.08" stroke="#262626" stroke-width="0.8">
<path d="M1514.6 768.9C1514.6 776.4 1513.3 784.9 1511.1 791.4C1508.9 797.9 1505.4 804.1 1501.6 807.9C1497.8 811.6 1492.9 813.9 1488.6 813.9C1484.3 813.9 1479.4 811.6 1475.6 807.9C1471.8 804.1 1468.3 797.9 1466.1 791.4C1463.9 784.9 1462.6 776.4 1462.6 768.9C1462.6 761.4 1463.9 752.9 1466.1 746.4C1468.3 739.9 1471.8 733.7 1475.6 729.9C1479.4 726.2 1484.3 723.9 1488.6 723.9C1492.9 723.9 1497.8 726.2 1501.6 729.9C1505.4 733.7 1508.9 739.9 1511.1 746.4C1513.3 752.9 1514.6 761.4 1514.6 768.9Z"/>
<path d="M1513.4 768.8C1513.4 776 1512.1 784.1 1510.1 790.2C1508 796.4 1504.6 802.4 1501 805.9C1497.4 809.5 1492.7 811.7 1488.6 811.7C1484.5 811.7 1479.8 809.5 1476.2 805.9C1472.6 802.4 1469.2 796.4 1467.1 790.2C1465.1 784.1 1463.8 776 1463.8 768.8C1463.8 761.7 1465.1 753.6 1467.1 747.4C1469.2 741.2 1472.6 735.3 1476.2 731.7C1479.8 728.1 1484.5 725.9 1488.6 725.9C1492.7 725.9 1497.4 728.1 1501 731.7C1504.6 735.3 1508 741.2 1510.1 747.4C1512.1 753.6 1513.4 761.7 1513.4 768.8Z"/>
<path d="M1512.1 768.7C1512.1 775.5 1510.9 783.2 1509 789.1C1507 795 1503.8 800.6 1500.4 804C1497 807.4 1492.5 809.4 1488.6 809.4C1484.7 809.4 1480.2 807.4 1476.8 804C1473.4 800.6 1470.2 795 1468.2 789.1C1466.3 783.2 1465.1 775.5 1465.1 768.7C1465.1 761.9 1466.3 754.2 1468.2 748.3C1470.2 742.5 1473.4 736.8 1476.8 733.4C1480.2 730 1484.7 728 1488.6 728C1492.5 728 1497 730 1500.4 733.4C1503.8 736.8 1507 742.5 1509 748.3C1510.9 754.2 1512.1 761.9 1512.1 768.7Z"/>
<path d="M1510.9 768.6C1510.9 775 1509.8 782.3 1507.9 787.9C1506.1 793.5 1503 798.8 1499.8 802C1496.5 805.3 1492.3 807.2 1488.6 807.2C1484.9 807.2 1480.7 805.3 1477.4 802C1474.2 798.8 1471.1 793.5 1469.3 787.9C1467.4 782.3 1466.3 775 1466.3 768.6C1466.3 762.2 1467.4 754.9 1469.3 749.3C1471.1 743.7 1474.2 738.4 1477.4 735.2C1480.7 732 1484.9 730 1488.6 730C1492.3 730 1496.5 732 1499.8 735.2C1503 738.4 1506.1 743.7 1507.9 749.3C1509.8 754.9 1510.9 762.2 1510.9 768.6Z"/>
<path d="M1509.7 768.5C1509.7 774.6 1508.6 781.5 1506.9 786.8C1505.1 792 1502.2 797.1 1499.1 800.1C1496.1 803.1 1492.1 805 1488.6 805C1485.1 805 1481.1 803.1 1478.1 800.1C1475 797.1 1472.1 792 1470.3 786.8C1468.6 781.5 1467.5 774.6 1467.5 768.5C1467.5 762.4 1468.6 755.5 1470.3 750.3C1472.1 745 1475 740 1478.1 736.9C1481.1 733.9 1485.1 732 1488.6 732C1492.1 732 1496.1 733.9 1499.1 736.9C1502.2 740 1505.1 745 1506.9 750.3C1508.6 755.5 1509.7 762.4 1509.7 768.5Z"/>
<path d="M1508.4 768.4C1508.4 774.1 1507.4 780.6 1505.8 785.6C1504.1 790.6 1501.4 795.3 1498.5 798.2C1495.7 801 1491.9 802.8 1488.6 802.8C1485.3 802.8 1481.5 801 1478.7 798.2C1475.8 795.3 1473.1 790.6 1471.4 785.6C1469.8 780.6 1468.8 774.1 1468.8 768.4C1468.8 762.7 1469.8 756.2 1471.4 751.3C1473.1 746.3 1475.8 741.5 1478.7 738.7C1481.5 735.8 1485.3 734.1 1488.6 734.1C1491.9 734.1 1495.7 735.8 1498.5 738.7C1501.4 741.5 1504.1 746.3 1505.8 751.3C1507.4 756.2 1508.4 762.7 1508.4 768.4Z"/>
<path d="M1507.2 768.3C1507.2 773.7 1506.3 779.8 1504.7 784.4C1503.2 789.1 1500.6 793.5 1497.9 796.2C1495.2 798.9 1491.7 800.5 1488.6 800.5C1485.5 800.5 1482 798.9 1479.3 796.2C1476.6 793.5 1474 789.1 1472.5 784.4C1470.9 779.8 1470 773.7 1470 768.3C1470 763 1470.9 756.9 1472.5 752.2C1474 747.6 1476.6 743.1 1479.3 740.4C1482 737.8 1485.5 736.1 1488.6 736.1C1491.7 736.1 1495.2 737.8 1497.9 740.4C1500.6 743.1 1503.2 747.6 1504.7 752.2C1506.3 756.9 1507.2 763 1507.2 768.3Z"/>
<path d="M1506 768.2C1506 773.2 1505.1 778.9 1503.7 783.3C1502.2 787.6 1499.8 791.8 1497.3 794.3C1494.8 796.8 1491.5 798.3 1488.6 798.3C1485.7 798.3 1482.4 796.8 1479.9 794.3C1477.4 791.8 1475 787.6 1473.5 783.3C1472.1 778.9 1471.2 773.2 1471.2 768.2C1471.2 763.2 1472.1 757.5 1473.5 753.2C1475 748.9 1477.4 744.7 1479.9 742.2C1482.4 739.7 1485.7 738.2 1488.6 738.2C1491.5 738.2 1494.8 739.7 1497.3 742.2C1499.8 744.7 1502.2 748.9 1503.7 753.2C1505.1 757.5 1506 763.2 1506 768.2Z"/>
<path d="M1504.7 768.1C1504.7 772.8 1503.9 778.1 1502.6 782.1C1501.2 786.1 1499 790 1496.7 792.3C1494.3 794.7 1491.3 796.1 1488.6 796.1C1485.9 796.1 1482.9 794.7 1480.5 792.3C1478.2 790 1476 786.1 1474.6 782.1C1473.3 778.1 1472.5 772.8 1472.5 768.1C1472.5 763.5 1473.3 758.2 1474.6 754.2C1476 750.1 1478.2 746.3 1480.5 743.9C1482.9 741.6 1485.9 740.2 1488.6 740.2C1491.3 740.2 1494.3 741.6 1496.7 743.9C1499 746.3 1501.2 750.1 1502.6 754.2C1503.9 758.2 1504.7 763.5 1504.7 768.1Z"/>
<path d="M1503.5 768C1503.5 772.4 1502.8 777.2 1501.5 781C1500.3 784.7 1498.2 788.3 1496.1 790.4C1493.9 792.6 1491.1 793.9 1488.6 793.9C1486.1 793.9 1483.3 792.6 1481.1 790.4C1479 788.3 1476.9 784.7 1475.7 781C1474.4 777.2 1473.7 772.4 1473.7 768C1473.7 763.7 1474.4 758.9 1475.7 755.1C1476.9 751.4 1479 747.8 1481.1 745.7C1483.3 743.5 1486.1 742.2 1488.6 742.2C1491.1 742.2 1493.9 743.5 1496.1 745.7C1498.2 747.8 1500.3 751.4 1501.5 755.1C1502.8 758.9 1503.5 763.7 1503.5 768Z"/>
<path d="M1502.3 768C1502.3 771.9 1501.6 776.4 1500.5 779.8C1499.3 783.2 1497.4 786.5 1495.4 788.5C1493.5 790.4 1490.9 791.6 1488.6 791.6C1486.3 791.6 1483.7 790.4 1481.8 788.5C1479.8 786.5 1477.9 783.2 1476.7 779.8C1475.6 776.4 1474.9 771.9 1474.9 768C1474.9 764 1475.6 759.5 1476.7 756.1C1477.9 752.7 1479.8 749.4 1481.8 747.4C1483.7 745.5 1486.3 744.3 1488.6 744.3C1490.9 744.3 1493.5 745.5 1495.4 747.4C1497.4 749.4 1499.3 752.7 1500.5 756.1C1501.6 759.5 1502.3 764 1502.3 768Z"/>
<path d="M1501.1 767.9C1501.1 771.5 1500.4 775.5 1499.4 778.6C1498.3 781.7 1496.6 784.7 1494.8 786.5C1493 788.3 1490.7 789.4 1488.6 789.4C1486.5 789.4 1484.2 788.3 1482.4 786.5C1480.6 784.7 1478.9 781.7 1477.8 778.6C1476.8 775.5 1476.1 771.5 1476.1 767.9C1476.1 764.3 1476.8 760.2 1477.8 757.1C1478.9 754 1480.6 751 1482.4 749.2C1484.2 747.4 1486.5 746.3 1488.6 746.3C1490.7 746.3 1493 747.4 1494.8 749.2C1496.6 751 1498.3 754 1499.4 757.1C1500.4 760.2 1501.1 764.3 1501.1 767.9Z"/>
<path d="M1499.8 767.8C1499.8 771 1499.3 774.7 1498.3 777.5C1497.4 780.3 1495.8 783 1494.2 784.6C1492.6 786.2 1490.5 787.2 1488.6 787.2C1486.7 787.2 1484.6 786.2 1483 784.6C1481.4 783 1479.8 780.3 1478.9 777.5C1477.9 774.7 1477.4 771 1477.4 767.8C1477.4 764.5 1477.9 760.9 1478.9 758.1C1479.8 755.2 1481.4 752.6 1483 750.9C1484.6 749.3 1486.7 748.3 1488.6 748.3C1490.5 748.3 1492.6 749.3 1494.2 750.9C1495.8 752.6 1497.4 755.2 1498.3 758.1C1499.3 760.9 1499.8 764.5 1499.8 767.8Z"/>
<path d="M1498.6 767.7C1498.6 770.5 1498.1 773.8 1497.3 776.3C1496.4 778.8 1495 781.2 1493.6 782.6C1492.2 784.1 1490.3 785 1488.6 785C1486.9 785 1485 784.1 1483.6 782.6C1482.2 781.2 1480.8 778.8 1479.9 776.3C1479.1 773.8 1478.6 770.5 1478.6 767.7C1478.6 764.8 1479.1 761.5 1479.9 759C1480.8 756.5 1482.2 754.1 1483.6 752.7C1485 751.3 1486.9 750.4 1488.6 750.4C1490.3 750.4 1492.2 751.3 1493.6 752.7C1495 754.1 1496.4 756.5 1497.3 759C1498.1 761.5 1498.6 764.8 1498.6 767.7Z"/>
<path d="M1497.4 767.6C1497.4 770.1 1496.9 773 1496.2 775.2C1495.5 777.3 1494.2 779.4 1493 780.7C1491.7 782 1490.1 782.7 1488.6 782.7C1487.1 782.7 1485.5 782 1484.2 780.7C1483 779.4 1481.7 777.3 1481 775.2C1480.3 773 1479.8 770.1 1479.8 767.6C1479.8 765 1480.3 762.2 1481 760C1481.7 757.8 1483 755.7 1484.2 754.4C1485.5 753.2 1487.1 752.4 1488.6 752.4C1490.1 752.4 1491.7 753.2 1493 754.4C1494.2 755.7 1495.5 757.8 1496.2 760C1496.9 762.2 1497.4 765 1497.4 767.6Z"/>
<path d="M1496.1 767.5C1496.1 769.6 1495.7 772.1 1495.1 774C1494.5 775.9 1493.4 777.7 1492.4 778.8C1491.3 779.8 1489.9 780.5 1488.6 780.5C1487.3 780.5 1485.9 779.8 1484.8 778.8C1483.8 777.7 1482.7 775.9 1482.1 774C1481.5 772.1 1481.1 769.6 1481.1 767.5C1481.1 765.3 1481.5 762.8 1482.1 761C1482.7 759.1 1483.8 757.3 1484.8 756.2C1485.9 755.1 1487.3 754.5 1488.6 754.5C1489.9 754.5 1491.3 755.1 1492.4 756.2C1493.4 757.3 1494.5 759.1 1495.1 761C1495.7 762.8 1496.1 765.3 1496.1 767.5Z"/>
<path d="M1494.9 767.4C1494.9 769.2 1494.6 771.3 1494.1 772.8C1493.5 774.4 1492.7 775.9 1491.7 776.8C1490.8 777.7 1489.6 778.3 1488.6 778.3C1487.6 778.3 1486.4 777.7 1485.5 776.8C1484.5 775.9 1483.7 774.4 1483.1 772.8C1482.6 771.3 1482.3 769.2 1482.3 767.4C1482.3 765.6 1482.6 763.5 1483.1 761.9C1483.7 760.4 1484.5 758.9 1485.5 757.9C1486.4 757 1487.6 756.5 1488.6 756.5C1489.6 756.5 1490.8 757 1491.7 757.9C1492.7 758.9 1493.5 760.4 1494.1 761.9C1494.6 763.5 1494.9 765.6 1494.9 767.4Z"/>
<path d="M1493.7 767.3C1493.7 768.8 1493.4 770.4 1493 771.7C1492.6 772.9 1491.9 774.1 1491.1 774.9C1490.4 775.6 1489.4 776.1 1488.6 776.1C1487.8 776.1 1486.8 775.6 1486.1 774.9C1485.3 774.1 1484.6 772.9 1484.2 771.7C1483.8 770.4 1483.5 768.8 1483.5 767.3C1483.5 765.8 1483.8 764.2 1484.2 762.9C1484.6 761.6 1485.3 760.4 1486.1 759.7C1486.8 759 1487.8 758.5 1488.6 758.5C1489.4 758.5 1490.4 759 1491.1 759.7C1491.9 760.4 1492.6 761.6 1493 762.9C1493.4 764.2 1493.7 765.8 1493.7 767.3Z"/>
<path d="M1492.4 767.2C1492.4 768.3 1492.2 769.6 1491.9 770.5C1491.6 771.5 1491.1 772.4 1490.5 772.9C1490 773.5 1489.2 773.8 1488.6 773.8C1488 773.8 1487.2 773.5 1486.7 772.9C1486.1 772.4 1485.6 771.5 1485.3 770.5C1485 769.6 1484.8 768.3 1484.8 767.2C1484.8 766.1 1485 764.8 1485.3 763.9C1485.6 762.9 1486.1 762 1486.7 761.5C1487.2 760.9 1488 760.6 1488.6 760.6C1489.2 760.6 1490 760.9 1490.5 761.5C1491.1 762 1491.6 762.9 1491.9 763.9C1492.2 764.8 1492.4 766.1 1492.4 767.2Z"/>
<path d="M1491.2 767.1C1491.2 767.9 1491.1 768.7 1490.9 769.4C1490.6 770 1490.3 770.6 1489.9 771C1489.5 771.4 1489 771.6 1488.6 771.6C1488.2 771.6 1487.7 771.4 1487.3 771C1486.9 770.6 1486.6 770 1486.3 769.4C1486.1 768.7 1486 767.9 1486 767.1C1486 766.4 1486.1 765.5 1486.3 764.9C1486.6 764.2 1486.9 763.6 1487.3 763.2C1487.7 762.8 1488.2 762.6 1488.6 762.6C1489 762.6 1489.5 762.8 1489.9 763.2C1490.3 763.6 1490.6 764.2 1490.9 764.9C1491.1 765.5 1491.2 766.4 1491.2 767.1Z"/>
</g>
<ellipse cx="1488.6" cy="764.9" rx="1.6" ry="5" fill="#eee"/>
<path d="M1544.7 766h.1M1567.3 809.5h.1M1559.9 762.4h.1M1550 762.5h.1M1544.4 810.9h.1M1526.4 731.6h.1M1575 779.4h.1M1528.1 747.2h.1M1551.7 787.1h.1M1572.3 799.6h.1M1527.6 807.2h.1M1523.1 742.6h.1M1522.4 810.9h.1M1546.6 708h.1M1648.6 781.7h.1M1532.2 749.7h.1M1558.4 735.3h.1M1552.8 707.7h.1M1542.4 791.7h.1M1552.8 754.9h.1M1560 764.2h.1M1583.7 810.9h.1M1539 735.9h.1M1570.7 767.7h.1M1521.5 737.9h.1M1518.5 769.6h.1M1533.6 763.7h.1M1525 790.8h.1M1620.8 766.5h.1M1524.3 752.8h.1M1522.1 763.6h.1M1525.2 762.1h.1M1565.8 769.6h.1M1564.7 802.6h.1M1578 778.3h.1M1641.8 772.5h.1M1536.5 803.8h.1M1520 751.9h.1M1528.5 804.1h.1M1519.1 810.9h.1M1576.2 772.4h.1M1524.8 731.5h.1M1545.9 730.1h.1M1583.8 741.3h.1M1533.7 707.5h.1M1561.5 773.4h.1M1525.8 742.9h.1M1604.5 810.9h.1M1569.8 747.6h.1M1553.3 779.7h.1M1558.7 770.9h.1M1578.9 746.1h.1M1525.5 752.9h.1M1522.4 742.5h.1M1581.1 788.7h.1M1521.2 810.9h.1M1523.4 730.4h.1M1530.5 776.4h.1M1540.4 733.3h.1M1555.4 694.9h.1M1590.7 797.8h.1M1527.3 720.6h.1M1531.4 750.6h.1M1529.8 735.8h.1M1557.9 740.1h.1M1583.2 730.7h.1M1564.2 757.3h.1M1556.8 800.6h.1M1625.7 702h.1M1516.3 715.1h.1M1553.5 758.3h.1M1572.1 756.7h.1M1554 738.9h.1M1540.4 736.4h.1M1556 701.6h.1M1567.5 782.5h.1M1567.7 810.9h.1M1564.6 810.9h.1M1525.4 761.1h.1M1561.1 726.7h.1M1551.7 715.8h.1M1555.3 779.4h.1M1560.6 800.1h.1M1565.1 770.1h.1M1564.9 784.8h.1M1604.9 778.3h.1M1547.5 723.5h.1M1530.1 781.9h.1M1534.3 795.8h.1M1519.8 719.8h.1M1546.7 778.2h.1M1545.6 754.9h.1M1534.9 793.5h.1M1575.7 736.7h.1M1552 759.3h.1M1583 748.6h.1M1560.1 753.4h.1M1525.6 797.7h.1M1549.9 739.8h.1M1531.2 692.5h.1M1616.6 774.8h.1M1524.9 752.9h.1M1527.3 734.8h.1M1533.1 756.4h.1M1558.9 763.7h.1M1563.8 783.7h.1M1552.6 709h.1M1557.5 697.4h.1M1517.9 767.8h.1M1613.9 758.5h.1M1536.9 805.2h.1M1550.5 782.9h.1M1586.9 698.1h.1M1519 770.3h.1M1557.9 759.5h.1M1540.1 784.3h.1M1542 703.1h.1M1530.9 808.9h.1M1548.2 710.3h.1M1531.7 795.9h.1" stroke="#222" stroke-width="1.05" stroke-linecap="square" fill="none"/>
<path d="M1571.5 810.6h.1M1554 805.1h.1M1557.3 811.1h.1M1526.4 809.7h.1M1548.4 805.7h.1M1587 808.1h.1M1583.3 805.4h.1M1533.5 807.3h.1M1571.5 805.1h.1M1572.4 805.6h.1M1522.1 805.4h.1M1559.4 810.9h.1M1593.9 805.8h.1M1547.9 809h.1M1569 808.2h.1M1534.3 805.7h.1M1532.8 811.4h.1M1579.1 810.8h.1M1524.5 807.7h.1M1569.4 810.8h.1M1551.9 809.2h.1M1563.9 809.8h.1" stroke="#222" stroke-width="1.05" stroke-linecap="square" fill="none"/>
<path d="M1510.2 675.1h.1M1505.6 676.7h.1M1496.4 674.5h.1M1475.2 679.4h.1M1497.2 677.6h.1M1474.1 677.7h.1M1487.1 677.7h.1M1482.4 677.1h.1" stroke="#222" stroke-width="1.05" stroke-linecap="square" fill="none"/>
<g fill="#000" fill-opacity="0.02" stroke="#666" stroke-width="0.75">
<path d="M1488.6 989.6C1494.1 989.8 1501.6 992.9 1505.6 996.6C1509.6 1000.3 1511.1 1006.1 1512.6 1011.6C1514.1 1017.1 1513.6 1022.9 1514.6 1029.6C1515.6 1036.3 1517.6 1043.9 1518.6 1051.6C1519.6 1059.3 1520.8 1066.9 1520.6 1075.6C1520.4 1084.3 1519.8 1096.4 1517.6 1103.6C1515.4 1110.8 1512.4 1115.5 1507.6 1118.9C1502.8 1122.3 1494.9 1123.9 1488.6 1123.9C1482.3 1123.9 1474.4 1122.3 1469.6 1118.9C1464.8 1115.5 1461.6 1110.8 1459.6 1103.6C1457.6 1096.4 1457.3 1084.3 1457.6 1075.6C1457.9 1066.9 1460.1 1059.3 1461.6 1051.6C1463.1 1043.9 1465.9 1036.6 1466.6 1029.6C1467.3 1022.6 1464.6 1015.3 1465.6 1009.6C1466.6 1003.9 1468.8 998.9 1472.6 995.6C1476.4 992.3 1483.1 989.4 1488.6 989.6Z"/>
<path d="M1488.6 993.1C1493.8 993.3 1501 996.3 1504.8 999.8C1508.5 1003.3 1510 1008.8 1511.4 1014C1512.8 1019.3 1512.3 1024.8 1513.3 1031.1C1514.2 1037.5 1516.1 1044.8 1517.1 1052C1518 1059.3 1519.2 1066.6 1519 1074.8C1518.8 1083.1 1518.2 1094.6 1516.1 1101.4C1514.1 1108.3 1511.2 1112.8 1506.6 1116C1502.1 1119.2 1494.6 1120.7 1488.6 1120.7C1482.6 1120.7 1475.1 1119.2 1470.5 1116C1466 1112.8 1463 1108.3 1461 1101.4C1459.1 1094.6 1458.8 1083.1 1459.1 1074.8C1459.5 1066.6 1461.5 1059.3 1462.9 1052C1464.4 1044.8 1467.1 1037.8 1467.7 1031.1C1468.3 1024.5 1465.8 1017.5 1466.8 1012.1C1467.7 1006.8 1469.8 1002 1473.4 998.8C1477 995.7 1483.4 993 1488.6 993.1Z"/>
<path d="M1488.6 996.7C1493.5 996.8 1500.3 999.7 1503.9 1003C1507.5 1006.3 1508.8 1011.5 1510.2 1016.5C1511.5 1021.4 1511.1 1026.7 1512 1032.7C1512.9 1038.7 1514.7 1045.6 1515.6 1052.5C1516.5 1059.4 1517.5 1066.3 1517.4 1074.1C1517.2 1081.9 1516.6 1092.8 1514.7 1099.3C1512.7 1105.8 1510 1110 1505.7 1113C1501.3 1116.1 1494.3 1117.5 1488.6 1117.5C1482.9 1117.5 1475.8 1116.1 1471.5 1113C1467.2 1110 1464.3 1105.8 1462.5 1099.3C1460.7 1092.8 1460.4 1081.9 1460.7 1074.1C1461 1066.3 1462.9 1059.4 1464.3 1052.5C1465.7 1045.6 1468.2 1039 1468.8 1032.7C1469.4 1026.4 1467 1019.8 1467.9 1014.7C1468.8 1009.6 1470.7 1005.1 1474.2 1002.1C1477.6 999.1 1483.6 996.5 1488.6 996.7Z"/>
<path d="M1488.6 1000.2C1493.3 1000.3 1499.6 1003 1503 1006.2C1506.5 1009.3 1507.7 1014.2 1509 1018.9C1510.3 1023.6 1509.8 1028.5 1510.7 1034.2C1511.5 1039.9 1513.2 1046.4 1514.1 1052.9C1514.9 1059.4 1515.9 1065.9 1515.8 1073.3C1515.7 1080.7 1515.1 1091 1513.2 1097.1C1511.4 1103.2 1508.9 1107.2 1504.8 1110.1C1500.6 1113 1494 1114.4 1488.6 1114.4C1483.2 1114.4 1476.6 1113 1472.4 1110.1C1468.3 1107.2 1465.6 1103.2 1463.9 1097.1C1462.2 1091 1462 1080.7 1462.2 1073.3C1462.5 1065.9 1464.4 1059.4 1465.6 1052.9C1466.9 1046.4 1469.3 1040.2 1469.9 1034.2C1470.5 1028.3 1468.2 1022 1469 1017.2C1469.9 1012.4 1471.7 1008.1 1475 1005.3C1478.3 1002.5 1483.9 1000.1 1488.6 1000.2Z"/>
<path d="M1488.6 1003.7C1493 1003.9 1499 1006.4 1502.2 1009.3C1505.4 1012.3 1506.6 1016.9 1507.8 1021.3C1509 1025.7 1508.6 1030.4 1509.4 1035.7C1510.2 1041.1 1511.8 1047.2 1512.6 1053.3C1513.4 1059.5 1514.3 1065.6 1514.2 1072.5C1514.1 1079.5 1513.5 1089.2 1511.8 1094.9C1510.1 1100.7 1507.7 1104.5 1503.8 1107.2C1499.9 1109.9 1493.7 1111.2 1488.6 1111.2C1483.5 1111.2 1477.3 1109.9 1473.4 1107.2C1469.5 1104.5 1467 1100.7 1465.4 1094.9C1463.8 1089.2 1463.5 1079.5 1463.8 1072.5C1464.1 1065.6 1465.8 1059.5 1467 1053.3C1468.2 1047.2 1470.5 1041.3 1471 1035.7C1471.5 1030.1 1469.4 1024.3 1470.2 1019.7C1471 1015.2 1472.7 1011.2 1475.8 1008.5C1478.9 1005.9 1484.2 1003.6 1488.6 1003.7Z"/>
</g>
<g fill="#000" fill-opacity="0.025" stroke="#666" stroke-width="0.7">
<path d="M1506.1 1014.7C1506.1 1017.3 1505.2 1020.2 1503.8 1022.4C1502.4 1024.7 1500.1 1026.8 1497.6 1028.1C1495.1 1029.4 1491.9 1030.2 1489.1 1030.2C1486.3 1030.2 1483.1 1029.4 1480.6 1028.1C1478.1 1026.8 1475.8 1024.7 1474.4 1022.4C1473 1020.2 1472.1 1017.3 1472.1 1014.7C1472.1 1012.1 1473 1009.2 1474.4 1006.9C1475.8 1004.7 1478.1 1002.6 1480.6 1001.3C1483.1 1000 1486.3 999.2 1489.1 999.2C1491.9 999.2 1495.1 1000 1497.6 1001.3C1500.1 1002.6 1502.4 1004.7 1503.8 1006.9C1505.2 1009.2 1506.1 1012.1 1506.1 1014.7Z"/>
<path d="M1504.1 1014.7C1504.1 1017 1503.3 1019.6 1502.1 1021.5C1500.8 1023.5 1498.7 1025.4 1496.6 1026.5C1494.4 1027.6 1491.6 1028.3 1489.1 1028.3C1486.6 1028.3 1483.8 1027.6 1481.6 1026.5C1479.5 1025.4 1477.4 1023.5 1476.1 1021.5C1474.9 1019.6 1474.1 1017 1474.1 1014.7C1474.1 1012.4 1474.9 1009.8 1476.1 1007.9C1477.4 1005.9 1479.5 1004 1481.6 1002.9C1483.8 1001.8 1486.6 1001.1 1489.1 1001.1C1491.6 1001.1 1494.4 1001.8 1496.6 1002.9C1498.7 1004 1500.8 1005.9 1502.1 1007.9C1503.3 1009.8 1504.1 1012.4 1504.1 1014.7Z"/>
<path d="M1502 1014.7C1502 1016.7 1501.4 1018.9 1500.3 1020.6C1499.2 1022.3 1497.4 1023.9 1495.6 1024.9C1493.7 1025.9 1491.3 1026.5 1489.1 1026.5C1486.9 1026.5 1484.5 1025.9 1482.6 1024.9C1480.8 1023.9 1479 1022.3 1477.9 1020.6C1476.8 1018.9 1476.2 1016.7 1476.2 1014.7C1476.2 1012.7 1476.8 1010.5 1477.9 1008.8C1479 1007.1 1480.8 1005.5 1482.6 1004.5C1484.5 1003.5 1486.9 1002.9 1489.1 1002.9C1491.3 1002.9 1493.7 1003.5 1495.6 1004.5C1497.4 1005.5 1499.2 1007.1 1500.3 1008.8C1501.4 1010.5 1502 1012.7 1502 1014.7Z"/>
<path d="M1500 1014.7C1500 1016.4 1499.4 1018.2 1498.5 1019.7C1497.6 1021.1 1496.1 1022.5 1494.5 1023.3C1493 1024.1 1490.9 1024.6 1489.1 1024.6C1487.3 1024.6 1485.2 1024.1 1483.7 1023.3C1482.1 1022.5 1480.6 1021.1 1479.7 1019.7C1478.8 1018.2 1478.2 1016.4 1478.2 1014.7C1478.2 1013 1478.8 1011.2 1479.7 1009.7C1480.6 1008.3 1482.1 1006.9 1483.7 1006.1C1485.2 1005.3 1487.3 1004.8 1489.1 1004.8C1490.9 1004.8 1493 1005.3 1494.5 1006.1C1496.1 1006.9 1497.6 1008.3 1498.5 1009.7C1499.4 1011.2 1500 1013 1500 1014.7Z"/>
<path d="M1497.9 1014.7C1497.9 1016 1497.5 1017.6 1496.8 1018.7C1496 1019.9 1494.8 1021 1493.5 1021.7C1492.2 1022.4 1490.6 1022.8 1489.1 1022.8C1487.6 1022.8 1486 1022.4 1484.7 1021.7C1483.4 1021 1482.2 1019.9 1481.4 1018.7C1480.7 1017.6 1480.3 1016 1480.3 1014.7C1480.3 1013.4 1480.7 1011.8 1481.4 1010.7C1482.2 1009.5 1483.4 1008.4 1484.7 1007.7C1486 1007 1487.6 1006.6 1489.1 1006.6C1490.6 1006.6 1492.2 1007 1493.5 1007.7C1494.8 1008.4 1496 1009.5 1496.8 1010.7C1497.5 1011.8 1497.9 1013.4 1497.9 1014.7Z"/>
<path d="M1495.9 1014.7C1495.9 1015.7 1495.6 1016.9 1495 1017.8C1494.4 1018.7 1493.5 1019.6 1492.5 1020.1C1491.5 1020.6 1490.2 1020.9 1489.1 1020.9C1488 1020.9 1486.7 1020.6 1485.7 1020.1C1484.7 1019.6 1483.8 1018.7 1483.2 1017.8C1482.6 1016.9 1482.3 1015.7 1482.3 1014.7C1482.3 1013.7 1482.6 1012.5 1483.2 1011.6C1483.8 1010.7 1484.7 1009.8 1485.7 1009.3C1486.7 1008.8 1488 1008.5 1489.1 1008.5C1490.2 1008.5 1491.5 1008.8 1492.5 1009.3C1493.5 1009.8 1494.4 1010.7 1495 1011.6C1495.6 1012.5 1495.9 1013.7 1495.9 1014.7Z"/>
<path d="M1493.9 1014.7C1493.9 1015.4 1493.6 1016.2 1493.2 1016.9C1492.8 1017.5 1492.2 1018.1 1491.5 1018.5C1490.8 1018.8 1489.9 1019 1489.1 1019C1488.3 1019 1487.4 1018.8 1486.7 1018.5C1486 1018.1 1485.4 1017.5 1485 1016.9C1484.6 1016.2 1484.3 1015.4 1484.3 1014.7C1484.3 1014 1484.6 1013.2 1485 1012.5C1485.4 1011.9 1486 1011.3 1486.7 1010.9C1487.4 1010.6 1488.3 1010.4 1489.1 1010.4C1489.9 1010.4 1490.8 1010.6 1491.5 1010.9C1492.2 1011.3 1492.8 1011.9 1493.2 1012.5C1493.6 1013.2 1493.9 1014 1493.9 1014.7Z"/>
</g>
<ellipse cx="1489.1" cy="1014.7" rx="4" ry="4.6" fill="#fff" stroke="#555" stroke-width="0.7"/>
<g fill="#000" fill-opacity="0.08" stroke="#262626" stroke-width="0.8">
<path d="M1514.6 1076.3C1514.6 1083.8 1513.3 1092.3 1511.1 1098.8C1508.9 1105.3 1505.4 1111.5 1501.6 1115.3C1497.8 1119 1492.9 1121.3 1488.6 1121.3C1484.3 1121.3 1479.4 1119 1475.6 1115.3C1471.8 1111.5 1468.3 1105.3 1466.1 1098.8C1463.9 1092.3 1462.6 1083.8 1462.6 1076.3C1462.6 1068.8 1463.9 1060.3 1466.1 1053.8C1468.3 1047.3 1471.8 1041.1 1475.6 1037.3C1479.4 1033.6 1484.3 1031.3 1488.6 1031.3C1492.9 1031.3 1497.8 1033.6 1501.6 1037.3C1505.4 1041.1 1508.9 1047.3 1511.1 1053.8C1513.3 1060.3 1514.6 1068.8 1514.6 1076.3Z"/>
<path d="M1513.4 1076.2C1513.4 1083.3 1512.1 1091.5 1510.1 1097.6C1508 1103.8 1504.6 1109.8 1501 1113.3C1497.4 1116.9 1492.7 1119.1 1488.6 1119.1C1484.5 1119.1 1479.8 1116.9 1476.2 1113.3C1472.6 1109.8 1469.2 1103.8 1467.1 1097.6C1465.1 1091.5 1463.8 1083.3 1463.8 1076.2C1463.8 1069.1 1465.1 1061 1467.1 1054.8C1469.2 1048.6 1472.6 1042.7 1476.2 1039.1C1479.8 1035.5 1484.5 1033.3 1488.6 1033.3C1492.7 1033.3 1497.4 1035.5 1501 1039.1C1504.6 1042.7 1508 1048.6 1510.1 1054.8C1512.1 1061 1513.4 1069.1 1513.4 1076.2Z"/>
<path d="M1512.1 1076.1C1512.1 1082.9 1510.9 1090.6 1509 1096.5C1507 1102.4 1503.8 1108 1500.4 1111.4C1497 1114.8 1492.5 1116.8 1488.6 1116.8C1484.7 1116.8 1480.2 1114.8 1476.8 1111.4C1473.4 1108 1470.2 1102.4 1468.2 1096.5C1466.3 1090.6 1465.1 1082.9 1465.1 1076.1C1465.1 1069.3 1466.3 1061.6 1468.2 1055.7C1470.2 1049.9 1473.4 1044.2 1476.8 1040.8C1480.2 1037.4 1484.7 1035.4 1488.6 1035.4C1492.5 1035.4 1497 1037.4 1500.4 1040.8C1503.8 1044.2 1507 1049.9 1509 1055.7C1510.9 1061.6 1512.1 1069.3 1512.1 1076.1Z"/>
<path d="M1510.9 1076C1510.9 1082.5 1509.8 1089.7 1507.9 1095.3C1506.1 1100.9 1503 1106.2 1499.8 1109.4C1496.5 1112.7 1492.3 1114.6 1488.6 1114.6C1484.9 1114.6 1480.7 1112.7 1477.4 1109.4C1474.2 1106.2 1471.1 1100.9 1469.3 1095.3C1467.4 1089.7 1466.3 1082.5 1466.3 1076C1466.3 1069.6 1467.4 1062.3 1469.3 1056.7C1471.1 1051.1 1474.2 1045.8 1477.4 1042.6C1480.7 1039.4 1484.9 1037.4 1488.6 1037.4C1492.3 1037.4 1496.5 1039.4 1499.8 1042.6C1503 1045.8 1506.1 1051.1 1507.9 1056.7C1509.8 1062.3 1510.9 1069.6 1510.9 1076Z"/>
<path d="M1509.7 1075.9C1509.7 1082 1508.6 1088.9 1506.9 1094.2C1505.1 1099.4 1502.2 1104.5 1499.1 1107.5C1496.1 1110.5 1492.1 1112.4 1488.6 1112.4C1485.1 1112.4 1481.1 1110.5 1478.1 1107.5C1475 1104.5 1472.1 1099.4 1470.3 1094.2C1468.6 1088.9 1467.5 1082 1467.5 1075.9C1467.5 1069.8 1468.6 1062.9 1470.3 1057.7C1472.1 1052.4 1475 1047.4 1478.1 1044.3C1481.1 1041.3 1485.1 1039.4 1488.6 1039.4C1492.1 1039.4 1496.1 1041.3 1499.1 1044.3C1502.2 1047.4 1505.1 1052.4 1506.9 1057.7C1508.6 1062.9 1509.7 1069.8 1509.7 1075.9Z"/>
<path d="M1508.4 1075.8C1508.4 1081.5 1507.4 1088 1505.8 1093C1504.1 1098 1501.4 1102.7 1498.5 1105.6C1495.7 1108.4 1491.9 1110.2 1488.6 1110.2C1485.3 1110.2 1481.5 1108.4 1478.7 1105.6C1475.8 1102.7 1473.1 1098 1471.4 1093C1469.8 1088 1468.8 1081.5 1468.8 1075.8C1468.8 1070.1 1469.8 1063.6 1471.4 1058.7C1473.1 1053.7 1475.8 1048.9 1478.7 1046.1C1481.5 1043.2 1485.3 1041.5 1488.6 1041.5C1491.9 1041.5 1495.7 1043.2 1498.5 1046.1C1501.4 1048.9 1504.1 1053.7 1505.8 1058.7C1507.4 1063.6 1508.4 1070.1 1508.4 1075.8Z"/>
<path d="M1507.2 1075.7C1507.2 1081.1 1506.3 1087.2 1504.7 1091.8C1503.2 1096.5 1500.6 1100.9 1497.9 1103.6C1495.2 1106.3 1491.7 1107.9 1488.6 1107.9C1485.5 1107.9 1482 1106.3 1479.3 1103.6C1476.6 1100.9 1474 1096.5 1472.5 1091.8C1470.9 1087.2 1470 1081.1 1470 1075.7C1470 1070.4 1470.9 1064.3 1472.5 1059.6C1474 1055 1476.6 1050.5 1479.3 1047.8C1482 1045.2 1485.5 1043.5 1488.6 1043.5C1491.7 1043.5 1495.2 1045.2 1497.9 1047.8C1500.6 1050.5 1503.2 1055 1504.7 1059.6C1506.3 1064.3 1507.2 1070.4 1507.2 1075.7Z"/>
<path d="M1506 1075.6C1506 1080.7 1505.1 1086.3 1503.7 1090.7C1502.2 1095 1499.8 1099.2 1497.3 1101.7C1494.8 1104.2 1491.5 1105.7 1488.6 1105.7C1485.7 1105.7 1482.4 1104.2 1479.9 1101.7C1477.4 1099.2 1475 1095 1473.5 1090.7C1472.1 1086.3 1471.2 1080.7 1471.2 1075.6C1471.2 1070.6 1472.1 1064.9 1473.5 1060.6C1475 1056.3 1477.4 1052.1 1479.9 1049.6C1482.4 1047.1 1485.7 1045.6 1488.6 1045.6C1491.5 1045.6 1494.8 1047.1 1497.3 1049.6C1499.8 1052.1 1502.2 1056.3 1503.7 1060.6C1505.1 1064.9 1506 1070.6 1506 1075.6Z"/>
<path d="M1504.7 1075.5C1504.7 1080.2 1503.9 1085.5 1502.6 1089.5C1501.2 1093.5 1499 1097.4 1496.7 1099.7C1494.3 1102.1 1491.3 1103.5 1488.6 1103.5C1485.9 1103.5 1482.9 1102.1 1480.5 1099.7C1478.2 1097.4 1476 1093.5 1474.6 1089.5C1473.3 1085.5 1472.5 1080.2 1472.5 1075.5C1472.5 1070.9 1473.3 1065.6 1474.6 1061.6C1476 1057.5 1478.2 1053.7 1480.5 1051.3C1482.9 1049 1485.9 1047.6 1488.6 1047.6C1491.3 1047.6 1494.3 1049 1496.7 1051.3C1499 1053.7 1501.2 1057.5 1502.6 1061.6C1503.9 1065.6 1504.7 1070.9 1504.7 1075.5Z"/>
<path d="M1503.5 1075.4C1503.5 1079.8 1502.8 1084.6 1501.5 1088.4C1500.3 1092.1 1498.2 1095.7 1496.1 1097.8C1493.9 1100 1491.1 1101.3 1488.6 1101.3C1486.1 1101.3 1483.3 1100 1481.1 1097.8C1479 1095.7 1476.9 1092.1 1475.7 1088.4C1474.4 1084.6 1473.7 1079.8 1473.7 1075.4C1473.7 1071.1 1474.4 1066.3 1475.7 1062.5C1476.9 1058.8 1479 1055.2 1481.1 1053.1C1483.3 1050.9 1486.1 1049.6 1488.6 1049.6C1491.1 1049.6 1493.9 1050.9 1496.1 1053.1C1498.2 1055.2 1500.3 1058.8 1501.5 1062.5C1502.8 1066.3 1503.5 1071.1 1503.5 1075.4Z"/>
<path d="M1502.3 1075.4C1502.3 1079.3 1501.6 1083.8 1500.5 1087.2C1499.3 1090.6 1497.4 1093.9 1495.4 1095.9C1493.5 1097.8 1490.9 1099 1488.6 1099C1486.3 1099 1483.7 1097.8 1481.8 1095.9C1479.8 1093.9 1477.9 1090.6 1476.7 1087.2C1475.6 1083.8 1474.9 1079.3 1474.9 1075.4C1474.9 1071.4 1475.6 1066.9 1476.7 1063.5C1477.9 1060.1 1479.8 1056.8 1481.8 1054.8C1483.7 1052.9 1486.3 1051.7 1488.6 1051.7C1490.9 1051.7 1493.5 1052.9 1495.4 1054.8C1497.4 1056.8 1499.3 1060.1 1500.5 1063.5C1501.6 1066.9 1502.3 1071.4 1502.3 1075.4Z"/>
<path d="M1501.1 1075.3C1501.1 1078.8 1500.4 1082.9 1499.4 1086C1498.3 1089.1 1496.6 1092.1 1494.8 1093.9C1493 1095.7 1490.7 1096.8 1488.6 1096.8C1486.5 1096.8 1484.2 1095.7 1482.4 1093.9C1480.6 1092.1 1478.9 1089.1 1477.8 1086C1476.8 1082.9 1476.1 1078.8 1476.1 1075.3C1476.1 1071.7 1476.8 1067.6 1477.8 1064.5C1478.9 1061.4 1480.6 1058.4 1482.4 1056.6C1484.2 1054.8 1486.5 1053.7 1488.6 1053.7C1490.7 1053.7 1493 1054.8 1494.8 1056.6C1496.6 1058.4 1498.3 1061.4 1499.4 1064.5C1500.4 1067.6 1501.1 1071.7 1501.1 1075.3Z"/>
<path d="M1499.8 1075.2C1499.8 1078.4 1499.3 1082.1 1498.3 1084.9C1497.4 1087.7 1495.8 1090.4 1494.2 1092C1492.6 1093.6 1490.5 1094.6 1488.6 1094.6C1486.7 1094.6 1484.6 1093.6 1483 1092C1481.4 1090.4 1479.8 1087.7 1478.9 1084.9C1477.9 1082.1 1477.4 1078.4 1477.4 1075.2C1477.4 1071.9 1477.9 1068.3 1478.9 1065.5C1479.8 1062.6 1481.4 1060 1483 1058.3C1484.6 1056.7 1486.7 1055.7 1488.6 1055.7C1490.5 1055.7 1492.6 1056.7 1494.2 1058.3C1495.8 1060 1497.4 1062.6 1498.3 1065.5C1499.3 1068.3 1499.8 1071.9 1499.8 1075.2Z"/>
<path d="M1498.6 1075.1C1498.6 1077.9 1498.1 1081.2 1497.3 1083.7C1496.4 1086.2 1495 1088.6 1493.6 1090C1492.2 1091.5 1490.3 1092.4 1488.6 1092.4C1486.9 1092.4 1485 1091.5 1483.6 1090C1482.2 1088.6 1480.8 1086.2 1479.9 1083.7C1479.1 1081.2 1478.6 1077.9 1478.6 1075.1C1478.6 1072.2 1479.1 1068.9 1479.9 1066.4C1480.8 1063.9 1482.2 1061.5 1483.6 1060.1C1485 1058.7 1486.9 1057.8 1488.6 1057.8C1490.3 1057.8 1492.2 1058.7 1493.6 1060.1C1495 1061.5 1496.4 1063.9 1497.3 1066.4C1498.1 1068.9 1498.6 1072.2 1498.6 1075.1Z"/>
<path d="M1497.4 1075C1497.4 1077.5 1496.9 1080.4 1496.2 1082.6C1495.5 1084.7 1494.2 1086.8 1493 1088.1C1491.7 1089.4 1490.1 1090.1 1488.6 1090.1C1487.1 1090.1 1485.5 1089.4 1484.2 1088.1C1483 1086.8 1481.7 1084.7 1481 1082.6C1480.3 1080.4 1479.8 1077.5 1479.8 1075C1479.8 1072.4 1480.3 1069.6 1481 1067.4C1481.7 1065.2 1483 1063.1 1484.2 1061.8C1485.5 1060.6 1487.1 1059.8 1488.6 1059.8C1490.1 1059.8 1491.7 1060.6 1493 1061.8C1494.2 1063.1 1495.5 1065.2 1496.2 1067.4C1496.9 1069.6 1497.4 1072.4 1497.4 1075Z"/>
<path d="M1496.1 1074.9C1496.1 1077 1495.7 1079.5 1495.1 1081.4C1494.5 1083.3 1493.4 1085.1 1492.4 1086.2C1491.3 1087.2 1489.9 1087.9 1488.6 1087.9C1487.3 1087.9 1485.9 1087.2 1484.8 1086.2C1483.8 1085.1 1482.7 1083.3 1482.1 1081.4C1481.5 1079.5 1481.1 1077 1481.1 1074.9C1481.1 1072.7 1481.5 1070.2 1482.1 1068.4C1482.7 1066.5 1483.8 1064.7 1484.8 1063.6C1485.9 1062.5 1487.3 1061.9 1488.6 1061.9C1489.9 1061.9 1491.3 1062.5 1492.4 1063.6C1493.4 1064.7 1494.5 1066.5 1495.1 1068.4C1495.7 1070.2 1496.1 1072.7 1496.1 1074.9Z"/>
<path d="M1494.9 1074.8C1494.9 1076.6 1494.6 1078.7 1494.1 1080.2C1493.5 1081.8 1492.7 1083.3 1491.7 1084.2C1490.8 1085.1 1489.6 1085.7 1488.6 1085.7C1487.6 1085.7 1486.4 1085.1 1485.5 1084.2C1484.5 1083.3 1483.7 1081.8 1483.1 1080.2C1482.6 1078.7 1482.3 1076.6 1482.3 1074.8C1482.3 1073 1482.6 1070.9 1483.1 1069.3C1483.7 1067.8 1484.5 1066.3 1485.5 1065.3C1486.4 1064.4 1487.6 1063.9 1488.6 1063.9C1489.6 1063.9 1490.8 1064.4 1491.7 1065.3C1492.7 1066.3 1493.5 1067.8 1494.1 1069.3C1494.6 1070.9 1494.9 1073 1494.9 1074.8Z"/>
<path d="M1493.7 1074.7C1493.7 1076.1 1493.4 1077.8 1493 1079.1C1492.6 1080.3 1491.9 1081.5 1491.1 1082.3C1490.4 1083 1489.4 1083.5 1488.6 1083.5C1487.8 1083.5 1486.8 1083 1486.1 1082.3C1485.3 1081.5 1484.6 1080.3 1484.2 1079.1C1483.8 1077.8 1483.5 1076.1 1483.5 1074.7C1483.5 1073.2 1483.8 1071.6 1484.2 1070.3C1484.6 1069 1485.3 1067.8 1486.1 1067.1C1486.8 1066.4 1487.8 1065.9 1488.6 1065.9C1489.4 1065.9 1490.4 1066.4 1491.1 1067.1C1491.9 1067.8 1492.6 1069 1493 1070.3C1493.4 1071.6 1493.7 1073.2 1493.7 1074.7Z"/>
<path d="M1492.4 1074.6C1492.4 1075.7 1492.2 1077 1491.9 1077.9C1491.6 1078.9 1491.1 1079.8 1490.5 1080.3C1490 1080.9 1489.2 1081.2 1488.6 1081.2C1488 1081.2 1487.2 1080.9 1486.7 1080.3C1486.1 1079.8 1485.6 1078.9 1485.3 1077.9C1485 1077 1484.8 1075.7 1484.8 1074.6C1484.8 1073.5 1485 1072.2 1485.3 1071.3C1485.6 1070.3 1486.1 1069.4 1486.7 1068.9C1487.2 1068.3 1488 1068 1488.6 1068C1489.2 1068 1490 1068.3 1490.5 1068.9C1491.1 1069.4 1491.6 1070.3 1491.9 1071.3C1492.2 1072.2 1492.4 1073.5 1492.4 1074.6Z"/>
<path d="M1491.2 1074.5C1491.2 1075.2 1491.1 1076.1 1490.9 1076.8C1490.6 1077.4 1490.3 1078 1489.9 1078.4C1489.5 1078.8 1489 1079 1488.6 1079C1488.2 1079 1487.7 1078.8 1487.3 1078.4C1486.9 1078 1486.6 1077.4 1486.3 1076.8C1486.1 1076.1 1486 1075.2 1486 1074.5C1486 1073.8 1486.1 1072.9 1486.3 1072.2C1486.6 1071.6 1486.9 1071 1487.3 1070.6C1487.7 1070.2 1488.2 1070 1488.6 1070C1489 1070 1489.5 1070.2 1489.9 1070.6C1490.3 1071 1490.6 1071.6 1490.9 1072.2C1491.1 1072.9 1491.2 1073.8 1491.2 1074.5Z"/>
</g>
<ellipse cx="1488.6" cy="1072.3" rx="1.6" ry="5" fill="#eee"/>
<path d="M1548 1076.9h.1M1531.8 1116.3h.1M1585.3 1075.4h.1M1552.7 1032.3h.1M1560.3 1050.5h.1M1529 1113.5h.1M1524.8 1087.8h.1M1546.9 1113.8h.1M1568.4 1073.3h.1M1543.3 1039.6h.1M1522.7 1009.9h.1M1522 1079h.1M1605.1 1050.7h.1M1534.1 1095.7h.1M1609.4 1106h.1M1588 1097.1h.1M1548.9 1064.4h.1M1542.9 1110.2h.1M1537.8 1105.1h.1M1573 1068h.1M1520.4 1064.8h.1M1553.1 1038h.1M1528.8 1062.8h.1M1518 1065.5h.1M1565 1066.8h.1M1561.4 1109.8h.1M1622.9 1034.5h.1M1524.1 1051h.1M1547.8 1042.8h.1M1642 1068.1h.1M1552.9 1058.8h.1M1522.2 1056h.1M1533.1 1082.2h.1M1527 1116.3h.1M1563.9 1038.3h.1M1530.1 1062.9h.1M1572.5 1056.4h.1M1535.1 1077.8h.1M1541.1 1044h.1M1518.1 1057.9h.1M1544.4 1032.8h.1M1569.7 1057.9h.1M1610.1 1076h.1M1565.9 1032.7h.1M1536.3 1076h.1M1540.4 1031.3h.1M1553.6 1087.2h.1M1517.8 1072.4h.1M1585.9 1046.8h.1M1526.6 1092.6h.1M1516.4 1066h.1M1523.1 1116.3h.1M1543.8 1014.7h.1M1550 1076.6h.1M1538.7 1086.4h.1M1569.5 1080.7h.1M1549.8 1076.1h.1M1571.9 1065.1h.1M1549.8 1099.2h.1M1519.1 1100.4h.1M1553.4 1087.8h.1M1592 1028.2h.1M1548.9 1019.5h.1M1520.3 1113.3h.1M1549.9 1051h.1M1530.6 1035.3h.1M1569.9 1035.3h.1M1559.7 1094h.1M1540.7 1050.2h.1M1528.3 1034.5h.1M1563.9 1001.2h.1M1579.2 1050.1h.1M1537.8 1091.9h.1M1556.1 1048.8h.1M1573.4 1058.7h.1M1527.5 1049.3h.1M1596.5 1076.3h.1M1540.3 1060.8h.1M1555.9 1022.1h.1M1560 1075.8h.1M1548.2 1113.2h.1M1602 1034.6h.1M1538.6 1092.4h.1M1559.3 1062.2h.1M1578.8 1002.7h.1M1523.5 1092.5h.1M1524.6 1059.7h.1M1534.2 1036.5h.1M1528 1051.5h.1M1549.5 1035h.1M1515.2 1067.5h.1M1553.8 1064.6h.1M1553.2 1078.8h.1M1525.3 1065.5h.1M1614.8 1073.6h.1M1523.2 1091.4h.1M1567.9 1066.3h.1M1525.7 1059.1h.1M1557.8 1071.8h.1M1533.2 1079.2h.1M1574.7 1095.5h.1M1517.2 1102.6h.1M1562.4 1093.9h.1M1580.9 1002.9h.1M1524.5 1110.8h.1M1571.4 1074.5h.1M1522.5 1110.2h.1M1597.5 1036.9h.1M1543.4 1062.5h.1M1547.7 1047.8h.1M1547.3 1067.1h.1M1590.9 1064.9h.1M1628.2 1115.1h.1M1529.8 1025.6h.1M1534.4 1077.8h.1M1567.3 1034.4h.1M1596 1027.7h.1M1526.1 1071.1h.1M1550.7 1028.2h.1M1517.4 1097.6h.1" stroke="#222" stroke-width="1.05" stroke-linecap="square" fill="none"/>
<path d="M1586.4 1113.8h.1M1608.1 1115.6h.1M1560.6 1111.5h.1M1574.5 1117.3h.1M1591.4 1111.6h.1M1531.6 1111.4h.1M1568.2 1110.8h.1M1605.3 1113.8h.1M1570.1 1114.9h.1M1558.2 1114.5h.1M1523.8 1116.9h.1M1613 1116.9h.1M1562.4 1110.8h.1M1529.3 1114.2h.1M1558.2 1114h.1M1594.9 1116.9h.1M1583.3 1115.6h.1M1576.1 1114.2h.1M1554 1112.4h.1M1610.9 1115.6h.1M1581.5 1110.6h.1M1594.8 1112.6h.1M1553.3 1113.2h.1M1591 1111.8h.1M1572.3 1110.8h.1M1590.2 1111.9h.1M1594.5 1112.2h.1M1567 1110.3h.1M1543.1 1110.6h.1M1538.2 1113.2h.1M1521.3 1113.5h.1M1530.6 1112.7h.1M1524 1113.5h.1M1556.1 1113.3h.1M1573.6 1111.1h.1M1604.8 1111.8h.1M1519.8 1115.4h.1M1597.4 1113.4h.1M1612.6 1114.4h.1M1541.6 1110.6h.1" stroke="#222" stroke-width="1.05" stroke-linecap="square" fill="none"/>
<path d="M1499.2 981.9h.1M1507.5 985.5h.1M1510.6 980.6h.1M1489.9 984.8h.1M1478.5 982.5h.1M1491 980.8h.1M1477.7 983.2h.1M1491.7 987.2h.1" stroke="#222" stroke-width="1.05" stroke-linecap="square" fill="none"/>
<g fill="#000" fill-opacity="0.0" stroke="#555" stroke-width="0.8">
<path d="M1487 1301.3C1492.5 1301 1499.3 1303.1 1505.2 1304.8C1511.1 1306.6 1516.9 1308.7 1522.3 1311.8C1527.7 1314.9 1530.8 1320.7 1537.6 1323.6C1544.4 1326.6 1555.6 1326.2 1563.4 1329.5C1571.2 1332.8 1579.5 1337.5 1584.6 1343.6C1589.7 1349.7 1592.8 1359.1 1594 1365.9C1595.2 1372.8 1594.2 1380.2 1591.7 1384.7C1589.2 1389.2 1583.6 1390.1 1578.7 1393C1573.8 1396 1567.8 1397.9 1562.3 1402.4C1556.8 1406.9 1552.1 1415.5 1545.8 1420C1539.5 1424.5 1531.4 1427.1 1524.6 1429.4C1517.8 1431.8 1512.5 1433.2 1505.2 1434.1C1498 1435 1488 1436.1 1481.1 1434.7C1474.1 1433.3 1467.7 1432.2 1463.5 1425.8C1459.3 1419.4 1456.9 1406.3 1455.9 1396.5C1454.9 1386.7 1456 1375.5 1457.6 1367.1C1459.2 1358.7 1464 1353.4 1465.3 1345.9C1466.6 1338.5 1464.2 1328.9 1465.3 1322.4C1466.4 1315.9 1468.4 1310.3 1472 1306.8C1475.6 1303.3 1481.5 1301.6 1487 1301.3Z"/>
<path d="M1487.5 1313.4C1492.3 1313.2 1498.2 1315 1503.3 1316.5C1508.4 1318 1513.5 1319.8 1518.2 1322.6C1522.8 1325.3 1525.5 1330.3 1531.5 1332.8C1537.4 1335.4 1547.1 1335.1 1553.9 1338C1560.7 1340.8 1567.9 1344.9 1572.3 1350.2C1576.7 1355.5 1579.4 1363.6 1580.5 1369.6C1581.5 1375.5 1580.7 1382 1578.5 1385.9C1576.3 1389.9 1571.4 1390.6 1567.2 1393.1C1562.9 1395.7 1557.7 1397.4 1552.9 1401.3C1548.2 1405.2 1544 1412.7 1538.6 1416.6C1533.1 1420.5 1526 1422.7 1520.2 1424.8C1514.3 1426.8 1509.6 1428.1 1503.3 1428.9C1497 1429.6 1488.4 1430.6 1482.3 1429.4C1476.3 1428.2 1470.7 1427.2 1467 1421.7C1463.4 1416.1 1461.3 1404.7 1460.4 1396.2C1459.6 1387.7 1460.6 1378 1461.9 1370.6C1463.3 1363.3 1467.5 1358.7 1468.6 1352.2C1469.7 1345.7 1467.6 1337.4 1468.6 1331.8C1469.6 1326.1 1471.3 1321.3 1474.4 1318.2C1477.6 1315.2 1482.7 1313.7 1487.5 1313.4Z"/>
<path d="M1487.7 1320C1492.1 1319.7 1497.6 1321.4 1502.3 1322.8C1507 1324.2 1511.6 1325.8 1515.9 1328.4C1520.2 1330.9 1522.7 1335.4 1528.1 1337.8C1533.6 1340.1 1542.5 1339.8 1548.8 1342.5C1555 1345.2 1561.6 1348.9 1565.7 1353.8C1569.8 1358.6 1572.3 1366.1 1573.2 1371.6C1574.2 1377 1573.4 1383 1571.4 1386.6C1569.3 1390.2 1564.9 1390.9 1561 1393.2C1557.1 1395.6 1552.3 1397.1 1547.9 1400.7C1543.5 1404.3 1539.7 1411.2 1534.7 1414.8C1529.7 1418.4 1523.2 1420.4 1517.8 1422.3C1512.4 1424.2 1508.1 1425.4 1502.3 1426.1C1496.5 1426.8 1488.6 1427.6 1483 1426.5C1477.5 1425.4 1472.3 1424.5 1468.9 1419.4C1465.6 1414.3 1463.7 1403.8 1462.9 1396C1462.1 1388.2 1463 1379.3 1464.2 1372.5C1465.5 1365.8 1469.4 1361.5 1470.4 1355.6C1471.4 1349.6 1469.5 1342 1470.4 1336.8C1471.3 1331.6 1472.9 1327.2 1475.7 1324.4C1478.6 1321.5 1483.3 1320.2 1487.7 1320Z"/>
<path d="M1487.9 1325.3C1492 1325 1497.1 1326.6 1501.4 1327.9C1505.8 1329.2 1510.1 1330.8 1514.1 1333.1C1518.1 1335.4 1520.4 1339.6 1525.4 1341.8C1530.5 1344 1538.8 1343.7 1544.6 1346.2C1550.4 1348.7 1556.5 1352.2 1560.3 1356.7C1564.1 1361.2 1566.4 1368.1 1567.3 1373.2C1568.1 1378.3 1567.4 1383.8 1565.6 1387.1C1563.7 1390.5 1559.6 1391.1 1555.9 1393.3C1552.3 1395.5 1547.8 1396.9 1543.8 1400.3C1539.7 1403.6 1536.2 1410 1531.5 1413.3C1526.9 1416.6 1520.8 1418.5 1515.8 1420.3C1510.8 1422 1506.8 1423.1 1501.4 1423.8C1496 1424.4 1488.7 1425.2 1483.6 1424.2C1478.4 1423.2 1473.6 1422.3 1470.5 1417.6C1467.4 1412.9 1465.6 1403.1 1464.9 1395.9C1464.1 1388.6 1465 1380.3 1466.1 1374.1C1467.3 1367.8 1470.9 1363.9 1471.8 1358.4C1472.8 1352.8 1471 1345.8 1471.8 1340.9C1472.7 1336.1 1474.1 1332 1476.8 1329.4C1479.5 1326.8 1483.8 1325.5 1487.9 1325.3Z"/>
<path d="M1488.1 1330C1491.9 1329.8 1496.6 1331.2 1500.7 1332.4C1504.8 1333.6 1508.8 1335.1 1512.5 1337.2C1516.2 1339.4 1518.3 1343.4 1523.1 1345.4C1527.8 1347.4 1535.5 1347.2 1540.9 1349.5C1546.3 1351.8 1552 1355 1555.5 1359.2C1559.1 1363.4 1561.2 1369.9 1562 1374.6C1562.9 1379.3 1562.2 1384.5 1560.5 1387.6C1558.7 1390.7 1554.9 1391.3 1551.5 1393.3C1548.1 1395.4 1543.9 1396.7 1540.1 1399.8C1536.4 1402.9 1533.1 1408.9 1528.7 1412C1524.4 1415.1 1518.8 1416.9 1514.1 1418.5C1509.4 1420.1 1505.7 1421.1 1500.7 1421.7C1495.7 1422.3 1488.8 1423.1 1484 1422.2C1479.2 1421.2 1474.8 1420.4 1471.9 1416C1469 1411.6 1467.3 1402.5 1466.6 1395.8C1465.9 1389 1466.7 1381.3 1467.8 1375.4C1468.9 1369.6 1472.2 1365.9 1473.1 1360.8C1474 1355.6 1472.3 1349.1 1473.1 1344.6C1473.9 1340.1 1475.2 1336.2 1477.7 1333.8C1480.2 1331.4 1484.3 1330.2 1488.1 1330Z"/>
<path d="M1488.3 1334.2C1491.8 1334 1496.2 1335.4 1500 1336.5C1503.8 1337.6 1507.6 1339 1511 1341C1514.5 1343 1516.5 1346.7 1520.9 1348.6C1525.3 1350.5 1532.5 1350.3 1537.6 1352.4C1542.6 1354.6 1547.9 1357.6 1551.2 1361.5C1554.5 1365.4 1556.5 1371.5 1557.3 1375.9C1558.1 1380.3 1557.5 1385.1 1555.8 1388C1554.2 1390.9 1550.6 1391.5 1547.4 1393.4C1544.3 1395.3 1540.4 1396.6 1536.9 1399.5C1533.3 1402.4 1530.3 1407.9 1526.2 1410.8C1522.2 1413.7 1516.9 1415.4 1512.5 1416.9C1508.2 1418.4 1504.7 1419.3 1500 1419.9C1495.3 1420.5 1489 1421.2 1484.5 1420.3C1480 1419.4 1475.8 1418.7 1473.1 1414.5C1470.4 1410.4 1468.9 1402 1468.2 1395.6C1467.6 1389.3 1468.3 1382.1 1469.3 1376.7C1470.3 1371.2 1473.5 1367.8 1474.3 1363C1475.1 1358.2 1473.6 1352.1 1474.3 1347.8C1475 1343.6 1476.3 1340.1 1478.6 1337.8C1480.9 1335.5 1484.7 1334.5 1488.3 1334.2Z"/>
<path d="M1488.4 1338.2C1491.8 1338 1495.9 1339.2 1499.4 1340.3C1502.9 1341.3 1506.4 1342.6 1509.7 1344.5C1513 1346.4 1514.8 1349.8 1518.9 1351.6C1523.1 1353.4 1529.7 1353.2 1534.5 1355.2C1539.2 1357.2 1544.2 1360 1547.2 1363.7C1550.3 1367.3 1552.2 1373 1552.9 1377.1C1553.6 1381.2 1553.1 1385.7 1551.5 1388.4C1550 1391.2 1546.6 1391.7 1543.7 1393.4C1540.7 1395.2 1537.1 1396.4 1533.8 1399.1C1530.5 1401.8 1527.7 1407 1523.9 1409.7C1520.1 1412.4 1515.2 1414 1511.1 1415.4C1507 1416.8 1503.8 1417.7 1499.4 1418.2C1495 1418.7 1489.1 1419.4 1484.9 1418.6C1480.7 1417.7 1476.8 1417 1474.3 1413.2C1471.7 1409.4 1470.3 1401.4 1469.7 1395.5C1469.1 1389.7 1469.8 1382.9 1470.7 1377.8C1471.7 1372.7 1474.6 1369.5 1475.4 1365.1C1476.1 1360.6 1474.7 1354.8 1475.4 1350.9C1476 1347 1477.2 1343.6 1479.4 1341.5C1481.6 1339.4 1485.1 1338.4 1488.4 1338.2Z"/>
<path d="M1488.6 1341.9C1491.7 1341.7 1495.5 1342.9 1498.8 1343.8C1502.1 1344.8 1505.4 1346 1508.4 1347.8C1511.5 1349.5 1513.2 1352.8 1517 1354.4C1520.9 1356.1 1527.2 1355.9 1531.6 1357.7C1536 1359.6 1540.6 1362.3 1543.5 1365.7C1546.4 1369.1 1548.1 1374.4 1548.8 1378.2C1549.5 1382.1 1548.9 1386.3 1547.5 1388.8C1546.1 1391.4 1542.9 1391.8 1540.2 1393.5C1537.4 1395.1 1534 1396.2 1530.9 1398.8C1527.9 1401.3 1525.2 1406.1 1521.7 1408.7C1518.1 1411.2 1513.5 1412.6 1509.7 1414C1505.9 1415.3 1502.9 1416.1 1498.8 1416.6C1494.7 1417.1 1489.2 1417.7 1485.3 1416.9C1481.3 1416.2 1477.7 1415.5 1475.3 1411.9C1473 1408.4 1471.6 1401 1471.1 1395.5C1470.5 1389.9 1471.1 1383.7 1472 1378.9C1472.9 1374.2 1475.6 1371.2 1476.4 1367C1477.1 1362.8 1475.7 1357.4 1476.4 1353.8C1477 1350.1 1478.1 1347 1480.1 1345C1482.2 1343 1485.5 1342.1 1488.6 1341.9Z"/>
<path d="M1488.7 1345.4C1491.6 1345.2 1495.2 1346.3 1498.3 1347.2C1501.4 1348.1 1504.4 1349.2 1507.2 1350.9C1510.1 1352.5 1511.7 1355.5 1515.3 1357.1C1518.9 1358.6 1524.7 1358.4 1528.8 1360.2C1532.9 1361.9 1537.3 1364.4 1540 1367.6C1542.6 1370.8 1544.3 1375.7 1544.9 1379.3C1545.5 1382.9 1545 1386.8 1543.7 1389.2C1542.3 1391.5 1539.4 1392 1536.9 1393.5C1534.3 1395.1 1531.1 1396.1 1528.2 1398.5C1525.4 1400.8 1522.9 1405.3 1519.6 1407.7C1516.3 1410.1 1512 1411.4 1508.5 1412.6C1504.9 1413.9 1502.1 1414.6 1498.3 1415.1C1494.5 1415.6 1489.3 1416.1 1485.6 1415.4C1482 1414.7 1478.6 1414.1 1476.4 1410.7C1474.2 1407.4 1472.9 1400.5 1472.4 1395.4C1471.9 1390.2 1472.5 1384.4 1473.3 1379.9C1474.1 1375.5 1476.6 1372.7 1477.3 1368.8C1478 1364.9 1476.7 1359.9 1477.3 1356.5C1477.9 1353 1478.9 1350.1 1480.8 1348.3C1482.7 1346.4 1485.8 1345.6 1488.7 1345.4Z"/>
<path d="M1488.8 1348.7C1491.5 1348.6 1494.9 1349.6 1497.7 1350.4C1500.6 1351.3 1503.5 1352.3 1506.1 1353.9C1508.7 1355.4 1510.2 1358.2 1513.6 1359.6C1516.9 1361.1 1522.4 1360.9 1526.2 1362.5C1530 1364.1 1534.1 1366.4 1536.6 1369.4C1539.1 1372.4 1540.6 1377 1541.2 1380.3C1541.7 1383.7 1541.3 1387.3 1540 1389.5C1538.8 1391.7 1536.1 1392.1 1533.7 1393.6C1531.3 1395 1528.3 1396 1525.7 1398.2C1523 1400.4 1520.7 1404.6 1517.6 1406.8C1514.5 1409 1510.5 1410.2 1507.2 1411.4C1503.9 1412.5 1501.3 1413.2 1497.7 1413.7C1494.2 1414.1 1489.4 1414.6 1486 1414C1482.6 1413.3 1479.4 1412.7 1477.3 1409.6C1475.3 1406.5 1474.1 1400.1 1473.6 1395.3C1473.1 1390.5 1473.7 1385 1474.5 1380.9C1475.2 1376.8 1477.6 1374.2 1478.2 1370.5C1478.9 1366.9 1477.7 1362.2 1478.2 1359C1478.8 1355.9 1479.7 1353.1 1481.5 1351.4C1483.3 1349.7 1486.1 1348.9 1488.8 1348.7Z"/>
<path d="M1489 1351.9C1491.5 1351.8 1494.6 1352.7 1497.2 1353.5C1499.9 1354.3 1502.6 1355.3 1505 1356.7C1507.5 1358.1 1508.8 1360.7 1512 1362.1C1515.1 1363.4 1520.1 1363.2 1523.7 1364.7C1527.3 1366.3 1531 1368.4 1533.3 1371.1C1535.6 1373.9 1537.1 1378.2 1537.6 1381.3C1538.1 1384.4 1537.7 1387.8 1536.6 1389.8C1535.4 1391.9 1532.9 1392.3 1530.6 1393.6C1528.4 1394.9 1525.7 1395.8 1523.2 1397.9C1520.7 1399.9 1518.5 1403.8 1515.7 1405.9C1512.8 1407.9 1509.1 1409.1 1506.1 1410.1C1503 1411.2 1500.5 1411.9 1497.2 1412.3C1493.9 1412.7 1489.4 1413.2 1486.3 1412.6C1483.1 1411.9 1480.2 1411.4 1478.3 1408.5C1476.4 1405.6 1475.3 1399.6 1474.8 1395.2C1474.4 1390.7 1474.9 1385.7 1475.6 1381.8C1476.3 1378 1478.5 1375.6 1479.1 1372.2C1479.7 1368.8 1478.6 1364.5 1479.1 1361.5C1479.6 1358.5 1480.5 1356 1482.1 1354.4C1483.8 1352.8 1486.4 1352.1 1489 1351.9Z"/>
<path d="M1489.1 1355C1491.4 1354.9 1494.3 1355.7 1496.8 1356.5C1499.2 1357.2 1501.7 1358.1 1504 1359.4C1506.2 1360.7 1507.5 1363.2 1510.4 1364.4C1513.3 1365.6 1518 1365.5 1521.3 1366.9C1524.6 1368.3 1528.1 1370.3 1530.2 1372.8C1532.4 1375.4 1533.7 1379.3 1534.2 1382.2C1534.7 1385.1 1534.3 1388.2 1533.2 1390.1C1532.1 1392 1529.8 1392.4 1527.7 1393.6C1525.7 1394.9 1523.1 1395.7 1520.8 1397.6C1518.5 1399.5 1516.5 1403.1 1513.9 1405C1511.2 1406.9 1507.8 1408 1504.9 1409C1502.1 1410 1499.8 1410.6 1496.8 1411C1493.7 1411.3 1489.5 1411.8 1486.6 1411.2C1483.7 1410.6 1481 1410.1 1479.2 1407.5C1477.4 1404.8 1476.4 1399.2 1476 1395.1C1475.6 1391 1476 1386.3 1476.7 1382.7C1477.4 1379.2 1479.4 1376.9 1479.9 1373.8C1480.5 1370.7 1479.5 1366.6 1479.9 1363.9C1480.4 1361.1 1481.2 1358.8 1482.8 1357.3C1484.3 1355.8 1486.8 1355.1 1489.1 1355Z"/>
<path d="M1489.2 1358C1491.4 1357.8 1494 1358.7 1496.3 1359.3C1498.6 1360 1500.8 1360.8 1502.9 1362.1C1505 1363.3 1506.2 1365.5 1508.9 1366.7C1511.6 1367.8 1515.9 1367.7 1518.9 1369C1522 1370.3 1525.2 1372.1 1527.2 1374.4C1529.2 1376.8 1530.4 1380.5 1530.8 1383.1C1531.3 1385.8 1530.9 1388.7 1530 1390.4C1529 1392.2 1526.8 1392.5 1524.9 1393.7C1523 1394.8 1520.6 1395.6 1518.5 1397.3C1516.4 1399.1 1514.5 1402.4 1512.1 1404.2C1509.6 1405.9 1506.5 1406.9 1503.8 1407.8C1501.2 1408.8 1499.1 1409.3 1496.3 1409.7C1493.5 1410 1489.6 1410.4 1486.9 1409.9C1484.2 1409.4 1481.7 1408.9 1480.1 1406.4C1478.4 1404 1477.5 1398.8 1477.1 1395C1476.7 1391.2 1477.1 1386.9 1477.8 1383.6C1478.4 1380.3 1480.3 1378.2 1480.8 1375.3C1481.3 1372.4 1480.3 1368.7 1480.8 1366.2C1481.2 1363.7 1482 1361.5 1483.4 1360.1C1484.8 1358.7 1487 1358.1 1489.2 1358Z"/>
<path d="M1489.3 1360.9C1491.3 1360.7 1493.7 1361.5 1495.8 1362.1C1497.9 1362.7 1500 1363.5 1502 1364.6C1503.9 1365.7 1505 1367.8 1507.4 1368.8C1509.9 1369.9 1513.9 1369.8 1516.7 1371C1519.5 1372.2 1522.4 1373.8 1524.3 1376C1526.1 1378.2 1527.2 1381.5 1527.6 1384C1528.1 1386.5 1527.7 1389.1 1526.8 1390.7C1525.9 1392.4 1523.9 1392.6 1522.2 1393.7C1520.4 1394.8 1518.2 1395.5 1516.3 1397.1C1514.3 1398.7 1512.6 1401.8 1510.4 1403.4C1508.1 1405 1505.2 1405.9 1502.8 1406.7C1500.4 1407.6 1498.4 1408.1 1495.8 1408.4C1493.2 1408.7 1489.7 1409.1 1487.2 1408.6C1484.7 1408.1 1482.4 1407.7 1480.9 1405.5C1479.4 1403.2 1478.5 1398.5 1478.2 1395C1477.8 1391.5 1478.2 1387.4 1478.8 1384.4C1479.3 1381.4 1481.1 1379.5 1481.5 1376.8C1482 1374.2 1481.1 1370.8 1481.5 1368.4C1481.9 1366.1 1482.6 1364.1 1483.9 1362.8C1485.2 1361.6 1487.3 1361 1489.3 1360.9Z"/>
<path d="M1489.4 1363.7C1491.2 1363.6 1493.5 1364.2 1495.4 1364.8C1497.3 1365.4 1499.2 1366.1 1501 1367.1C1502.8 1368.1 1503.8 1370 1506 1371C1508.3 1371.9 1511.9 1371.8 1514.5 1372.9C1517 1374 1519.8 1375.5 1521.4 1377.5C1523.1 1379.5 1524.1 1382.6 1524.5 1384.9C1524.9 1387.1 1524.6 1389.5 1523.8 1391C1522.9 1392.5 1521.1 1392.8 1519.5 1393.7C1517.9 1394.7 1515.9 1395.3 1514.1 1396.8C1512.3 1398.3 1510.8 1401.1 1508.7 1402.6C1506.6 1404.1 1504 1404.9 1501.8 1405.7C1499.5 1406.4 1497.8 1406.9 1495.4 1407.2C1493 1407.5 1489.8 1407.9 1487.5 1407.4C1485.2 1407 1483.1 1406.6 1481.7 1404.5C1480.3 1402.4 1479.5 1398.1 1479.2 1394.9C1478.9 1391.7 1479.3 1388 1479.8 1385.2C1480.3 1382.5 1481.9 1380.7 1482.3 1378.3C1482.7 1375.8 1481.9 1372.7 1482.3 1370.6C1482.7 1368.4 1483.3 1366.6 1484.5 1365.5C1485.7 1364.3 1487.6 1363.8 1489.4 1363.7Z"/>
<path d="M1489.5 1366.4C1491.2 1366.3 1493.2 1366.9 1495 1367.4C1496.7 1368 1498.5 1368.6 1500.1 1369.5C1501.7 1370.5 1502.6 1372.2 1504.6 1373C1506.7 1373.9 1510 1373.8 1512.3 1374.8C1514.7 1375.8 1517.1 1377.2 1518.7 1379C1520.2 1380.8 1521.1 1383.6 1521.5 1385.7C1521.8 1387.7 1521.6 1389.9 1520.8 1391.3C1520 1392.6 1518.4 1392.9 1516.9 1393.8C1515.4 1394.7 1513.6 1395.2 1512 1396.6C1510.4 1397.9 1509 1400.5 1507.1 1401.8C1505.2 1403.2 1502.8 1403.9 1500.8 1404.6C1498.7 1405.3 1497.1 1405.8 1495 1406C1492.8 1406.3 1489.8 1406.6 1487.8 1406.2C1485.7 1405.8 1483.8 1405.5 1482.5 1403.6C1481.3 1401.7 1480.5 1397.7 1480.2 1394.8C1479.9 1391.9 1480.3 1388.6 1480.7 1386C1481.2 1383.5 1482.7 1381.9 1483 1379.7C1483.4 1377.5 1482.7 1374.6 1483 1372.7C1483.4 1370.7 1484 1369.1 1485 1368C1486.1 1367 1487.9 1366.5 1489.5 1366.4Z"/>
<path d="M1489.6 1369C1491.1 1369 1493 1369.5 1494.5 1370C1496.1 1370.5 1497.7 1371 1499.2 1371.9C1500.6 1372.7 1501.4 1374.3 1503.3 1375.1C1505.1 1375.9 1508.1 1375.8 1510.3 1376.7C1512.4 1377.6 1514.6 1378.8 1516 1380.5C1517.4 1382.1 1518.2 1384.6 1518.5 1386.5C1518.8 1388.3 1518.6 1390.3 1517.9 1391.6C1517.2 1392.8 1515.7 1393 1514.4 1393.8C1513.1 1394.6 1511.4 1395.1 1510 1396.3C1508.5 1397.6 1507.2 1399.9 1505.5 1401.1C1503.8 1402.3 1501.6 1403 1499.8 1403.6C1498 1404.3 1496.5 1404.7 1494.5 1404.9C1492.6 1405.1 1489.9 1405.4 1488 1405.1C1486.2 1404.7 1484.4 1404.4 1483.3 1402.7C1482.1 1400.9 1481.5 1397.4 1481.2 1394.7C1481 1392.1 1481.3 1389.1 1481.7 1386.8C1482.1 1384.5 1483.4 1383.1 1483.8 1381.1C1484.1 1379.1 1483.5 1376.5 1483.8 1374.7C1484.1 1373 1484.6 1371.5 1485.6 1370.5C1486.6 1369.6 1488.1 1369.1 1489.6 1369Z"/>
</g>
<g fill="#000" fill-opacity="0.0" stroke="#666" stroke-width="0.7">
<path d="M1508 1338.4C1508 1344.1 1507 1350.5 1505.5 1355.4C1503.9 1360.3 1501.2 1365 1498.5 1367.8C1495.8 1370.7 1492.2 1372.4 1489 1372.4C1485.8 1372.4 1482.2 1370.7 1479.5 1367.8C1476.8 1365 1474.1 1360.3 1472.5 1355.4C1471 1350.5 1470 1344.1 1470 1338.4C1470 1332.7 1471 1326.3 1472.5 1321.4C1474.1 1316.5 1476.8 1311.8 1479.5 1309C1482.2 1306.1 1485.8 1304.4 1489 1304.4C1492.2 1304.4 1495.8 1306.1 1498.5 1309C1501.2 1311.8 1503.9 1316.5 1505.5 1321.4C1507 1326.3 1508 1332.7 1508 1338.4Z"/>
<path d="M1505.9 1339.4C1505.9 1344.4 1505 1350 1503.6 1354.3C1502.3 1358.6 1500 1362.7 1497.6 1365.2C1495.2 1367.6 1492 1369.2 1489.2 1369.2C1486.5 1369.2 1483.3 1367.6 1480.9 1365.2C1478.5 1362.7 1476.2 1358.6 1474.9 1354.3C1473.5 1350 1472.6 1344.4 1472.6 1339.4C1472.6 1334.4 1473.5 1328.8 1474.9 1324.5C1476.2 1320.2 1478.5 1316.1 1480.9 1313.6C1483.3 1311.2 1486.5 1309.7 1489.2 1309.7C1492 1309.7 1495.2 1311.2 1497.6 1313.6C1500 1316.1 1502.3 1320.2 1503.6 1324.5C1505 1328.8 1505.9 1334.4 1505.9 1339.4Z"/>
<path d="M1503.8 1340.4C1503.8 1344.7 1503 1349.5 1501.8 1353.2C1500.7 1356.8 1498.7 1360.4 1496.6 1362.5C1494.6 1364.6 1491.9 1365.9 1489.5 1365.9C1487.1 1365.9 1484.4 1364.6 1482.4 1362.5C1480.3 1360.4 1478.3 1356.8 1477.2 1353.2C1476 1349.5 1475.2 1344.7 1475.2 1340.4C1475.2 1336.2 1476 1331.3 1477.2 1327.7C1478.3 1324 1480.3 1320.4 1482.4 1318.3C1484.4 1316.2 1487.1 1314.9 1489.5 1314.9C1491.9 1314.9 1494.6 1316.2 1496.6 1318.3C1498.7 1320.4 1500.7 1324 1501.8 1327.7C1503 1331.3 1503.8 1336.2 1503.8 1340.4Z"/>
<path d="M1501.6 1341.4C1501.6 1344.9 1501 1349 1500 1352C1499 1355.1 1497.4 1358 1495.7 1359.8C1494 1361.6 1491.7 1362.7 1489.8 1362.7C1487.8 1362.7 1485.5 1361.6 1483.8 1359.8C1482.1 1358 1480.5 1355.1 1479.5 1352C1478.5 1349 1477.9 1344.9 1477.9 1341.4C1477.9 1337.9 1478.5 1333.8 1479.5 1330.8C1480.5 1327.7 1482.1 1324.8 1483.8 1323C1485.5 1321.2 1487.8 1320.2 1489.8 1320.2C1491.7 1320.2 1494 1321.2 1495.7 1323C1497.4 1324.8 1499 1327.7 1500 1330.8C1501 1333.8 1501.6 1337.9 1501.6 1341.4Z"/>
<path d="M1499.5 1342.4C1499.5 1345.2 1499 1348.4 1498.2 1350.9C1497.4 1353.4 1496.1 1355.7 1494.8 1357.1C1493.4 1358.5 1491.6 1359.4 1490 1359.4C1488.4 1359.4 1486.6 1358.5 1485.2 1357.1C1483.9 1355.7 1482.6 1353.4 1481.8 1350.9C1481 1348.4 1480.5 1345.2 1480.5 1342.4C1480.5 1339.6 1481 1336.4 1481.8 1333.9C1482.6 1331.4 1483.9 1329.1 1485.2 1327.7C1486.6 1326.3 1488.4 1325.4 1490 1325.4C1491.6 1325.4 1493.4 1326.3 1494.8 1327.7C1496.1 1329.1 1497.4 1331.4 1498.2 1333.9C1499 1336.4 1499.5 1339.6 1499.5 1342.4Z"/>
<path d="M1497.4 1343.4C1497.4 1345.5 1497 1347.9 1496.4 1349.8C1495.8 1351.6 1494.8 1353.4 1493.8 1354.4C1492.8 1355.5 1491.4 1356.2 1490.2 1356.2C1489.1 1356.2 1487.7 1355.5 1486.7 1354.4C1485.7 1353.4 1484.7 1351.6 1484.1 1349.8C1483.5 1347.9 1483.1 1345.5 1483.1 1343.4C1483.1 1341.3 1483.5 1338.9 1484.1 1337C1484.7 1335.2 1485.7 1333.4 1486.7 1332.4C1487.7 1331.3 1489.1 1330.7 1490.2 1330.7C1491.4 1330.7 1492.8 1331.3 1493.8 1332.4C1494.8 1333.4 1495.8 1335.2 1496.4 1337C1497 1338.9 1497.4 1341.3 1497.4 1343.4Z"/>
<path d="M1495.2 1344.4C1495.2 1345.8 1495 1347.4 1494.6 1348.7C1494.2 1349.9 1493.6 1351.1 1492.9 1351.8C1492.2 1352.5 1491.3 1352.9 1490.5 1352.9C1489.7 1352.9 1488.8 1352.5 1488.1 1351.8C1487.4 1351.1 1486.8 1349.9 1486.4 1348.7C1486 1347.4 1485.8 1345.8 1485.8 1344.4C1485.8 1343 1486 1341.4 1486.4 1340.2C1486.8 1338.9 1487.4 1337.7 1488.1 1337C1488.8 1336.3 1489.7 1335.9 1490.5 1335.9C1491.3 1335.9 1492.2 1336.3 1492.9 1337C1493.6 1337.7 1494.2 1338.9 1494.6 1340.2C1495 1341.4 1495.2 1343 1495.2 1344.4Z"/>
</g>
<g fill="#000" fill-opacity="0.07" stroke="#2a2a2a" stroke-width="0.8">
<path d="M1520.6 1392.1C1520.6 1398.9 1519 1406.7 1516.4 1412.6C1513.9 1418.5 1509.6 1424.2 1505.1 1427.6C1500.6 1431 1494.8 1433.1 1489.6 1433.1C1484.4 1433.1 1478.6 1431 1474.1 1427.6C1469.6 1424.2 1465.3 1418.5 1462.8 1412.6C1460.2 1406.7 1458.6 1398.9 1458.6 1392.1C1458.6 1385.3 1460.2 1377.5 1462.8 1371.6C1465.3 1365.7 1469.6 1360 1474.1 1356.6C1478.6 1353.2 1484.4 1351.1 1489.6 1351.1C1494.8 1351.1 1500.6 1353.2 1505.1 1356.6C1509.6 1360 1513.9 1365.7 1516.4 1371.6C1519 1377.5 1520.6 1385.3 1520.6 1392.1Z"/>
<path d="M1519.2 1392.2C1519.2 1398.7 1517.7 1406.1 1515.2 1411.7C1512.8 1417.4 1508.7 1422.8 1504.4 1426C1500.2 1429.3 1494.6 1431.3 1489.6 1431.3C1484.7 1431.3 1479.1 1429.3 1474.9 1426C1470.6 1422.8 1466.5 1417.4 1464.1 1411.7C1461.6 1406.1 1460.1 1398.7 1460.1 1392.2C1460.1 1385.7 1461.6 1378.3 1464.1 1372.7C1466.5 1367 1470.6 1361.6 1474.9 1358.4C1479.1 1355.1 1484.7 1353.1 1489.6 1353.1C1494.6 1353.1 1500.2 1355.1 1504.4 1358.4C1508.7 1361.6 1512.8 1367 1515.2 1372.7C1517.7 1378.3 1519.2 1385.7 1519.2 1392.2Z"/>
<path d="M1517.8 1392.3C1517.8 1398.5 1516.3 1405.5 1514 1410.8C1511.7 1416.2 1507.8 1421.3 1503.7 1424.4C1499.7 1427.5 1494.4 1429.4 1489.7 1429.4C1485 1429.4 1479.7 1427.5 1475.7 1424.4C1471.6 1421.3 1467.7 1416.2 1465.4 1410.8C1463.1 1405.5 1461.6 1398.5 1461.6 1392.3C1461.6 1386.1 1463.1 1379.1 1465.4 1373.7C1467.7 1368.4 1471.6 1363.2 1475.7 1360.1C1479.7 1357.1 1485 1355.2 1489.7 1355.2C1494.4 1355.2 1499.7 1357.1 1503.7 1360.1C1507.8 1363.2 1511.7 1368.4 1514 1373.7C1516.3 1379.1 1517.8 1386.1 1517.8 1392.3Z"/>
<path d="M1516.3 1392.4C1516.3 1398.2 1515 1404.9 1512.8 1410C1510.6 1415 1506.9 1419.9 1503 1422.8C1499.2 1425.8 1494.2 1427.6 1489.7 1427.6C1485.3 1427.6 1480.3 1425.8 1476.4 1422.8C1472.6 1419.9 1468.9 1415 1466.7 1410C1464.5 1404.9 1463.1 1398.2 1463.1 1392.4C1463.1 1386.5 1464.5 1379.9 1466.7 1374.8C1468.9 1369.7 1472.6 1364.9 1476.4 1361.9C1480.3 1359 1485.3 1357.2 1489.7 1357.2C1494.2 1357.2 1499.2 1359 1503 1361.9C1506.9 1364.9 1510.6 1369.7 1512.8 1374.8C1515 1379.9 1516.3 1386.5 1516.3 1392.4Z"/>
<path d="M1514.9 1392.5C1514.9 1398 1513.6 1404.3 1511.5 1409.1C1509.5 1413.9 1506 1418.5 1502.4 1421.3C1498.7 1424 1494 1425.7 1489.8 1425.7C1485.6 1425.7 1480.9 1424 1477.2 1421.3C1473.6 1418.5 1470.1 1413.9 1468 1409.1C1465.9 1404.3 1464.7 1398 1464.7 1392.5C1464.7 1386.9 1465.9 1380.7 1468 1375.9C1470.1 1371.1 1473.6 1366.5 1477.2 1363.7C1480.9 1360.9 1485.6 1359.2 1489.8 1359.2C1494 1359.2 1498.7 1360.9 1502.4 1363.7C1506 1366.5 1509.5 1371.1 1511.5 1375.9C1513.6 1380.7 1514.9 1386.9 1514.9 1392.5Z"/>
<path d="M1513.5 1392.6C1513.5 1397.8 1512.3 1403.7 1510.3 1408.2C1508.4 1412.7 1505.1 1417.1 1501.7 1419.7C1498.3 1422.3 1493.8 1423.9 1489.8 1423.9C1485.9 1423.9 1481.4 1422.3 1478 1419.7C1474.6 1417.1 1471.3 1412.7 1469.3 1408.2C1467.4 1403.7 1466.2 1397.8 1466.2 1392.6C1466.2 1387.4 1467.4 1381.4 1469.3 1376.9C1471.3 1372.4 1474.6 1368.1 1478 1365.5C1481.4 1362.9 1485.9 1361.3 1489.8 1361.3C1493.8 1361.3 1498.3 1362.9 1501.7 1365.5C1505.1 1368.1 1508.4 1372.4 1510.3 1376.9C1512.3 1381.4 1513.5 1387.4 1513.5 1392.6Z"/>
<path d="M1512.1 1392.7C1512.1 1397.6 1510.9 1403.1 1509.1 1407.3C1507.3 1411.6 1504.2 1415.6 1501 1418.1C1497.8 1420.5 1493.6 1422 1489.9 1422C1486.2 1422 1482 1420.5 1478.8 1418.1C1475.6 1415.6 1472.5 1411.6 1470.7 1407.3C1468.8 1403.1 1467.7 1397.6 1467.7 1392.7C1467.7 1387.8 1468.8 1382.2 1470.7 1378C1472.5 1373.8 1475.6 1369.7 1478.8 1367.3C1482 1364.8 1486.2 1363.3 1489.9 1363.3C1493.6 1363.3 1497.8 1364.8 1501 1367.3C1504.2 1369.7 1507.3 1373.8 1509.1 1378C1510.9 1382.2 1512.1 1387.8 1512.1 1392.7Z"/>
<path d="M1510.7 1392.8C1510.7 1397.3 1509.6 1402.5 1507.9 1406.5C1506.1 1410.4 1503.3 1414.2 1500.3 1416.5C1497.3 1418.8 1493.4 1420.2 1489.9 1420.2C1486.5 1420.2 1482.6 1418.8 1479.6 1416.5C1476.6 1414.2 1473.7 1410.4 1472 1406.5C1470.3 1402.5 1469.2 1397.3 1469.2 1392.8C1469.2 1388.2 1470.3 1383 1472 1379.1C1473.7 1375.1 1476.6 1371.3 1479.6 1369C1482.6 1366.7 1486.5 1365.4 1489.9 1365.4C1493.4 1365.4 1497.3 1366.7 1500.3 1369C1503.3 1371.3 1506.1 1375.1 1507.9 1379.1C1509.6 1383 1510.7 1388.2 1510.7 1392.8Z"/>
<path d="M1509.2 1392.9C1509.2 1397.1 1508.3 1401.9 1506.7 1405.6C1505 1409.3 1502.4 1412.8 1499.6 1414.9C1496.8 1417 1493.2 1418.3 1490 1418.3C1486.8 1418.3 1483.1 1417 1480.4 1414.9C1477.6 1412.8 1474.9 1409.3 1473.3 1405.6C1471.7 1401.9 1470.7 1397.1 1470.7 1392.9C1470.7 1388.6 1471.7 1383.8 1473.3 1380.1C1474.9 1376.5 1477.6 1372.9 1480.4 1370.8C1483.1 1368.7 1486.8 1367.4 1490 1367.4C1493.2 1367.4 1496.8 1368.7 1499.6 1370.8C1502.4 1372.9 1505 1376.5 1506.7 1380.1C1508.3 1383.8 1509.2 1388.6 1509.2 1392.9Z"/>
<path d="M1507.8 1393C1507.8 1396.9 1506.9 1401.3 1505.4 1404.7C1503.9 1408.1 1501.5 1411.4 1498.9 1413.3C1496.4 1415.3 1493 1416.5 1490 1416.5C1487.1 1416.5 1483.7 1415.3 1481.1 1413.3C1478.6 1411.4 1476.1 1408.1 1474.6 1404.7C1473.1 1401.3 1472.2 1396.9 1472.2 1393C1472.2 1389 1473.1 1384.6 1474.6 1381.2C1476.1 1377.8 1478.6 1374.5 1481.1 1372.6C1483.7 1370.6 1487.1 1369.4 1490 1369.4C1493 1369.4 1496.4 1370.6 1498.9 1372.6C1501.5 1374.5 1503.9 1377.8 1505.4 1381.2C1506.9 1384.6 1507.8 1389 1507.8 1393Z"/>
<path d="M1506.4 1393C1506.4 1396.6 1505.6 1400.7 1504.2 1403.8C1502.8 1407 1500.6 1409.9 1498.2 1411.7C1495.9 1413.5 1492.8 1414.6 1490.1 1414.6C1487.4 1414.6 1484.3 1413.5 1481.9 1411.7C1479.6 1409.9 1477.3 1407 1475.9 1403.8C1474.6 1400.7 1473.8 1396.6 1473.8 1393C1473.8 1389.5 1474.6 1385.4 1475.9 1382.3C1477.3 1379.1 1479.6 1376.2 1481.9 1374.4C1484.3 1372.6 1487.4 1371.5 1490.1 1371.5C1492.8 1371.5 1495.9 1372.6 1498.2 1374.4C1500.6 1376.2 1502.8 1379.1 1504.2 1382.3C1505.6 1385.4 1506.4 1389.5 1506.4 1393Z"/>
<path d="M1505 1393.1C1505 1396.4 1504.2 1400.1 1503 1403C1501.7 1405.8 1499.7 1408.5 1497.5 1410.1C1495.4 1411.8 1492.6 1412.8 1490.1 1412.8C1487.6 1412.8 1484.8 1411.8 1482.7 1410.1C1480.6 1408.5 1478.5 1405.8 1477.3 1403C1476 1400.1 1475.3 1396.4 1475.3 1393.1C1475.3 1389.9 1476 1386.2 1477.3 1383.3C1478.5 1380.5 1480.6 1377.8 1482.7 1376.1C1484.8 1374.5 1487.6 1373.5 1490.1 1373.5C1492.6 1373.5 1495.4 1374.5 1497.5 1376.1C1499.7 1377.8 1501.7 1380.5 1503 1383.3C1504.2 1386.2 1505 1389.9 1505 1393.1Z"/>
<path d="M1503.5 1393.2C1503.5 1396.2 1502.9 1399.5 1501.8 1402.1C1500.6 1404.6 1498.8 1407.1 1496.9 1408.6C1494.9 1410 1492.4 1410.9 1490.2 1410.9C1487.9 1410.9 1485.4 1410 1483.5 1408.6C1481.5 1407.1 1479.7 1404.6 1478.6 1402.1C1477.5 1399.5 1476.8 1396.2 1476.8 1393.2C1476.8 1390.3 1477.5 1386.9 1478.6 1384.4C1479.7 1381.8 1481.5 1379.4 1483.5 1377.9C1485.4 1376.4 1487.9 1375.5 1490.2 1375.5C1492.4 1375.5 1494.9 1376.4 1496.9 1377.9C1498.8 1379.4 1500.6 1381.8 1501.8 1384.4C1502.9 1386.9 1503.5 1390.3 1503.5 1393.2Z"/>
<path d="M1502.1 1393.3C1502.1 1396 1501.5 1398.9 1500.5 1401.2C1499.5 1403.5 1497.9 1405.7 1496.2 1407C1494.5 1408.3 1492.2 1409.1 1490.2 1409.1C1488.2 1409.1 1486 1408.3 1484.3 1407C1482.5 1405.7 1480.9 1403.5 1479.9 1401.2C1478.9 1398.9 1478.3 1396 1478.3 1393.3C1478.3 1390.7 1478.9 1387.7 1479.9 1385.5C1480.9 1383.2 1482.5 1381 1484.3 1379.7C1486 1378.4 1488.2 1377.6 1490.2 1377.6C1492.2 1377.6 1494.5 1378.4 1496.2 1379.7C1497.9 1381 1499.5 1383.2 1500.5 1385.5C1501.5 1387.7 1502.1 1390.7 1502.1 1393.3Z"/>
<path d="M1500.7 1393.4C1500.7 1395.7 1500.2 1398.3 1499.3 1400.3C1498.4 1402.3 1497 1404.2 1495.5 1405.4C1494 1406.5 1492 1407.2 1490.3 1407.2C1488.5 1407.2 1486.5 1406.5 1485 1405.4C1483.5 1404.2 1482.1 1402.3 1481.2 1400.3C1480.3 1398.3 1479.8 1395.7 1479.8 1393.4C1479.8 1391.1 1480.3 1388.5 1481.2 1386.5C1482.1 1384.5 1483.5 1382.6 1485 1381.5C1486.5 1380.3 1488.5 1379.6 1490.3 1379.6C1492 1379.6 1494 1380.3 1495.5 1381.5C1497 1382.6 1498.4 1384.5 1499.3 1386.5C1500.2 1388.5 1500.7 1391.1 1500.7 1393.4Z"/>
<path d="M1499.3 1393.5C1499.3 1395.5 1498.8 1397.7 1498.1 1399.5C1497.3 1401.2 1496.1 1402.8 1494.8 1403.8C1493.5 1404.8 1491.8 1405.4 1490.3 1405.4C1488.8 1405.4 1487.1 1404.8 1485.8 1403.8C1484.5 1402.8 1483.3 1401.2 1482.5 1399.5C1481.8 1397.7 1481.3 1395.5 1481.3 1393.5C1481.3 1391.5 1481.8 1389.3 1482.5 1387.6C1483.3 1385.9 1484.5 1384.2 1485.8 1383.2C1487.1 1382.3 1488.8 1381.7 1490.3 1381.7C1491.8 1381.7 1493.5 1382.3 1494.8 1383.2C1496.1 1384.2 1497.3 1385.9 1498.1 1387.6C1498.8 1389.3 1499.3 1391.5 1499.3 1393.5Z"/>
<path d="M1497.9 1393.6C1497.9 1395.3 1497.5 1397.1 1496.9 1398.6C1496.2 1400 1495.2 1401.4 1494.1 1402.2C1493 1403 1491.6 1403.5 1490.4 1403.5C1489.1 1403.5 1487.7 1403 1486.6 1402.2C1485.5 1401.4 1484.5 1400 1483.9 1398.6C1483.2 1397.1 1482.9 1395.3 1482.9 1393.6C1482.9 1392 1483.2 1390.1 1483.9 1388.7C1484.5 1387.2 1485.5 1385.8 1486.6 1385C1487.7 1384.2 1489.1 1383.7 1490.4 1383.7C1491.6 1383.7 1493 1384.2 1494.1 1385C1495.2 1385.8 1496.2 1387.2 1496.9 1388.7C1497.5 1390.1 1497.9 1392 1497.9 1393.6Z"/>
<path d="M1496.4 1393.7C1496.4 1395 1496.1 1396.6 1495.6 1397.7C1495.1 1398.9 1494.3 1400 1493.4 1400.6C1492.6 1401.3 1491.4 1401.7 1490.4 1401.7C1489.4 1401.7 1488.3 1401.3 1487.4 1400.6C1486.5 1400 1485.7 1398.9 1485.2 1397.7C1484.7 1396.6 1484.4 1395 1484.4 1393.7C1484.4 1392.4 1484.7 1390.9 1485.2 1389.7C1485.7 1388.6 1486.5 1387.5 1487.4 1386.8C1488.3 1386.1 1489.4 1385.7 1490.4 1385.7C1491.4 1385.7 1492.6 1386.1 1493.4 1386.8C1494.3 1387.5 1495.1 1388.6 1495.6 1389.7C1496.1 1390.9 1496.4 1392.4 1496.4 1393.7Z"/>
<path d="M1495 1393.8C1495 1394.8 1494.8 1396 1494.4 1396.8C1494 1397.7 1493.4 1398.5 1492.7 1399C1492.1 1399.5 1491.2 1399.8 1490.5 1399.8C1489.7 1399.8 1488.8 1399.5 1488.2 1399C1487.5 1398.5 1486.9 1397.7 1486.5 1396.8C1486.1 1396 1485.9 1394.8 1485.9 1393.8C1485.9 1392.8 1486.1 1391.7 1486.5 1390.8C1486.9 1389.9 1487.5 1389.1 1488.2 1388.6C1488.8 1388.1 1489.7 1387.8 1490.5 1387.8C1491.2 1387.8 1492.1 1388.1 1492.7 1388.6C1493.4 1389.1 1494 1389.9 1494.4 1390.8C1494.8 1391.7 1495 1392.8 1495 1393.8Z"/>
<path d="M1493.6 1393.9C1493.6 1394.6 1493.4 1395.4 1493.2 1396C1492.9 1396.5 1492.5 1397.1 1492 1397.5C1491.6 1397.8 1491 1398 1490.5 1398C1490 1398 1489.4 1397.8 1488.9 1397.5C1488.5 1397.1 1488.1 1396.5 1487.8 1396C1487.6 1395.4 1487.4 1394.6 1487.4 1393.9C1487.4 1393.2 1487.6 1392.4 1487.8 1391.9C1488.1 1391.3 1488.5 1390.7 1488.9 1390.3C1489.4 1390 1490 1389.8 1490.5 1389.8C1491 1389.8 1491.6 1390 1492 1390.3C1492.5 1390.7 1492.9 1391.3 1493.2 1391.9C1493.4 1392.4 1493.6 1393.2 1493.6 1393.9Z"/>
</g>
<ellipse cx="1490.6" cy="1393.1" rx="1.5" ry="6" fill="#eee"/>
<path d="M1598.6 1407.9h.1M1530.5 1304.5h.1M1590.8 1335.9h.1M1531.7 1294.1h.1M1516.7 1300.8h.1M1535 1288.2h.1M1604.3 1422.7h.1M1618.9 1357.3h.1M1599.8 1319.7h.1M1565 1308.1h.1M1597.4 1362.7h.1M1590.7 1322.1h.1M1601.9 1329.1h.1M1590.3 1398.2h.1M1532.7 1428.4h.1M1523.9 1293.4h.1M1590.5 1332.6h.1M1605.9 1345h.1M1616.8 1327h.1M1600.9 1409.1h.1M1615.9 1417.9h.1M1585.6 1315.3h.1M1605.9 1328.8h.1M1564.2 1422.3h.1M1586.4 1426.7h.1M1619.4 1397.3h.1M1519.2 1298.3h.1M1570.4 1310.4h.1M1604.8 1387.5h.1M1574.4 1420.2h.1M1567.5 1307.2h.1M1572.1 1415.8h.1M1545.7 1294.8h.1M1596.4 1387.2h.1M1606.2 1428.1h.1M1514.1 1299.8h.1M1602.6 1392.2h.1M1571.1 1422.7h.1M1564 1422.7h.1M1568.2 1420.9h.1M1621 1396.9h.1M1625.9 1395.9h.1M1596.5 1325.2h.1M1611.6 1423.2h.1M1606.9 1373.4h.1M1611.6 1321.5h.1M1623 1390.4h.1M1545.3 1303.2h.1M1566.5 1307.5h.1M1563.4 1426.7h.1M1627.7 1383.6h.1M1547.1 1290.7h.1M1604.9 1322.6h.1M1597.8 1307.7h.1M1592.7 1325.5h.1M1545.6 1297.8h.1M1559.9 1302.4h.1M1608.8 1336.2h.1M1616.3 1389.3h.1M1600.4 1324.8h.1M1619.1 1404.9h.1M1554.1 1308h.1M1629.4 1394.6h.1M1567.6 1315.1h.1M1517 1287.1h.1M1628.9 1399.1h.1M1526.9 1286.9h.1M1545.7 1291.4h.1M1596.1 1309.8h.1M1549.2 1307.4h.1M1623.9 1381.4h.1M1609.6 1338h.1M1598.1 1344.8h.1M1610.3 1361.1h.1M1518.9 1424.4h.1M1580.4 1417.5h.1M1548.4 1297.8h.1M1573.6 1318.5h.1M1586.3 1400.4h.1M1565.8 1424.3h.1M1590.6 1398.5h.1M1547.2 1296.5h.1M1618 1353.7h.1M1576.1 1427.7h.1M1579.4 1313.9h.1M1549.4 1304.5h.1M1602.9 1371.4h.1M1614.6 1392.1h.1M1548.3 1427.8h.1M1600.3 1335.9h.1M1564.6 1422.1h.1M1623.6 1344h.1M1593.1 1335.8h.1M1513 1294.9h.1M1557.8 1300.5h.1M1614 1346.1h.1M1540.2 1295.8h.1M1596 1394.7h.1M1606.5 1337h.1M1605.5 1395.5h.1M1564.1 1306.9h.1M1606.7 1420.5h.1M1610.4 1419.9h.1M1588.5 1308.8h.1M1564.5 1419.4h.1M1605.4 1367.5h.1M1594.3 1325.7h.1M1605.2 1309.4h.1M1569.8 1316.1h.1M1629.1 1398.6h.1M1535.3 1301.1h.1M1602 1372.2h.1M1543.1 1426.3h.1M1619.2 1411.1h.1M1594.9 1310.2h.1M1560.8 1307.3h.1M1553.7 1303.5h.1M1601.5 1422.9h.1M1630.2 1356.2h.1M1616.9 1407h.1M1620.5 1371.7h.1M1627.2 1355.5h.1M1586 1313.9h.1M1574.1 1424.1h.1M1593.3 1401.7h.1M1594.1 1313.7h.1M1606.9 1387.7h.1M1522.8 1295h.1M1604.7 1308.1h.1M1616.8 1351.5h.1M1627.5 1342.1h.1M1605.3 1332.2h.1M1609.3 1330.7h.1M1627.5 1359.9h.1M1606.2 1408.7h.1M1593.5 1332.6h.1M1601.1 1411.6h.1M1569.5 1424.8h.1M1559.2 1304.7h.1M1607.5 1344.3h.1M1615.9 1415.7h.1M1606.4 1338.5h.1M1609.6 1385.9h.1M1575.4 1307.5h.1M1629.6 1336.7h.1M1527.6 1295.5h.1M1612.6 1317.8h.1M1591.1 1424.8h.1M1624 1408.6h.1M1547.2 1286.5h.1" stroke="#222" stroke-width="1.05" stroke-linecap="square" fill="none"/>
<rect x="1427" y="644.9" width="249.8" height="249.3" stroke="#000" fill="none" stroke-width="2.9"/>
<path d="M1505.1 644.9V838.8H1677.6" fill="none" stroke="#000" stroke-width="3.5"/>
<rect x="1427" y="950.3" width="249.8" height="249.6" stroke="#000" fill="none" stroke-width="2.9"/>
<path d="M1505.1 950.3V1144.6H1677.6" fill="none" stroke="#000" stroke-width="3.5"/>
<rect x="1427" y="1258.4" width="249.8" height="250.1" stroke="#000" fill="none" stroke-width="2.9"/>
<path d="M1505.1 1258.4V1452.6H1677.6" fill="none" stroke="#000" stroke-width="3.5"/>
<text x="1488" y="632.4">Untreated</text>
<text x="1480.1" y="936.6">MOPC_SDIE</text>
<text x="1482.6" y="1243.3">8H8_SDIE</text>
<text x="1584.2" y="687.2">5.9%</text>
<text x="1568.1" y="992.6">5.8%</text>
<text x="1567.5" y="1301.4">20.7%</text>
<text transform="translate(1379 1073.7) rotate(-90)" text-anchor="middle">CD56</text>
<text x="1510" y="1577.4">CD25</text>
<text x="1755" y="563.9" font-weight="bold" font-size="44.6">E</text>
<line x1="1975.35" y1="825.8" x2="1975.35" y2="836.7" stroke="#000" stroke-width="3"/>
<line x1="1964.45" y1="825.8" x2="1986.25" y2="825.8" stroke="#000" stroke-width="3.2"/>
<rect x="1955.05" y="836.7" width="40.6" height="124.8" stroke="#000" fill="#fff" stroke-width="3.2"/>
<rect x="2020.55" y="825.7" width="40.6" height="135.8" stroke="#9f9fa3" fill="#dfdfe0" stroke-width="3.2"/>
<line x1="2106.35" y1="703.9" x2="2106.35" y2="740.6" stroke="#7a79c3" stroke-width="3"/>
<line x1="2095.45" y1="703.9" x2="2117.25" y2="703.9" stroke="#7a79c3" stroke-width="3.2"/>
<rect x="2086.05" y="740.6" width="40.6" height="220.9" stroke="#7a79c3" fill="#b2b1d9" stroke-width="3.2"/>
<text x="2040.2" y="592.5" text-anchor="middle" font-size="32">A549</text>
<text transform="translate(1862.5 794.6) rotate(-90)" text-anchor="middle" font-size="32">CD25<tspan dy="-15.5" font-size="23">+</tspan><tspan dy="15.5" font-size="26"> </tspan>NK cells</text>
<line x1="2313.65" y1="799.2" x2="2313.65" y2="832.3" stroke="#000" stroke-width="3"/>
<line x1="2302.75" y1="799.2" x2="2324.55" y2="799.2" stroke="#000" stroke-width="3.2"/>
<rect x="2293.35" y="832.3" width="40.6" height="129.2" stroke="#000" fill="#fff" stroke-width="3.2"/>
<rect x="2358.85" y="835.4" width="40.6" height="126.1" stroke="#9f9fa3" fill="#dfdfe0" stroke-width="3.2"/>
<line x1="2444.65" y1="654.4" x2="2444.65" y2="698.1" stroke="#7a79c3" stroke-width="3"/>
<line x1="2433.75" y1="654.4" x2="2455.55" y2="654.4" stroke="#7a79c3" stroke-width="3.2"/>
<rect x="2424.35" y="698.1" width="40.6" height="263.4" stroke="#7a79c3" fill="#b2b1d9" stroke-width="3.2"/>
<text x="2378.1" y="593.7" text-anchor="middle" font-size="32">NCI-H226</text>
<text transform="translate(2200.3 794.6) rotate(-90)" text-anchor="middle" font-size="32">CD25<tspan dy="-15.5" font-size="23">+</tspan><tspan dy="15.5" font-size="26"> </tspan>NK cells</text>
<rect x="1835.6" y="1056.6" width="23.9" height="23.9" stroke="#000" fill="#fff" stroke-width="2.6" stroke-linejoin="round"/>
<text x="1867.9" y="1076.7">Untreated</text>
<rect x="2039.7" y="1055.6" width="23.9" height="23.9" stroke="#9f9fa3" fill="#dfdfe0" stroke-width="2.6" stroke-linejoin="round"/>
<text x="2081.2" y="1076.7">MOPC_SDIE</text>
<rect x="2310.6" y="1055.6" width="23.9" height="23.9" stroke="#7a79c3" fill="#b2b1d9" stroke-width="2.6" stroke-linejoin="round"/>
<text x="2345.3" y="1076.7">8H8_SDIE</text>
<line x1="1979.35" y1="1391.8" x2="1979.35" y2="1411.7" stroke="#000" stroke-width="3"/>
<line x1="1968.45" y1="1391.8" x2="1990.25" y2="1391.8" stroke="#000" stroke-width="3.2"/>
<rect x="1959.05" y="1411.7" width="40.6" height="126.7" stroke="#000" fill="#fff" stroke-width="3.2"/>
<rect x="2024.55" y="1422.7" width="40.6" height="115.7" stroke="#9f9fa3" fill="#dfdfe0" stroke-width="3.2"/>
<line x1="2110.35" y1="1300.1" x2="2110.35" y2="1327.6" stroke="#7a79c3" stroke-width="3"/>
<line x1="2099.45" y1="1300.1" x2="2121.25" y2="1300.1" stroke="#7a79c3" stroke-width="3.2"/>
<rect x="2090.05" y="1327.6" width="40.6" height="210.8" stroke="#7a79c3" fill="#b2b1d9" stroke-width="3.2"/>
<text x="2044.8" y="1169.1" text-anchor="middle" font-size="32">NCI-H460</text>
<text transform="translate(1865.6 1370.9) rotate(-90)" text-anchor="middle" font-size="32">CD25<tspan dy="-15.5" font-size="23">+</tspan><tspan dy="15.5" font-size="26"> </tspan>NK cells</text>
<line x1="2313.35" y1="1376.5" x2="2313.35" y2="1413" stroke="#000" stroke-width="2.8"/>
<line x1="2313.35" y1="1492.5" x2="2313.35" y2="1497.5" stroke="#000" stroke-width="2.8"/>
<line x1="2302.6" y1="1376.5" x2="2324.1" y2="1376.5" stroke="#000" stroke-width="3"/>
<line x1="2302.6" y1="1497.5" x2="2324.1" y2="1497.5" stroke="#000" stroke-width="3"/>
<rect x="2293.2" y="1414.6" width="40.3" height="76.3" stroke="#000" fill="#fff" stroke-width="3.2"/>
<line x1="2293.2" y1="1470.3" x2="2333.5" y2="1470.3" stroke="#000" stroke-width="3"/>
<line x1="2378.55" y1="1406.4" x2="2378.55" y2="1427.5" stroke="#9f9fa3" stroke-width="2.8"/>
<line x1="2378.55" y1="1484.9" x2="2378.55" y2="1492.5" stroke="#9f9fa3" stroke-width="2.8"/>
<line x1="2367.8" y1="1406.4" x2="2389.3" y2="1406.4" stroke="#9f9fa3" stroke-width="3"/>
<line x1="2367.8" y1="1492.5" x2="2389.3" y2="1492.5" stroke="#9f9fa3" stroke-width="3"/>
<rect x="2358.2" y="1429.1" width="40.7" height="54.2" stroke="#9f9fa3" fill="#dfdfe0" stroke-width="3.2"/>
<line x1="2358.2" y1="1458.8" x2="2398.9" y2="1458.8" stroke="#9f9fa3" stroke-width="3"/>
<line x1="2443.95" y1="1253.8" x2="2443.95" y2="1334.5" stroke="#7a79c3" stroke-width="2.8"/>
<line x1="2443.95" y1="1456.7" x2="2443.95" y2="1479.7" stroke="#7a79c3" stroke-width="2.8"/>
<line x1="2433.2" y1="1253.8" x2="2454.7" y2="1253.8" stroke="#7a79c3" stroke-width="3"/>
<line x1="2433.2" y1="1479.7" x2="2454.7" y2="1479.7" stroke="#7a79c3" stroke-width="3"/>
<rect x="2423.8" y="1336.1" width="40.3" height="119" stroke="#7a79c3" fill="#b2b1d9" stroke-width="3.2"/>
<line x1="2423.8" y1="1366.2" x2="2464.1" y2="1366.2" stroke="#7a79c3" stroke-width="3"/>
<line x1="2313.4" y1="1208.4" x2="2443.8" y2="1208.4" stroke="#000" stroke-width="3.2"/>
<text transform="translate(2378.1 1204.27) scale(0.94 1)" x="1.65" text-anchor="middle" font-family='"DejaVu Sans", "Liberation Sans", sans-serif' font-weight="bold" font-size="26.8" letter-spacing="3.3" class="st">*</text>
<line x1="2379.4" y1="1241.2" x2="2443.8" y2="1241.2" stroke="#000" stroke-width="3.2"/>
<text transform="translate(2411.1 1237.47) scale(0.94 1)" x="1.65" text-anchor="middle" font-family='"DejaVu Sans", "Liberation Sans", sans-serif' font-weight="bold" font-size="26.8" letter-spacing="3.3" class="st">*</text>
<text x="2379" y="1168.5" text-anchor="middle" font-size="32">Pooled</text>
<text transform="translate(2200 1370.2) rotate(-90)" text-anchor="middle" font-size="32">CD25<tspan dy="-15.5" font-size="23">+</tspan><tspan dy="15.5" font-size="26"> </tspan>NK cells</text>
<line x1="197.2" y1="112.15" x2="197.2" y2="443.55" stroke="#000" stroke-width="3.3"/>
<line x1="183.3" y1="441.9" x2="416.9" y2="441.9" stroke="#000" stroke-width="3.3"/>
<line x1="183.3" y1="113.8" x2="197.2" y2="113.8" stroke="#000" stroke-width="3.3"/>
<text x="179.3" y="125" text-anchor="end" font-size="32">100</text>
<line x1="183.3" y1="179.42" x2="197.2" y2="179.42" stroke="#000" stroke-width="3.3"/>
<text x="179.3" y="190.62" text-anchor="end" font-size="32">80</text>
<line x1="183.3" y1="245.04" x2="197.2" y2="245.04" stroke="#000" stroke-width="3.3"/>
<text x="179.3" y="256.24" text-anchor="end" font-size="32">60</text>
<line x1="183.3" y1="310.66" x2="197.2" y2="310.66" stroke="#000" stroke-width="3.3"/>
<text x="179.3" y="321.86" text-anchor="end" font-size="32">40</text>
<line x1="183.3" y1="376.28" x2="197.2" y2="376.28" stroke="#000" stroke-width="3.3"/>
<text x="179.3" y="387.48" text-anchor="end" font-size="32">20</text>
<text x="179.3" y="453.1" text-anchor="end" font-size="32">0</text>
<line x1="710" y1="112.15" x2="710" y2="443.55" stroke="#000" stroke-width="3.3"/>
<line x1="696.1" y1="441.9" x2="929" y2="441.9" stroke="#000" stroke-width="3.3"/>
<line x1="696.1" y1="113.8" x2="710" y2="113.8" stroke="#000" stroke-width="3.3"/>
<text x="692.1" y="125" text-anchor="end" font-size="32">50</text>
<line x1="696.1" y1="179.42" x2="710" y2="179.42" stroke="#000" stroke-width="3.3"/>
<text x="692.1" y="190.62" text-anchor="end" font-size="32">40</text>
<line x1="696.1" y1="245.04" x2="710" y2="245.04" stroke="#000" stroke-width="3.3"/>
<text x="692.1" y="256.24" text-anchor="end" font-size="32">30</text>
<line x1="696.1" y1="310.66" x2="710" y2="310.66" stroke="#000" stroke-width="3.3"/>
<text x="692.1" y="321.86" text-anchor="end" font-size="32">20</text>
<line x1="696.1" y1="376.28" x2="710" y2="376.28" stroke="#000" stroke-width="3.3"/>
<text x="692.1" y="387.48" text-anchor="end" font-size="32">10</text>
<text x="692.1" y="453.1" text-anchor="end" font-size="32">0</text>
<line x1="708.3" y1="631.85" x2="708.3" y2="963.15" stroke="#000" stroke-width="3.3"/>
<line x1="694.4" y1="961.5" x2="928.6" y2="961.5" stroke="#000" stroke-width="3.3"/>
<line x1="694.4" y1="633.5" x2="708.3" y2="633.5" stroke="#000" stroke-width="3.3"/>
<text x="690.4" y="644.7" text-anchor="end" font-size="32">20</text>
<line x1="694.4" y1="715.5" x2="708.3" y2="715.5" stroke="#000" stroke-width="3.3"/>
<text x="690.4" y="726.7" text-anchor="end" font-size="32">15</text>
<line x1="694.4" y1="797.5" x2="708.3" y2="797.5" stroke="#000" stroke-width="3.3"/>
<text x="690.4" y="808.7" text-anchor="end" font-size="32">10</text>
<line x1="694.4" y1="879.5" x2="708.3" y2="879.5" stroke="#000" stroke-width="3.3"/>
<text x="690.4" y="890.7" text-anchor="end" font-size="32">5</text>
<text x="690.4" y="972.7" text-anchor="end" font-size="32">0</text>
<line x1="1048.7" y1="631.85" x2="1048.7" y2="963.15" stroke="#000" stroke-width="3.3"/>
<line x1="1034.8" y1="961.5" x2="1268.5" y2="961.5" stroke="#000" stroke-width="3.3"/>
<line x1="1034.8" y1="633.5" x2="1048.7" y2="633.5" stroke="#000" stroke-width="3.3"/>
<text x="1030.8" y="644.7" text-anchor="end" font-size="32">30</text>
<line x1="1034.8" y1="742.83" x2="1048.7" y2="742.83" stroke="#000" stroke-width="3.3"/>
<text x="1030.8" y="754.03" text-anchor="end" font-size="32">20</text>
<line x1="1034.8" y1="852.17" x2="1048.7" y2="852.17" stroke="#000" stroke-width="3.3"/>
<text x="1030.8" y="863.37" text-anchor="end" font-size="32">10</text>
<text x="1030.8" y="972.7" text-anchor="end" font-size="32">0</text>
<line x1="708.3" y1="1208.65" x2="708.3" y2="1540.05" stroke="#000" stroke-width="3.3"/>
<line x1="694.4" y1="1538.4" x2="928.4" y2="1538.4" stroke="#000" stroke-width="3.3"/>
<line x1="694.4" y1="1210.3" x2="708.3" y2="1210.3" stroke="#000" stroke-width="3.3"/>
<text x="690.4" y="1221.5" text-anchor="end" font-size="32">20</text>
<line x1="694.4" y1="1292.33" x2="708.3" y2="1292.33" stroke="#000" stroke-width="3.3"/>
<text x="690.4" y="1303.53" text-anchor="end" font-size="32">15</text>
<line x1="694.4" y1="1374.35" x2="708.3" y2="1374.35" stroke="#000" stroke-width="3.3"/>
<text x="690.4" y="1385.55" text-anchor="end" font-size="32">10</text>
<line x1="694.4" y1="1456.38" x2="708.3" y2="1456.38" stroke="#000" stroke-width="3.3"/>
<text x="690.4" y="1467.58" text-anchor="end" font-size="32">5</text>
<text x="690.4" y="1549.6" text-anchor="end" font-size="32">0</text>
<line x1="1048.85" y1="1208.65" x2="1048.85" y2="1540.05" stroke="#000" stroke-width="3.3"/>
<line x1="1034.95" y1="1538.4" x2="1268.45" y2="1538.4" stroke="#000" stroke-width="3.3"/>
<line x1="1034.95" y1="1210.3" x2="1048.85" y2="1210.3" stroke="#000" stroke-width="3.3"/>
<text x="1030.95" y="1221.5" text-anchor="end" font-size="32">40</text>
<line x1="1034.95" y1="1292.33" x2="1048.85" y2="1292.33" stroke="#000" stroke-width="3.3"/>
<text x="1030.95" y="1303.53" text-anchor="end" font-size="32">30</text>
<line x1="1034.95" y1="1374.35" x2="1048.85" y2="1374.35" stroke="#000" stroke-width="3.3"/>
<text x="1030.95" y="1385.55" text-anchor="end" font-size="32">20</text>
<line x1="1034.95" y1="1456.38" x2="1048.85" y2="1456.38" stroke="#000" stroke-width="3.3"/>
<text x="1030.95" y="1467.58" text-anchor="end" font-size="32">10</text>
<text x="1030.95" y="1549.6" text-anchor="end" font-size="32">0</text>
<line x1="1931.6" y1="631.85" x2="1931.6" y2="963.15" stroke="#000" stroke-width="3.3"/>
<line x1="1917.7" y1="961.5" x2="2151.4" y2="961.5" stroke="#000" stroke-width="3.3"/>
<line x1="1917.7" y1="633.5" x2="1931.6" y2="633.5" stroke="#000" stroke-width="3.3"/>
<text x="1913.7" y="644.7" text-anchor="end" font-size="32">15</text>
<line x1="1917.7" y1="742.83" x2="1931.6" y2="742.83" stroke="#000" stroke-width="3.3"/>
<text x="1913.7" y="754.03" text-anchor="end" font-size="32">10</text>
<line x1="1917.7" y1="852.17" x2="1931.6" y2="852.17" stroke="#000" stroke-width="3.3"/>
<text x="1913.7" y="863.37" text-anchor="end" font-size="32">5</text>
<text x="1913.7" y="972.7" text-anchor="end" font-size="32">0</text>
<line x1="2269.9" y1="631.85" x2="2269.9" y2="963.15" stroke="#000" stroke-width="3.3"/>
<line x1="2256" y1="961.5" x2="2489.3" y2="961.5" stroke="#000" stroke-width="3.3"/>
<line x1="2256" y1="633.5" x2="2269.9" y2="633.5" stroke="#000" stroke-width="3.3"/>
<text x="2252" y="644.7" text-anchor="end" font-size="32">25</text>
<line x1="2256" y1="699.1" x2="2269.9" y2="699.1" stroke="#000" stroke-width="3.3"/>
<text x="2252" y="710.3" text-anchor="end" font-size="32">20</text>
<line x1="2256" y1="764.7" x2="2269.9" y2="764.7" stroke="#000" stroke-width="3.3"/>
<text x="2252" y="775.9" text-anchor="end" font-size="32">15</text>
<line x1="2256" y1="830.3" x2="2269.9" y2="830.3" stroke="#000" stroke-width="3.3"/>
<text x="2252" y="841.5" text-anchor="end" font-size="32">10</text>
<line x1="2256" y1="895.9" x2="2269.9" y2="895.9" stroke="#000" stroke-width="3.3"/>
<text x="2252" y="907.1" text-anchor="end" font-size="32">5</text>
<text x="2252" y="972.7" text-anchor="end" font-size="32">0</text>
<line x1="1935.6" y1="1208.65" x2="1935.6" y2="1540.05" stroke="#000" stroke-width="3.3"/>
<line x1="1921.7" y1="1538.4" x2="2155.2" y2="1538.4" stroke="#000" stroke-width="3.3"/>
<line x1="1921.7" y1="1210.3" x2="1935.6" y2="1210.3" stroke="#000" stroke-width="3.3"/>
<text x="1917.7" y="1221.5" text-anchor="end" font-size="32">40</text>
<line x1="1921.7" y1="1292.33" x2="1935.6" y2="1292.33" stroke="#000" stroke-width="3.3"/>
<text x="1917.7" y="1303.53" text-anchor="end" font-size="32">30</text>
<line x1="1921.7" y1="1374.35" x2="1935.6" y2="1374.35" stroke="#000" stroke-width="3.3"/>
<text x="1917.7" y="1385.55" text-anchor="end" font-size="32">20</text>
<line x1="1921.7" y1="1456.38" x2="1935.6" y2="1456.38" stroke="#000" stroke-width="3.3"/>
<text x="1917.7" y="1467.58" text-anchor="end" font-size="32">10</text>
<text x="1917.7" y="1549.6" text-anchor="end" font-size="32">0</text>
<line x1="2269.9" y1="1208.65" x2="2269.9" y2="1540.05" stroke="#000" stroke-width="3.3"/>
<line x1="2256" y1="1538.4" x2="2489.3" y2="1538.4" stroke="#000" stroke-width="3.3"/>
<line x1="2256" y1="1210.3" x2="2269.9" y2="1210.3" stroke="#000" stroke-width="3.3"/>
<text x="2252" y="1221.5" text-anchor="end" font-size="32">40</text>
<line x1="2256" y1="1292.33" x2="2269.9" y2="1292.33" stroke="#000" stroke-width="3.3"/>
<text x="2252" y="1303.53" text-anchor="end" font-size="32">30</text>
<line x1="2256" y1="1374.35" x2="2269.9" y2="1374.35" stroke="#000" stroke-width="3.3"/>
<text x="2252" y="1385.55" text-anchor="end" font-size="32">20</text>
<line x1="2256" y1="1456.38" x2="2269.9" y2="1456.38" stroke="#000" stroke-width="3.3"/>
<text x="2252" y="1467.58" text-anchor="end" font-size="32">10</text>
<text x="2252" y="1549.6" text-anchor="end" font-size="32">0</text>
</svg>
</body></html>
